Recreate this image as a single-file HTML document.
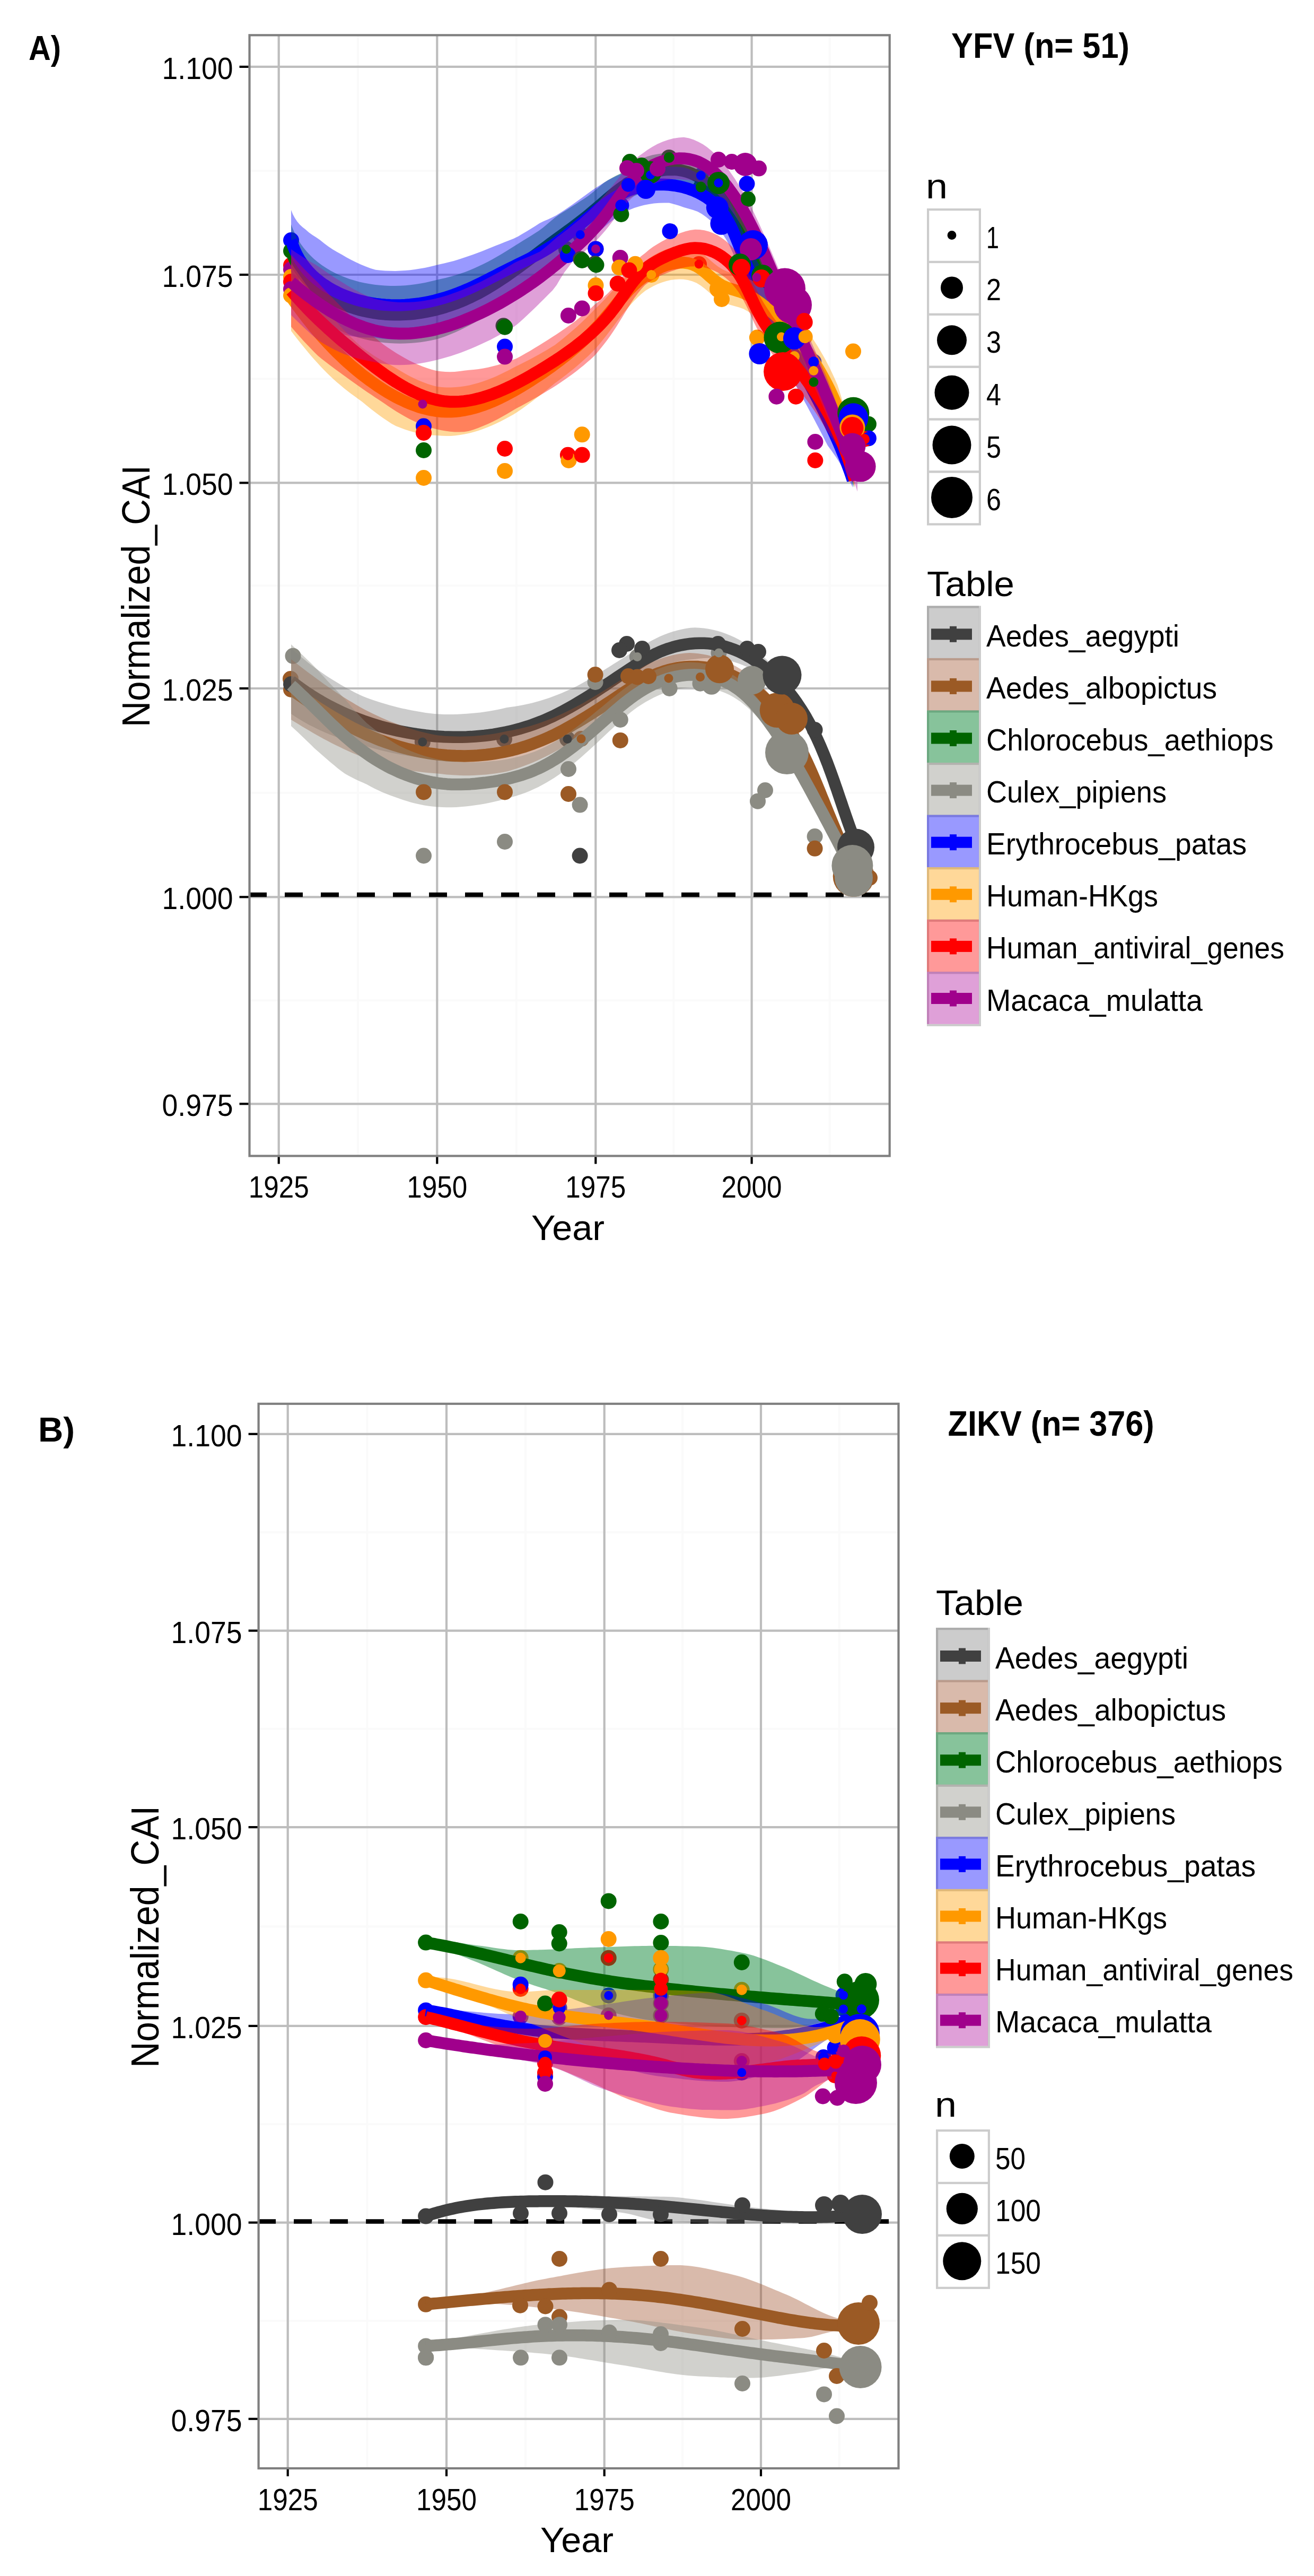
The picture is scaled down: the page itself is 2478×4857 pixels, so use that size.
<!DOCTYPE html>
<html lang="en"><head><meta charset="utf-8"><title>Normalized CAI over time: YFV and ZIKV</title>
<style>html,body{margin:0;padding:0;background:#fff}body{width:2478px;height:4857px;overflow:hidden}svg{display:block}text{white-space:pre}</style>
</head><body>
<svg width="2478" height="4857" viewBox="0 0 2478 4857" font-family='"Liberation Sans", sans-serif' fill="#000">
<rect width="2478" height="4857" fill="#fff"/>
<rect x="470.5" y="66.3" width="1207.2" height="2113.2" fill="#fff"/>
<line x1="675.0" x2="675.0" y1="66.3" y2="2179.5" stroke="#fafafa" stroke-width="4"/>
<line x1="973.8" x2="973.8" y1="66.3" y2="2179.5" stroke="#fafafa" stroke-width="4"/>
<line x1="1270.4" x2="1270.4" y1="66.3" y2="2179.5" stroke="#fafafa" stroke-width="4"/>
<line x1="1564.8" x2="1564.8" y1="66.3" y2="2179.5" stroke="#fafafa" stroke-width="4"/>
<line x1="470.5" x2="1677.7" y1="321.9" y2="321.9" stroke="#fafafa" stroke-width="4"/>
<line x1="470.5" x2="1677.7" y1="714.2" y2="714.2" stroke="#fafafa" stroke-width="4"/>
<line x1="470.5" x2="1677.7" y1="1104.2" y2="1104.2" stroke="#fafafa" stroke-width="4"/>
<line x1="470.5" x2="1677.7" y1="1494.7" y2="1494.7" stroke="#fafafa" stroke-width="4"/>
<line x1="470.5" x2="1677.7" y1="1886.3" y2="1886.3" stroke="#fafafa" stroke-width="4"/>
<line x1="525.7" x2="525.7" y1="66.3" y2="2179.5" stroke="#bdbdbd" stroke-width="4.2"/>
<line x1="824.3" x2="824.3" y1="66.3" y2="2179.5" stroke="#bdbdbd" stroke-width="4.2"/>
<line x1="1123.3" x2="1123.3" y1="66.3" y2="2179.5" stroke="#bdbdbd" stroke-width="4.2"/>
<line x1="1417.6" x2="1417.6" y1="66.3" y2="2179.5" stroke="#bdbdbd" stroke-width="4.2"/>
<line x1="470.5" x2="1677.7" y1="125.9" y2="125.9" stroke="#bdbdbd" stroke-width="4.2"/>
<line x1="470.5" x2="1677.7" y1="518.0" y2="518.0" stroke="#bdbdbd" stroke-width="4.2"/>
<line x1="470.5" x2="1677.7" y1="910.4" y2="910.4" stroke="#bdbdbd" stroke-width="4.2"/>
<line x1="470.5" x2="1677.7" y1="1298.0" y2="1298.0" stroke="#bdbdbd" stroke-width="4.2"/>
<line x1="470.5" x2="1677.7" y1="1691.3" y2="1691.3" stroke="#bdbdbd" stroke-width="4.2"/>
<line x1="470.5" x2="1677.7" y1="2081.3" y2="2081.3" stroke="#bdbdbd" stroke-width="4.2"/>
<line x1="469.0" x2="1677.7" y1="1687" y2="1687" stroke="#000" stroke-width="8.3" stroke-dasharray="34 34"/>
<circle cx="549.0" cy="453.0" r="15" fill="#0000ff"/>
<circle cx="549.0" cy="473.0" r="15" fill="#006400"/>
<circle cx="549.0" cy="500.0" r="15" fill="#ff0000"/>
<circle cx="549.0" cy="508.0" r="15" fill="#a0008c"/>
<circle cx="549.0" cy="522.0" r="15" fill="#ff9900"/>
<circle cx="549.0" cy="531.0" r="15" fill="#ff0000"/>
<circle cx="549.0" cy="545.0" r="15" fill="#a0008c"/>
<circle cx="549.0" cy="557.0" r="15" fill="#ff9900"/>
<circle cx="552.5" cy="1236.8" r="15" fill="#8b8b83"/>
<circle cx="548.0" cy="1280.0" r="15" fill="#9b5a25"/>
<circle cx="549.0" cy="1300.0" r="15" fill="#9b5a25"/>
<circle cx="549.0" cy="1290.0" r="15" fill="#404040"/>
<circle cx="796.8" cy="1398.9" r="15" fill="#404040"/>
<circle cx="951.0" cy="1393.4" r="15" fill="#404040"/>
<circle cx="1070.0" cy="1393.4" r="15" fill="#404040"/>
<circle cx="1096.0" cy="1393.0" r="15" fill="#9b5a25"/>
<circle cx="1261.0" cy="1279.0" r="15" fill="#9b5a25"/>
<circle cx="1320.5" cy="1276.5" r="15" fill="#9b5a25"/>
<circle cx="1201.8" cy="1238.5" r="15" fill="#8b8b83"/>
<circle cx="1355.5" cy="1231.0" r="15" fill="#8b8b83"/>
<circle cx="1640.0" cy="1655.0" r="15" fill="#9b5a25"/>
<circle cx="797.0" cy="762.0" r="15" fill="#a0008c"/>
<circle cx="1094.3" cy="442.6" r="15" fill="#0000ff"/>
<circle cx="1068.0" cy="470.0" r="15" fill="#006400"/>
<circle cx="1123.5" cy="469.4" r="15" fill="#a0008c"/>
<circle cx="1070.9" cy="857.8" r="15" fill="#ff0000"/>
<circle cx="1228.3" cy="518.0" r="15" fill="#ff9900"/>
<circle cx="1261.8" cy="296.9" r="15" fill="#006400"/>
<circle cx="1171.4" cy="387.3" r="15" fill="#0000ff"/>
<circle cx="1184.8" cy="348.8" r="15" fill="#0000ff"/>
<circle cx="1226.6" cy="330.0" r="15" fill="#0000ff"/>
<circle cx="1321.8" cy="352.6" r="15" fill="#006400"/>
<circle cx="1410.0" cy="375.5" r="15" fill="#006400"/>
<circle cx="1355.0" cy="345.0" r="15" fill="#0000ff"/>
<circle cx="1321.8" cy="331.0" r="15" fill="#0000ff"/>
<circle cx="1361.0" cy="564.0" r="15" fill="#ff9900"/>
<circle cx="1318.0" cy="500.0" r="15" fill="#ff9900"/>
<circle cx="1318.0" cy="498.0" r="15" fill="#ff0000"/>
<circle cx="1426.8" cy="523.0" r="15" fill="#a0008c"/>
<circle cx="1427.9" cy="636.6" r="15" fill="#ff9900"/>
<circle cx="1473.5" cy="635.0" r="15" fill="#ff9900"/>
<circle cx="1517.7" cy="635.0" r="15" fill="#ff9900"/>
<circle cx="1498.0" cy="672.0" r="15" fill="#ff9900"/>
<circle cx="1517.7" cy="607.7" r="15" fill="#ff0000"/>
<circle cx="1534.4" cy="682.3" r="15" fill="#0000ff"/>
<circle cx="1534.4" cy="699.0" r="15" fill="#ff9900"/>
<circle cx="1534.4" cy="720.3" r="15" fill="#006400"/>
<circle cx="1637.9" cy="799.7" r="15" fill="#006400"/>
<circle cx="1637.9" cy="826.4" r="15" fill="#0000ff"/>
<circle cx="1630.0" cy="828.0" r="15" fill="#ff0000"/>
<path d="M549.0,1222.0 L555.7,1228.1 L562.4,1234.0 L569.3,1239.8 L576.3,1245.6 L583.4,1251.2 L590.7,1256.7 L598.0,1262.0 L605.4,1267.3 L612.9,1272.4 L620.5,1277.4 L628.2,1282.3 L636.0,1287.1 L643.8,1291.7 L651.8,1296.2 L659.8,1300.6 L667.8,1304.9 L676.0,1309.0 L684.2,1312.8 L692.4,1315.9 L700.7,1318.9 L709.0,1321.8 L717.4,1324.5 L725.9,1327.0 L734.3,1329.5 L742.8,1331.8 L751.3,1333.9 L759.9,1335.9 L768.5,1337.8 L777.1,1339.5 L785.7,1341.1 L794.3,1342.6 L802.9,1343.9 L811.5,1345.0 L820.1,1346.0 L828.7,1346.6 L837.3,1346.9 L845.9,1346.9 L854.5,1346.9 L863.0,1346.7 L871.5,1346.3 L880.0,1345.8 L888.5,1345.1 L896.9,1344.3 L905.3,1343.4 L913.6,1342.3 L922.0,1341.0 L930.3,1339.6 L938.6,1338.0 L946.8,1336.2 L955.0,1334.3 L963.2,1333.1 L971.3,1332.0 L979.5,1330.6 L987.5,1329.1 L995.6,1327.3 L1003.6,1325.4 L1011.6,1323.3 L1019.6,1321.1 L1027.5,1318.6 L1035.4,1315.9 L1043.3,1313.1 L1051.1,1310.1 L1058.9,1306.9 L1066.6,1303.5 L1074.4,1300.0 L1082.1,1296.4 L1089.7,1292.7 L1097.3,1288.6 L1104.9,1284.2 L1112.5,1279.7 L1120.0,1275.2 L1127.5,1270.6 L1135.0,1266.0 L1142.4,1261.3 L1149.8,1256.7 L1157.1,1252.0 L1164.4,1247.4 L1171.7,1242.8 L1178.9,1238.2 L1186.2,1233.7 L1193.3,1229.3 L1200.5,1224.9 L1207.7,1220.3 L1214.9,1215.9 L1222.2,1211.6 L1229.6,1207.5 L1237.0,1203.7 L1244.6,1200.1 L1252.4,1196.8 L1260.3,1193.8 L1268.4,1191.1 L1276.6,1188.7 L1285.0,1186.7 L1293.5,1185.1 L1302.0,1183.8 L1310.6,1183.2 L1319.1,1183.7 L1327.7,1184.5 L1336.2,1185.7 L1344.6,1187.4 L1353.0,1189.5 L1361.2,1192.0 L1369.4,1194.9 L1377.4,1198.2 L1385.3,1201.8 L1393.1,1205.8 L1400.8,1210.2 L1408.3,1214.8 L1415.7,1219.7 L1423.0,1225.0 L1430.1,1230.4 L1437.1,1236.2 L1443.9,1242.1 L1450.6,1248.3 L1457.0,1254.7 L1463.4,1261.2 L1469.5,1268.0 L1475.4,1274.9 L1481.2,1281.9 L1486.8,1289.0 L1492.1,1296.2 L1497.3,1303.3 L1502.3,1310.6 L1507.1,1317.9 L1511.8,1325.4 L1516.3,1332.9 L1520.7,1340.5 L1524.9,1348.2 L1529.0,1356.0 L1532.9,1363.8 L1536.7,1371.8 L1540.4,1379.7 L1544.0,1387.8 L1547.5,1395.9 L1550.9,1404.0 L1554.2,1412.2 L1557.4,1420.5 L1560.6,1428.7 L1563.6,1437.0 L1566.7,1445.3 L1569.6,1453.7 L1572.6,1462.1 L1575.4,1470.4 L1578.3,1478.8 L1581.1,1487.2 L1583.9,1495.6 L1586.7,1503.9 L1589.5,1512.3 L1592.3,1520.6 L1595.1,1528.9 L1597.9,1537.2 L1600.8,1545.5 L1603.7,1553.7 L1606.6,1561.9 L1609.6,1570.0 L1612.6,1578.1 L1615.6,1586.1 L1618.8,1594.1 L1622.0,1602.0 L1622.0,1618.0 L1618.8,1610.4 L1615.6,1602.7 L1612.6,1595.0 L1609.6,1587.2 L1606.6,1579.3 L1603.7,1571.4 L1600.8,1563.4 L1597.9,1555.4 L1595.1,1547.4 L1592.3,1539.3 L1589.5,1531.3 L1586.7,1523.2 L1583.9,1515.0 L1581.1,1506.9 L1578.3,1498.8 L1575.4,1490.7 L1572.6,1482.6 L1569.6,1474.5 L1566.7,1466.4 L1563.6,1458.4 L1560.6,1450.4 L1557.4,1442.4 L1554.2,1434.4 L1550.9,1426.5 L1547.5,1418.7 L1544.0,1410.9 L1540.4,1403.2 L1536.7,1395.6 L1532.9,1388.0 L1529.0,1380.5 L1524.9,1373.1 L1520.7,1365.8 L1516.3,1358.6 L1511.8,1351.5 L1507.1,1344.4 L1502.3,1337.5 L1497.3,1330.8 L1492.1,1324.1 L1486.8,1317.8 L1481.2,1311.6 L1475.4,1305.6 L1469.5,1299.8 L1463.4,1294.1 L1457.0,1288.7 L1450.6,1283.4 L1443.9,1278.4 L1437.1,1273.6 L1430.1,1269.1 L1423.0,1264.9 L1415.7,1261.0 L1408.3,1257.3 L1400.8,1254.0 L1393.1,1251.0 L1385.3,1248.4 L1377.4,1246.1 L1369.4,1244.2 L1361.2,1242.8 L1353.0,1241.7 L1344.6,1241.0 L1336.2,1240.8 L1327.7,1241.1 L1319.1,1241.7 L1310.6,1242.8 L1302.0,1243.6 L1293.5,1244.6 L1285.0,1245.9 L1276.6,1247.6 L1268.4,1249.6 L1260.3,1252.0 L1252.4,1254.7 L1244.6,1257.8 L1237.0,1261.1 L1229.6,1264.6 L1222.2,1268.4 L1214.9,1272.4 L1207.7,1276.6 L1200.5,1281.0 L1193.3,1285.8 L1186.2,1290.8 L1178.9,1295.8 L1171.7,1300.9 L1164.4,1306.0 L1157.1,1311.2 L1149.8,1316.4 L1142.4,1321.6 L1135.0,1326.8 L1127.5,1332.0 L1120.0,1337.1 L1112.5,1342.2 L1104.9,1347.3 L1097.3,1352.3 L1089.7,1357.4 L1082.1,1362.7 L1074.4,1367.8 L1066.6,1372.9 L1058.9,1377.8 L1051.1,1382.6 L1043.3,1387.3 L1035.4,1391.7 L1027.5,1396.0 L1019.6,1400.1 L1011.6,1404.0 L1003.6,1407.7 L995.6,1411.2 L987.5,1414.6 L979.5,1417.8 L971.3,1420.8 L963.2,1423.7 L955.0,1426.2 L946.8,1427.7 L938.6,1428.9 L930.3,1430.0 L922.0,1430.9 L913.6,1431.7 L905.3,1432.3 L896.9,1432.8 L888.5,1433.1 L880.0,1433.2 L871.5,1433.2 L863.0,1433.0 L854.5,1432.7 L845.9,1432.3 L837.3,1431.7 L828.7,1430.9 L820.1,1430.3 L811.5,1429.7 L802.9,1429.1 L794.3,1428.2 L785.7,1427.3 L777.1,1426.2 L768.5,1424.9 L759.9,1423.5 L751.3,1422.0 L742.8,1420.3 L734.3,1418.5 L725.9,1416.6 L717.4,1414.5 L709.0,1412.2 L700.7,1409.9 L692.4,1407.4 L684.2,1404.7 L676.0,1402.5 L667.8,1400.3 L659.8,1398.0 L651.8,1395.5 L643.8,1392.9 L636.0,1390.2 L628.2,1387.3 L620.5,1384.2 L612.9,1381.0 L605.4,1377.7 L598.0,1374.3 L590.7,1370.6 L583.4,1366.9 L576.3,1363.0 L569.3,1359.0 L562.4,1354.8 L555.7,1350.5 L549.0,1346.0Z" fill="#7f7f7f" fill-opacity="0.4"/>
<path d="M549.0,1284.0 L555.7,1289.3 L562.4,1294.4 L569.3,1299.4 L576.3,1304.3 L583.4,1309.0 L590.7,1313.7 L598.0,1318.1 L605.4,1322.5 L612.9,1326.7 L620.5,1330.8 L628.2,1334.8 L636.0,1338.6 L643.8,1342.3 L651.8,1345.9 L659.8,1349.3 L667.8,1352.6 L676.0,1355.7 L684.2,1358.8 L692.4,1361.6 L700.7,1364.4 L709.0,1367.0 L717.4,1369.5 L725.9,1371.8 L734.3,1374.0 L742.8,1376.0 L751.3,1378.0 L759.9,1379.7 L768.5,1381.4 L777.1,1382.8 L785.7,1384.2 L794.3,1385.4 L802.9,1386.5 L811.5,1387.4 L820.1,1388.2 L828.7,1388.8 L837.3,1389.3 L845.9,1389.6 L854.5,1389.8 L863.0,1389.8 L871.5,1389.7 L880.0,1389.5 L888.5,1389.1 L896.9,1388.5 L905.3,1387.8 L913.6,1387.0 L922.0,1386.0 L930.3,1384.8 L938.6,1383.4 L946.8,1381.9 L955.0,1380.3 L963.2,1378.4 L971.3,1376.4 L979.5,1374.2 L987.5,1371.8 L995.6,1369.3 L1003.6,1366.6 L1011.6,1363.7 L1019.6,1360.6 L1027.5,1357.3 L1035.4,1353.8 L1043.3,1350.2 L1051.1,1346.3 L1058.9,1342.4 L1066.6,1338.2 L1074.4,1333.9 L1082.1,1329.5 L1089.7,1325.0 L1097.3,1320.4 L1104.9,1315.7 L1112.5,1311.0 L1120.0,1306.2 L1127.5,1301.3 L1135.0,1296.4 L1142.4,1291.5 L1149.8,1286.5 L1157.1,1281.6 L1164.4,1276.7 L1171.7,1271.8 L1178.9,1267.0 L1186.2,1262.3 L1193.3,1257.6 L1200.5,1253.0 L1207.7,1248.5 L1214.9,1244.2 L1222.2,1240.0 L1229.6,1236.1 L1237.0,1232.4 L1244.6,1228.9 L1252.4,1225.8 L1260.3,1222.9 L1268.4,1220.4 L1276.6,1218.2 L1285.0,1216.3 L1293.5,1214.8 L1302.0,1213.7 L1310.6,1213.0 L1319.1,1212.7 L1327.7,1212.8 L1336.2,1213.3 L1344.6,1214.2 L1353.0,1215.6 L1361.2,1217.4 L1369.4,1219.6 L1377.4,1222.2 L1385.3,1225.1 L1393.1,1228.4 L1400.8,1232.1 L1408.3,1236.1 L1415.7,1240.3 L1423.0,1244.9 L1430.1,1249.8 L1437.1,1254.9 L1443.9,1260.3 L1450.6,1265.9 L1457.0,1271.7 L1463.4,1277.7 L1469.5,1283.9 L1475.4,1290.2 L1481.2,1296.7 L1486.8,1303.4 L1492.1,1310.2 L1497.3,1317.1 L1502.3,1324.1 L1507.1,1331.2 L1511.8,1338.4 L1516.3,1345.7 L1520.7,1353.1 L1524.9,1360.7 L1529.0,1368.2 L1532.9,1375.9 L1536.7,1383.7 L1540.4,1391.5 L1544.0,1399.4 L1547.5,1407.3 L1550.9,1415.3 L1554.2,1423.3 L1557.4,1431.4 L1560.6,1439.5 L1563.6,1447.7 L1566.7,1455.9 L1569.6,1464.1 L1572.6,1472.3 L1575.4,1480.6 L1578.3,1488.8 L1581.1,1497.1 L1583.9,1505.3 L1586.7,1513.5 L1589.5,1521.8 L1592.3,1530.0 L1595.1,1538.2 L1597.9,1546.3 L1600.8,1554.5 L1603.7,1562.5 L1606.6,1570.6 L1609.6,1578.6 L1612.6,1586.5 L1615.6,1594.4 L1618.8,1602.2 L1622.0,1610.0" fill="none" stroke="#404040" stroke-width="22.5" stroke-linejoin="round"/>
<path d="M549.0,1243.0 L555.5,1248.1 L562.2,1253.3 L568.9,1258.5 L575.7,1263.7 L582.6,1268.9 L589.6,1274.1 L596.6,1279.3 L603.8,1284.5 L611.0,1289.7 L618.3,1294.8 L625.7,1299.8 L633.2,1304.9 L640.7,1309.8 L648.3,1314.7 L655.9,1319.4 L663.6,1324.1 L671.4,1328.7 L679.2,1333.2 L687.0,1337.4 L694.9,1341.5 L702.9,1345.5 L710.9,1349.3 L718.9,1353.0 L727.0,1356.5 L735.1,1359.9 L743.3,1363.1 L751.4,1366.2 L759.6,1369.1 L767.9,1371.8 L776.1,1374.4 L784.4,1376.9 L792.6,1379.2 L800.9,1381.3 L809.2,1383.2 L817.5,1385.0 L825.9,1386.5 L834.2,1387.3 L842.5,1387.9 L850.8,1388.3 L859.1,1388.6 L867.4,1388.7 L875.7,1388.6 L883.9,1388.3 L892.2,1387.9 L900.4,1387.3 L908.7,1386.6 L916.9,1385.6 L925.1,1384.5 L933.3,1383.2 L941.4,1381.7 L949.6,1380.1 L957.7,1378.3 L965.8,1376.9 L973.8,1375.3 L981.9,1373.5 L989.9,1371.6 L997.9,1369.4 L1005.9,1367.0 L1013.8,1364.5 L1021.7,1361.8 L1029.6,1358.8 L1037.5,1355.7 L1045.3,1352.5 L1053.1,1349.1 L1060.8,1345.5 L1068.5,1341.8 L1076.2,1338.0 L1083.9,1334.1 L1091.5,1330.1 L1099.0,1325.9 L1106.5,1321.5 L1114.0,1317.1 L1121.4,1312.7 L1128.8,1308.2 L1136.2,1303.7 L1143.4,1299.2 L1150.7,1294.7 L1157.9,1290.2 L1165.0,1285.7 L1172.1,1281.3 L1179.2,1276.9 L1186.2,1272.6 L1193.2,1268.4 L1200.3,1264.3 L1207.3,1260.1 L1214.5,1256.1 L1221.7,1252.3 L1229.0,1248.8 L1236.4,1245.5 L1244.0,1242.5 L1251.7,1239.8 L1259.6,1237.4 L1267.5,1235.4 L1275.6,1233.7 L1283.8,1232.4 L1292.0,1231.5 L1300.3,1231.1 L1308.6,1231.4 L1316.9,1232.2 L1325.2,1233.4 L1333.6,1235.1 L1341.9,1237.2 L1350.1,1239.6 L1358.2,1242.5 L1366.3,1245.7 L1374.3,1249.3 L1382.1,1253.2 L1389.7,1257.4 L1397.2,1261.9 L1404.5,1266.8 L1411.5,1271.9 L1418.4,1277.3 L1425.0,1282.9 L1431.5,1288.8 L1437.7,1294.8 L1443.8,1301.1 L1449.6,1307.5 L1455.3,1314.1 L1460.8,1320.8 L1466.2,1327.7 L1471.3,1334.6 L1476.3,1341.8 L1481.1,1349.0 L1485.8,1356.3 L1490.4,1363.7 L1494.8,1371.2 L1499.0,1378.7 L1503.2,1386.3 L1507.2,1394.0 L1511.2,1401.7 L1515.0,1409.5 L1518.7,1417.4 L1522.4,1425.4 L1526.0,1433.4 L1529.5,1441.4 L1533.0,1449.4 L1536.4,1457.5 L1539.7,1465.7 L1543.0,1473.8 L1546.3,1482.0 L1549.5,1490.1 L1552.8,1498.3 L1556.0,1506.5 L1559.2,1514.6 L1562.4,1522.8 L1565.7,1530.9 L1568.9,1539.0 L1572.2,1547.0 L1575.5,1555.0 L1578.8,1563.0 L1582.2,1570.9 L1585.7,1578.8 L1589.2,1586.6 L1592.8,1594.3 L1596.4,1602.0 L1600.2,1609.5 L1604.0,1617.0 L1608.0,1624.4 L1612.0,1631.7 L1612.0,1648.3 L1608.0,1641.4 L1604.0,1634.3 L1600.2,1627.2 L1596.4,1620.0 L1592.8,1612.7 L1589.2,1605.3 L1585.7,1597.8 L1582.2,1590.3 L1578.8,1582.7 L1575.5,1575.0 L1572.2,1567.3 L1568.9,1559.6 L1565.7,1551.8 L1562.4,1544.0 L1559.2,1536.2 L1556.0,1528.3 L1552.8,1520.5 L1549.5,1512.6 L1546.3,1504.7 L1543.0,1496.9 L1539.7,1489.1 L1536.4,1481.3 L1533.0,1473.5 L1529.5,1465.7 L1526.0,1458.0 L1522.4,1450.4 L1518.7,1442.8 L1515.0,1435.3 L1511.2,1427.8 L1507.2,1420.4 L1503.2,1413.1 L1499.0,1405.9 L1494.8,1398.8 L1490.4,1391.8 L1485.8,1385.0 L1481.1,1378.3 L1476.3,1371.7 L1471.3,1365.2 L1466.2,1358.9 L1460.8,1352.8 L1455.3,1346.8 L1449.6,1340.9 L1443.8,1335.3 L1437.7,1329.8 L1431.5,1324.6 L1425.0,1319.6 L1418.4,1314.9 L1411.5,1310.4 L1404.5,1306.2 L1397.2,1302.3 L1389.7,1298.6 L1382.1,1295.3 L1374.3,1292.3 L1366.3,1289.7 L1358.2,1287.4 L1350.1,1285.6 L1341.9,1284.1 L1333.6,1283.0 L1325.2,1282.3 L1316.9,1282.1 L1308.6,1282.3 L1300.3,1282.9 L1292.0,1283.5 L1283.8,1284.4 L1275.6,1285.7 L1267.5,1287.4 L1259.6,1289.4 L1251.7,1291.8 L1244.0,1294.5 L1236.4,1297.5 L1229.0,1300.8 L1221.7,1304.3 L1214.5,1308.1 L1207.3,1312.1 L1200.3,1316.3 L1193.2,1320.9 L1186.2,1325.6 L1179.2,1330.5 L1172.1,1335.4 L1165.0,1340.4 L1157.9,1345.4 L1150.7,1350.4 L1143.4,1355.5 L1136.2,1360.5 L1128.8,1365.6 L1121.4,1370.6 L1114.0,1375.6 L1106.5,1380.5 L1099.0,1385.4 L1091.5,1390.3 L1083.9,1395.2 L1076.2,1400.0 L1068.5,1404.7 L1060.8,1409.3 L1053.1,1413.7 L1045.3,1418.1 L1037.5,1422.2 L1029.6,1426.2 L1021.7,1430.1 L1013.8,1433.7 L1005.9,1437.2 L997.9,1440.5 L989.9,1443.6 L981.9,1446.5 L973.8,1449.2 L965.8,1451.8 L957.7,1454.2 L949.6,1455.9 L941.4,1457.3 L933.3,1458.5 L925.1,1459.6 L916.9,1460.4 L908.7,1461.1 L900.4,1461.6 L892.2,1462.0 L883.9,1462.2 L875.7,1462.2 L867.4,1462.0 L859.1,1461.6 L850.8,1461.1 L842.5,1460.4 L834.2,1459.6 L825.9,1458.6 L817.5,1458.0 L809.2,1457.3 L800.9,1456.5 L792.6,1455.6 L784.4,1454.5 L776.1,1453.2 L767.9,1451.7 L759.6,1450.1 L751.4,1448.4 L743.3,1446.5 L735.1,1444.4 L727.0,1442.2 L718.9,1439.8 L710.9,1437.2 L702.9,1434.6 L694.9,1431.7 L687.0,1428.7 L679.2,1425.6 L671.4,1422.5 L663.6,1419.2 L655.9,1415.8 L648.3,1412.2 L640.7,1408.6 L633.2,1404.9 L625.7,1401.2 L618.3,1397.3 L611.0,1393.4 L603.8,1389.4 L596.6,1385.4 L589.6,1381.4 L582.6,1377.3 L575.7,1373.3 L568.9,1369.2 L562.2,1365.1 L555.5,1361.0 L549.0,1357.0Z" fill="#a0522d" fill-opacity="0.4"/>
<path d="M549.0,1300.0 L555.5,1304.6 L562.2,1309.2 L568.9,1313.8 L575.7,1318.5 L582.6,1323.1 L589.6,1327.7 L596.6,1332.4 L603.8,1337.0 L611.0,1341.5 L618.3,1346.0 L625.7,1350.5 L633.2,1354.9 L640.7,1359.2 L648.3,1363.5 L655.9,1367.6 L663.6,1371.7 L671.4,1375.6 L679.2,1379.4 L687.0,1383.1 L694.9,1386.6 L702.9,1390.0 L710.9,1393.3 L718.9,1396.4 L727.0,1399.3 L735.1,1402.1 L743.3,1404.8 L751.4,1407.3 L759.6,1409.6 L767.9,1411.8 L776.1,1413.8 L784.4,1415.7 L792.6,1417.4 L800.9,1418.9 L809.2,1420.3 L817.5,1421.5 L825.9,1422.6 L834.2,1423.4 L842.5,1424.2 L850.8,1424.7 L859.1,1425.1 L867.4,1425.3 L875.7,1425.4 L883.9,1425.2 L892.2,1424.9 L900.4,1424.5 L908.7,1423.8 L916.9,1423.0 L925.1,1422.0 L933.3,1420.8 L941.4,1419.5 L949.6,1418.0 L957.7,1416.2 L965.8,1414.4 L973.8,1412.3 L981.9,1410.0 L989.9,1407.6 L997.9,1404.9 L1005.9,1402.1 L1013.8,1399.1 L1021.7,1395.9 L1029.6,1392.5 L1037.5,1389.0 L1045.3,1385.3 L1053.1,1381.4 L1060.8,1377.4 L1068.5,1373.2 L1076.2,1369.0 L1083.9,1364.6 L1091.5,1360.2 L1099.0,1355.6 L1106.5,1351.0 L1114.0,1346.4 L1121.4,1341.6 L1128.8,1336.9 L1136.2,1332.1 L1143.4,1327.3 L1150.7,1322.6 L1157.9,1317.8 L1165.0,1313.0 L1172.1,1308.3 L1179.2,1303.7 L1186.2,1299.1 L1193.2,1294.6 L1200.3,1290.3 L1207.3,1286.1 L1214.5,1282.1 L1221.7,1278.3 L1229.0,1274.8 L1236.4,1271.5 L1244.0,1268.5 L1251.7,1265.8 L1259.6,1263.4 L1267.5,1261.4 L1275.6,1259.7 L1283.8,1258.4 L1292.0,1257.5 L1300.3,1257.0 L1308.6,1256.9 L1316.9,1257.1 L1325.2,1257.9 L1333.6,1259.0 L1341.9,1260.6 L1350.1,1262.6 L1358.2,1265.0 L1366.3,1267.7 L1374.3,1270.8 L1382.1,1274.3 L1389.7,1278.0 L1397.2,1282.1 L1404.5,1286.5 L1411.5,1291.2 L1418.4,1296.1 L1425.0,1301.3 L1431.5,1306.7 L1437.7,1312.3 L1443.8,1318.2 L1449.6,1324.2 L1455.3,1330.4 L1460.8,1336.8 L1466.2,1343.3 L1471.3,1349.9 L1476.3,1356.7 L1481.1,1363.6 L1485.8,1370.6 L1490.4,1377.8 L1494.8,1385.0 L1499.0,1392.3 L1503.2,1399.7 L1507.2,1407.2 L1511.2,1414.8 L1515.0,1422.4 L1518.7,1430.1 L1522.4,1437.9 L1526.0,1445.7 L1529.5,1453.6 L1533.0,1461.5 L1536.4,1469.4 L1539.7,1477.4 L1543.0,1485.4 L1546.3,1493.4 L1549.5,1501.4 L1552.8,1509.4 L1556.0,1517.4 L1559.2,1525.4 L1562.4,1533.4 L1565.7,1541.3 L1568.9,1549.3 L1572.2,1557.2 L1575.5,1565.0 L1578.8,1572.8 L1582.2,1580.6 L1585.7,1588.3 L1589.2,1595.9 L1592.8,1603.5 L1596.4,1611.0 L1600.2,1618.4 L1604.0,1625.7 L1608.0,1632.9 L1612.0,1640.0" fill="none" stroke="#9b5a25" stroke-width="22.5" stroke-linejoin="round"/>
<path d="M549.0,423.0 L552.7,432.8 L556.9,442.1 L561.6,451.0 L566.9,459.4 L572.6,467.3 L578.8,474.8 L585.4,481.8 L592.4,488.4 L599.7,494.5 L607.4,500.2 L615.4,505.5 L623.7,510.4 L632.2,514.9 L640.9,519.0 L649.9,522.6 L659.0,525.9 L668.3,528.8 L677.7,531.4 L687.2,533.5 L696.8,535.3 L706.3,536.7 L716.0,537.8 L725.6,538.6 L735.3,539.0 L744.9,539.0 L754.6,538.8 L764.3,538.2 L773.9,537.3 L783.6,536.1 L793.1,534.5 L802.7,532.7 L812.2,530.6 L821.7,528.2 L831.1,526.1 L840.4,524.0 L849.6,521.6 L858.8,518.9 L867.9,516.0 L876.9,512.9 L885.7,509.4 L894.5,505.7 L903.2,501.8 L911.7,497.7 L920.2,493.4 L928.5,488.9 L936.8,484.3 L945.0,479.5 L953.2,474.5 L961.2,469.5 L969.2,464.4 L977.2,459.4 L985.1,454.6 L992.9,449.7 L1000.7,444.9 L1008.5,440.0 L1016.3,435.1 L1024.0,429.3 L1031.7,422.7 L1039.4,416.2 L1047.2,409.7 L1054.9,404.3 L1062.5,399.5 L1070.2,394.7 L1077.9,389.8 L1085.6,384.9 L1093.2,380.1 L1100.8,375.2 L1108.4,370.1 L1115.9,364.2 L1123.4,357.9 L1130.9,351.4 L1138.4,345.0 L1145.9,340.1 L1153.5,335.8 L1161.2,331.6 L1169.1,327.7 L1177.1,321.4 L1185.4,315.1 L1193.9,309.1 L1202.6,303.6 L1211.7,298.5 L1221.0,294.9 L1230.5,292.3 L1240.1,290.4 L1249.7,289.1 L1259.3,288.5 L1268.8,288.7 L1278.2,289.7 L1287.3,291.5 L1296.2,294.1 L1304.8,297.3 L1313.1,301.3 L1321.1,306.0 L1328.8,311.3 L1336.2,317.3 L1343.3,323.8 L1350.1,330.6 L1356.6,337.9 L1362.9,345.2 L1368.9,352.3 L1374.6,359.7 L1380.1,367.2 L1385.4,374.9 L1390.4,382.7 L1395.2,390.7 L1399.9,398.9 L1404.4,407.1 L1408.7,415.4 L1412.9,423.9 L1417.0,432.4 L1421.0,441.1 L1424.9,450.1 L1428.8,459.2 L1432.6,468.3 L1436.4,477.4 L1440.2,486.5 L1443.9,495.6 L1447.7,504.7 L1451.5,513.7 L1455.4,522.8 L1459.4,531.7 L1463.4,540.7 L1467.4,549.6 L1471.5,558.4 L1475.7,567.3 L1479.8,576.1 L1484.1,584.9 L1488.3,593.6 L1492.6,602.3 L1496.9,611.1 L1501.2,619.8 L1505.5,628.4 L1509.8,637.1 L1514.1,645.8 L1518.5,654.5 L1522.8,663.1 L1527.1,671.8 L1531.4,680.5 L1535.7,689.2 L1539.9,697.9 L1544.1,706.6 L1548.3,715.3 L1552.5,724.1 L1556.6,732.8 L1560.6,741.9 L1564.6,752.5 L1568.6,763.1 L1572.5,773.7 L1576.3,784.3 L1580.0,794.9 L1583.7,805.5 L1587.3,816.2 L1590.9,826.8 L1594.3,837.5 L1597.6,848.1 L1600.9,858.8 L1604.0,869.5 L1607.1,880.3 L1610.0,891.0 L1610.0,919.0 L1607.1,910.8 L1604.0,902.8 L1600.9,894.9 L1597.6,887.0 L1594.3,879.3 L1590.9,871.7 L1587.3,864.1 L1583.7,856.6 L1580.0,849.2 L1576.3,841.9 L1572.5,834.7 L1568.6,827.5 L1564.6,820.4 L1560.6,813.3 L1556.6,804.8 L1552.5,796.1 L1548.3,787.3 L1544.1,778.6 L1539.9,769.9 L1535.7,761.2 L1531.4,752.5 L1527.1,743.8 L1522.8,735.1 L1518.5,726.5 L1514.1,717.8 L1509.8,709.1 L1505.5,700.4 L1501.2,691.8 L1496.9,683.1 L1492.6,674.3 L1488.3,665.6 L1484.1,656.9 L1479.8,648.1 L1475.7,639.3 L1471.5,630.4 L1467.4,621.6 L1463.4,612.7 L1459.4,603.7 L1455.4,594.8 L1451.5,585.7 L1447.7,576.7 L1443.9,567.6 L1440.2,558.5 L1436.4,549.4 L1432.6,540.3 L1428.8,531.2 L1424.9,522.1 L1421.0,513.1 L1417.0,503.8 L1412.9,494.5 L1408.7,485.2 L1404.4,476.0 L1399.9,466.8 L1395.2,457.8 L1390.4,448.8 L1385.4,440.0 L1380.1,431.2 L1374.6,422.6 L1368.9,414.1 L1362.9,405.7 L1356.6,397.9 L1350.1,390.6 L1343.3,383.8 L1336.2,377.3 L1328.8,371.3 L1321.1,366.0 L1313.1,361.3 L1304.8,357.3 L1296.2,354.1 L1287.3,352.0 L1278.2,350.9 L1268.8,350.6 L1259.3,351.2 L1249.7,352.5 L1240.1,354.5 L1230.5,357.1 L1221.0,360.4 L1211.7,363.8 L1202.6,366.8 L1193.9,370.4 L1185.4,374.5 L1177.1,379.0 L1169.1,384.2 L1161.2,392.3 L1153.5,400.6 L1145.9,408.9 L1138.4,417.0 L1130.9,423.4 L1123.4,429.9 L1115.9,436.2 L1108.4,442.8 L1100.8,449.9 L1093.2,456.9 L1085.6,463.7 L1077.9,470.4 L1070.2,476.7 L1062.5,483.1 L1054.9,489.4 L1047.2,495.2 L1039.4,500.1 L1031.7,505.1 L1024.0,510.1 L1016.3,516.0 L1008.5,522.9 L1000.7,529.8 L992.9,536.7 L985.1,543.5 L977.2,550.3 L969.2,556.9 L961.2,563.1 L953.2,569.2 L945.0,575.2 L936.8,581.2 L928.5,586.9 L920.2,592.5 L911.7,598.0 L903.2,603.3 L894.5,608.4 L885.7,613.2 L876.9,617.8 L867.9,622.2 L858.8,626.4 L849.6,630.3 L840.4,633.9 L831.1,637.3 L821.7,640.1 L812.2,642.1 L802.7,643.8 L793.1,645.2 L783.6,646.3 L773.9,647.0 L764.3,647.5 L754.6,647.7 L744.9,647.5 L735.3,647.1 L725.6,646.2 L716.0,645.1 L706.3,643.6 L696.8,641.7 L687.2,639.5 L677.7,637.0 L668.3,634.0 L659.0,630.7 L649.9,627.0 L640.9,623.0 L632.2,618.5 L623.7,613.7 L615.4,608.4 L607.4,602.8 L599.7,596.7 L592.4,590.3 L585.4,583.4 L578.8,576.1 L572.6,568.3 L566.9,560.1 L561.6,551.5 L556.9,542.5 L552.7,533.0 L549.0,523.0Z" fill="#007f2a" fill-opacity="0.47"/>
<path d="M549.0,473.0 L552.7,482.9 L556.9,492.3 L561.6,501.3 L566.9,509.8 L572.6,517.8 L578.8,525.4 L585.4,532.6 L592.4,539.3 L599.7,545.6 L607.4,551.5 L615.4,557.0 L623.7,562.0 L632.2,566.7 L640.9,571.0 L649.9,574.8 L659.0,578.3 L668.3,581.4 L677.7,584.2 L687.2,586.5 L696.8,588.5 L706.3,590.2 L716.0,591.5 L725.6,592.4 L735.3,593.0 L744.9,593.3 L754.6,593.2 L764.3,592.8 L773.9,592.2 L783.6,591.2 L793.1,589.8 L802.7,588.2 L812.2,586.3 L821.7,584.2 L831.1,581.7 L840.4,578.9 L849.6,575.9 L858.8,572.7 L867.9,569.1 L876.9,565.3 L885.7,561.3 L894.5,557.0 L903.2,552.6 L911.7,547.9 L920.2,543.0 L928.5,537.9 L936.8,532.7 L945.0,527.4 L953.2,521.9 L961.2,516.3 L969.2,510.6 L977.2,504.9 L985.1,499.0 L992.9,493.2 L1000.7,487.3 L1008.5,481.4 L1016.3,475.6 L1024.0,469.7 L1031.7,463.9 L1039.4,458.1 L1047.2,452.5 L1054.9,446.9 L1062.5,441.3 L1070.2,435.7 L1077.9,430.1 L1085.6,424.3 L1093.2,418.5 L1100.8,412.5 L1108.4,406.4 L1115.9,400.2 L1123.4,393.9 L1130.9,387.4 L1138.4,381.0 L1145.9,374.5 L1153.5,368.2 L1161.2,361.9 L1169.1,355.9 L1177.1,350.2 L1185.4,344.8 L1193.9,339.8 L1202.6,335.2 L1211.7,331.1 L1221.0,327.6 L1230.5,324.7 L1240.1,322.4 L1249.7,320.8 L1259.3,319.9 L1268.8,319.7 L1278.2,320.3 L1287.3,321.8 L1296.2,324.1 L1304.8,327.3 L1313.1,331.3 L1321.1,336.0 L1328.8,341.3 L1336.2,347.3 L1343.3,353.8 L1350.1,360.6 L1356.6,367.9 L1362.9,375.4 L1368.9,383.2 L1374.6,391.1 L1380.1,399.2 L1385.4,407.4 L1390.4,415.8 L1395.2,424.3 L1399.9,432.8 L1404.4,441.5 L1408.7,450.3 L1412.9,459.2 L1417.0,468.1 L1421.0,477.1 L1424.9,486.1 L1428.8,495.2 L1432.6,504.3 L1436.4,513.4 L1440.2,522.5 L1443.9,531.6 L1447.7,540.7 L1451.5,549.7 L1455.4,558.8 L1459.4,567.7 L1463.4,576.7 L1467.4,585.6 L1471.5,594.4 L1475.7,603.3 L1479.8,612.1 L1484.1,620.9 L1488.3,629.6 L1492.6,638.3 L1496.9,647.1 L1501.2,655.8 L1505.5,664.4 L1509.8,673.1 L1514.1,681.8 L1518.5,690.5 L1522.8,699.1 L1527.1,707.8 L1531.4,716.5 L1535.7,725.2 L1539.9,733.9 L1544.1,742.6 L1548.3,751.3 L1552.5,760.1 L1556.6,768.8 L1560.6,777.6 L1564.6,786.4 L1568.6,795.3 L1572.5,804.2 L1576.3,813.1 L1580.0,822.1 L1583.7,831.1 L1587.3,840.1 L1590.9,849.2 L1594.3,858.4 L1597.6,867.6 L1600.9,876.8 L1604.0,886.2 L1607.1,895.6 L1610.0,905.0" fill="none" stroke="#006400" stroke-width="22.5" stroke-linejoin="round"/>
<path d="M549.0,1215.0 L555.3,1220.7 L561.6,1226.5 L567.8,1232.5 L574.1,1238.5 L580.3,1244.5 L586.6,1250.6 L592.8,1256.8 L599.1,1263.6 L605.4,1270.5 L611.7,1277.3 L618.0,1284.2 L624.4,1291.0 L630.9,1297.8 L637.3,1304.5 L643.9,1311.2 L650.5,1318.3 L657.2,1326.1 L663.9,1333.9 L670.7,1341.5 L677.7,1349.1 L684.7,1356.5 L691.8,1363.4 L699.0,1369.3 L706.2,1375.0 L713.6,1380.6 L721.1,1385.9 L728.6,1391.1 L736.2,1396.1 L744.0,1400.9 L751.8,1405.4 L759.6,1409.3 L767.6,1412.9 L775.7,1416.4 L783.8,1419.5 L792.0,1422.5 L800.3,1425.2 L808.7,1427.6 L817.1,1429.8 L825.7,1431.7 L834.3,1433.2 L843.0,1434.5 L851.7,1435.5 L860.5,1436.3 L869.3,1436.8 L878.2,1437.1 L887.1,1437.2 L896.0,1437.1 L904.9,1436.8 L913.8,1436.3 L922.6,1435.6 L931.5,1434.8 L940.2,1433.9 L948.9,1432.7 L957.6,1431.3 L966.2,1429.6 L974.6,1427.6 L983.0,1425.4 L991.3,1423.0 L999.4,1420.3 L1007.4,1417.4 L1015.3,1414.2 L1023.0,1410.7 L1030.6,1407.0 L1038.1,1403.1 L1045.5,1399.0 L1052.8,1394.6 L1059.9,1390.1 L1067.0,1385.4 L1074.0,1380.5 L1080.9,1375.6 L1087.8,1370.4 L1094.6,1365.3 L1101.3,1360.1 L1108.0,1354.8 L1114.7,1349.4 L1121.3,1344.1 L1127.9,1338.6 L1134.5,1333.2 L1141.1,1327.7 L1147.7,1322.2 L1154.3,1316.8 L1160.9,1311.4 L1167.5,1306.1 L1174.3,1300.8 L1181.1,1295.7 L1188.0,1290.8 L1195.1,1286.0 L1202.3,1281.4 L1209.7,1276.8 L1217.2,1272.5 L1225.0,1268.4 L1233.0,1264.7 L1241.1,1261.3 L1249.3,1258.2 L1257.6,1255.5 L1266.1,1253.2 L1274.7,1251.4 L1283.3,1250.0 L1291.9,1249.0 L1300.6,1248.7 L1309.3,1248.9 L1317.9,1249.6 L1326.5,1250.9 L1335.0,1252.6 L1343.4,1254.8 L1351.6,1257.4 L1359.7,1260.6 L1367.5,1264.2 L1375.2,1268.2 L1382.5,1272.7 L1389.6,1277.6 L1396.4,1282.9 L1402.9,1288.6 L1409.3,1294.8 L1415.4,1301.2 L1421.4,1307.9 L1427.2,1314.8 L1432.8,1321.8 L1438.3,1329.1 L1443.7,1336.4 L1449.0,1343.8 L1454.2,1351.3 L1459.4,1358.9 L1464.4,1366.6 L1469.3,1374.3 L1474.2,1382.1 L1479.0,1390.0 L1483.7,1397.9 L1488.4,1405.8 L1493.0,1413.7 L1497.5,1421.6 L1501.9,1429.5 L1506.3,1437.4 L1510.7,1445.3 L1515.0,1453.3 L1519.2,1461.2 L1523.4,1469.0 L1527.6,1476.9 L1531.7,1484.7 L1535.8,1492.5 L1539.9,1500.3 L1543.9,1508.0 L1548.0,1515.6 L1552.0,1523.3 L1555.9,1531.0 L1559.9,1538.6 L1563.9,1546.3 L1567.8,1554.0 L1571.8,1561.7 L1575.8,1569.5 L1579.7,1577.2 L1583.7,1585.1 L1587.7,1593.0 L1591.7,1600.9 L1595.7,1609.0 L1599.7,1617.1 L1603.8,1625.3 L1607.9,1633.6 L1612.0,1642.0 L1612.0,1658.0 L1607.9,1650.0 L1603.8,1642.1 L1599.7,1634.3 L1595.7,1626.6 L1591.7,1618.9 L1587.7,1611.4 L1583.7,1603.9 L1579.7,1596.4 L1575.8,1589.1 L1571.8,1581.7 L1567.8,1574.4 L1563.9,1567.1 L1559.9,1559.8 L1555.9,1552.5 L1552.0,1545.3 L1548.0,1538.0 L1543.9,1530.7 L1539.9,1523.4 L1535.8,1516.1 L1531.7,1508.7 L1527.6,1501.3 L1523.4,1493.8 L1519.2,1486.4 L1515.0,1478.9 L1510.7,1471.4 L1506.3,1463.9 L1501.9,1456.4 L1497.5,1448.9 L1493.0,1441.5 L1488.4,1434.1 L1483.7,1426.8 L1479.0,1419.5 L1474.2,1412.3 L1469.3,1405.2 L1464.4,1398.1 L1459.4,1391.1 L1454.2,1384.2 L1449.0,1377.4 L1443.7,1370.6 L1438.3,1364.0 L1432.8,1357.5 L1427.2,1351.2 L1421.4,1345.0 L1415.4,1339.2 L1409.3,1333.5 L1402.9,1328.2 L1396.4,1323.1 L1389.6,1318.4 L1382.5,1314.0 L1375.2,1310.1 L1367.5,1306.6 L1359.7,1303.6 L1351.6,1301.1 L1343.4,1299.0 L1335.0,1297.5 L1326.5,1296.4 L1317.9,1295.8 L1309.3,1295.8 L1300.6,1296.2 L1291.9,1297.1 L1283.3,1298.4 L1274.7,1300.2 L1266.1,1302.4 L1257.6,1305.1 L1249.3,1308.1 L1241.1,1311.5 L1233.0,1315.3 L1225.0,1319.4 L1217.2,1323.8 L1209.7,1328.4 L1202.3,1333.3 L1195.1,1338.6 L1188.0,1344.1 L1181.1,1349.9 L1174.3,1355.7 L1167.5,1361.7 L1160.9,1367.8 L1154.3,1373.9 L1147.7,1380.1 L1141.1,1386.3 L1134.5,1392.5 L1127.9,1398.7 L1121.3,1404.9 L1114.7,1411.0 L1108.0,1417.1 L1101.3,1423.1 L1094.6,1429.1 L1087.8,1434.8 L1080.9,1440.4 L1074.0,1445.9 L1067.0,1451.3 L1059.9,1456.5 L1052.8,1461.6 L1045.5,1466.4 L1038.1,1471.1 L1030.6,1475.6 L1023.0,1479.8 L1015.3,1483.9 L1007.4,1487.6 L999.4,1491.2 L991.3,1494.4 L983.0,1497.5 L974.6,1500.3 L966.2,1502.8 L957.6,1505.2 L948.9,1507.6 L940.2,1509.8 L931.5,1511.8 L922.6,1513.7 L913.8,1515.4 L904.9,1516.9 L896.0,1518.3 L887.1,1519.5 L878.2,1520.5 L869.3,1521.3 L860.5,1521.9 L851.7,1522.2 L843.0,1522.2 L834.3,1522.0 L825.7,1521.5 L817.1,1520.7 L808.7,1519.7 L800.3,1518.4 L792.0,1516.8 L783.8,1515.0 L775.7,1512.9 L767.6,1510.6 L759.6,1508.0 L751.8,1505.2 L744.0,1502.5 L736.2,1499.8 L728.6,1496.8 L721.1,1493.7 L713.6,1490.3 L706.2,1486.7 L699.0,1482.9 L691.8,1479.0 L684.7,1475.8 L677.7,1472.7 L670.7,1469.5 L663.9,1466.0 L657.2,1462.5 L650.5,1458.8 L643.9,1454.1 L637.3,1448.9 L630.9,1443.5 L624.4,1438.2 L618.0,1432.7 L611.7,1427.3 L605.4,1421.8 L599.1,1416.3 L592.8,1410.8 L586.6,1404.6 L580.3,1398.5 L574.1,1392.5 L567.8,1386.5 L561.6,1380.5 L555.3,1374.7 L549.0,1369.0Z" fill="#8b8b83" fill-opacity="0.4"/>
<path d="M549.0,1292.0 L555.3,1297.7 L561.6,1303.5 L567.8,1309.5 L574.1,1315.5 L580.3,1321.5 L586.6,1327.6 L592.8,1333.8 L599.1,1339.9 L605.4,1346.1 L611.7,1352.3 L618.0,1358.5 L624.4,1364.6 L630.9,1370.7 L637.3,1376.7 L643.9,1382.7 L650.5,1388.5 L657.2,1394.3 L663.9,1400.0 L670.7,1405.5 L677.7,1410.9 L684.7,1416.1 L691.8,1421.2 L699.0,1426.1 L706.2,1430.9 L713.6,1435.4 L721.1,1439.8 L728.6,1444.0 L736.2,1448.0 L744.0,1451.7 L751.8,1455.3 L759.6,1458.6 L767.6,1461.7 L775.7,1464.6 L783.8,1467.3 L792.0,1469.6 L800.3,1471.8 L808.7,1473.6 L817.1,1475.2 L825.7,1476.6 L834.3,1477.6 L843.0,1478.4 L851.7,1478.9 L860.5,1479.1 L869.3,1479.1 L878.2,1478.8 L887.1,1478.4 L896.0,1477.7 L904.9,1476.8 L913.8,1475.8 L922.6,1474.6 L931.5,1473.3 L940.2,1471.8 L948.9,1470.1 L957.6,1468.3 L966.2,1466.2 L974.6,1463.9 L983.0,1461.5 L991.3,1458.7 L999.4,1455.8 L1007.4,1452.5 L1015.3,1449.0 L1023.0,1445.3 L1030.6,1441.3 L1038.1,1437.1 L1045.5,1432.7 L1052.8,1428.1 L1059.9,1423.3 L1067.0,1418.3 L1074.0,1413.2 L1080.9,1408.0 L1087.8,1402.6 L1094.6,1397.2 L1101.3,1391.6 L1108.0,1385.9 L1114.7,1380.2 L1121.3,1374.5 L1127.9,1368.7 L1134.5,1362.8 L1141.1,1357.0 L1147.7,1351.1 L1154.3,1345.3 L1160.9,1339.6 L1167.5,1333.9 L1174.3,1328.3 L1181.1,1322.8 L1188.0,1317.5 L1195.1,1312.3 L1202.3,1307.4 L1209.7,1302.6 L1217.2,1298.1 L1225.0,1293.9 L1233.0,1290.0 L1241.1,1286.4 L1249.3,1283.2 L1257.6,1280.3 L1266.1,1277.8 L1274.7,1275.8 L1283.3,1274.2 L1291.9,1273.1 L1300.6,1272.4 L1309.3,1272.3 L1317.9,1272.7 L1326.5,1273.6 L1335.0,1275.0 L1343.4,1276.9 L1351.6,1279.3 L1359.7,1282.1 L1367.5,1285.4 L1375.2,1289.1 L1382.5,1293.3 L1389.6,1298.0 L1396.4,1303.0 L1402.9,1308.4 L1409.3,1314.1 L1415.4,1320.2 L1421.4,1326.5 L1427.2,1333.0 L1432.8,1339.7 L1438.3,1346.5 L1443.7,1353.5 L1449.0,1360.6 L1454.2,1367.8 L1459.4,1375.0 L1464.4,1382.4 L1469.3,1389.8 L1474.2,1397.2 L1479.0,1404.8 L1483.7,1412.3 L1488.4,1419.9 L1493.0,1427.6 L1497.5,1435.3 L1501.9,1443.0 L1506.3,1450.7 L1510.7,1458.4 L1515.0,1466.1 L1519.2,1473.8 L1523.4,1481.4 L1527.6,1489.1 L1531.7,1496.7 L1535.8,1504.3 L1539.9,1511.8 L1543.9,1519.3 L1548.0,1526.8 L1552.0,1534.3 L1555.9,1541.8 L1559.9,1549.2 L1563.9,1556.7 L1567.8,1564.2 L1571.8,1571.7 L1575.8,1579.3 L1579.7,1586.8 L1583.7,1594.5 L1587.7,1602.2 L1591.7,1609.9 L1595.7,1617.8 L1599.7,1625.7 L1603.8,1633.7 L1607.9,1641.8 L1612.0,1650.0" fill="none" stroke="#8b8b83" stroke-width="22.5" stroke-linejoin="round"/>
<path d="M549.0,396.0 L552.2,404.0 L556.0,411.1 L560.3,417.6 L565.1,423.2 L570.5,428.2 L576.3,432.8 L582.5,438.2 L589.1,443.1 L596.2,447.5 L603.5,452.6 L611.2,458.8 L619.2,464.7 L627.4,470.2 L635.9,475.3 L644.6,480.0 L653.4,485.2 L662.3,490.0 L671.4,494.5 L680.6,498.7 L689.8,502.6 L699.0,506.1 L708.3,508.8 L717.6,509.8 L726.8,510.5 L736.1,510.8 L745.4,510.9 L754.7,510.6 L764.0,510.1 L773.3,509.2 L782.5,508.0 L791.8,506.6 L801.0,504.9 L810.2,502.9 L819.4,500.7 L828.5,498.5 L837.7,496.5 L846.7,494.3 L855.8,491.9 L864.7,489.2 L873.7,486.3 L882.6,483.2 L891.4,480.2 L900.2,477.0 L908.9,473.7 L917.5,470.3 L926.1,466.8 L934.7,463.3 L943.2,459.9 L951.7,456.5 L960.1,453.2 L968.4,450.0 L976.7,446.0 L985.0,441.1 L993.2,436.2 L1001.3,431.3 L1009.4,426.2 L1017.4,421.0 L1025.4,417.1 L1033.3,413.7 L1041.2,410.0 L1049.1,405.9 L1056.9,401.1 L1064.6,396.1 L1072.3,390.8 L1079.9,385.4 L1087.5,380.0 L1095.1,374.5 L1102.7,368.9 L1110.2,363.4 L1117.6,358.3 L1125.1,353.3 L1132.5,348.4 L1140.0,343.8 L1147.6,339.3 L1155.2,335.2 L1163.0,331.5 L1171.0,328.0 L1179.2,324.3 L1187.6,321.2 L1196.3,318.5 L1205.3,316.3 L1214.5,314.7 L1223.8,313.7 L1233.3,313.1 L1242.8,313.1 L1252.4,313.5 L1261.9,314.5 L1271.4,314.4 L1280.7,314.8 L1289.8,315.7 L1298.7,318.6 L1307.3,322.4 L1315.7,326.7 L1323.7,330.4 L1331.4,334.3 L1338.7,338.7 L1345.7,343.7 L1352.2,349.2 L1358.2,355.3 L1363.8,361.9 L1369.0,368.9 L1373.7,376.5 L1378.0,384.4 L1382.1,392.5 L1385.9,400.7 L1389.6,409.1 L1393.2,417.6 L1396.7,426.2 L1400.2,434.8 L1403.8,443.2 L1407.5,451.6 L1411.4,459.8 L1415.3,467.9 L1419.3,475.9 L1423.3,483.8 L1427.5,491.7 L1431.7,499.8 L1436.0,508.2 L1440.3,516.6 L1444.7,524.9 L1449.1,533.3 L1453.5,541.6 L1458.0,549.9 L1462.5,558.2 L1467.0,566.5 L1471.6,574.7 L1476.2,583.0 L1480.7,591.2 L1485.3,599.5 L1489.9,607.7 L1494.5,616.0 L1499.1,624.2 L1503.7,632.5 L1508.3,640.8 L1512.9,649.0 L1517.4,657.3 L1521.9,665.6 L1526.4,673.9 L1530.9,682.2 L1535.3,690.6 L1539.7,698.9 L1544.1,707.3 L1548.4,715.7 L1552.7,724.1 L1556.9,732.6 L1561.0,741.8 L1565.1,753.4 L1569.1,765.0 L1573.1,776.5 L1577.0,788.1 L1580.8,799.6 L1584.5,811.1 L1588.1,822.6 L1591.7,834.0 L1595.2,845.5 L1598.5,856.9 L1601.8,868.3 L1604.9,879.7 L1608.0,891.0 L1608.0,919.0 L1604.9,912.2 L1601.8,905.6 L1598.5,899.1 L1595.2,892.8 L1591.7,886.5 L1588.1,880.4 L1584.5,874.4 L1580.8,868.4 L1577.0,862.6 L1573.1,856.9 L1569.1,851.3 L1565.1,845.8 L1561.0,840.3 L1556.9,832.6 L1552.7,824.1 L1548.4,815.7 L1544.1,807.3 L1539.7,798.9 L1535.3,790.6 L1530.9,782.2 L1526.4,773.9 L1521.9,765.6 L1517.4,757.3 L1512.9,749.0 L1508.3,740.8 L1503.7,732.5 L1499.1,724.2 L1494.5,716.0 L1489.9,707.7 L1485.3,699.5 L1480.7,691.2 L1476.2,683.0 L1471.6,674.7 L1467.0,666.5 L1462.5,658.2 L1458.0,649.9 L1453.5,641.6 L1449.1,633.3 L1444.7,624.9 L1440.3,616.6 L1436.0,608.2 L1431.7,599.8 L1427.5,590.9 L1423.3,581.7 L1419.3,572.5 L1415.3,563.2 L1411.4,553.8 L1407.5,544.4 L1403.8,534.8 L1400.2,525.2 L1396.7,515.5 L1393.2,505.8 L1389.6,496.2 L1385.9,486.6 L1382.1,477.1 L1378.0,468.0 L1373.7,459.3 L1369.0,450.8 L1363.8,442.8 L1358.2,435.1 L1352.2,427.9 L1345.7,421.2 L1338.7,414.9 L1331.4,409.0 L1323.7,403.6 L1315.7,399.0 L1307.3,396.0 L1298.7,393.5 L1289.8,391.1 L1280.7,387.8 L1271.4,384.9 L1261.9,382.6 L1252.4,382.4 L1242.8,382.7 L1233.3,383.5 L1223.8,384.9 L1214.5,386.8 L1205.3,389.2 L1196.3,392.1 L1187.6,395.6 L1179.2,399.5 L1171.0,403.9 L1163.0,409.3 L1155.2,415.2 L1147.6,421.3 L1140.0,427.8 L1132.5,434.5 L1125.1,441.4 L1117.6,448.5 L1110.2,455.6 L1102.7,462.6 L1095.1,469.6 L1087.5,476.7 L1079.9,483.6 L1072.3,490.5 L1064.6,497.2 L1056.9,503.8 L1049.1,510.2 L1041.2,516.9 L1033.3,523.2 L1025.4,529.3 L1017.4,534.5 L1009.4,538.0 L1001.3,541.3 L993.2,544.5 L985.0,547.7 L976.7,550.8 L968.4,555.0 L960.1,560.0 L951.7,565.1 L943.2,570.3 L934.7,575.6 L926.1,580.9 L917.5,586.2 L908.9,591.5 L900.2,596.6 L891.4,601.7 L882.6,606.7 L873.7,611.2 L864.7,615.4 L855.8,619.4 L846.7,623.2 L837.7,626.7 L828.5,630.0 L819.4,632.5 L810.2,634.4 L801.0,636.1 L791.8,637.5 L782.5,638.6 L773.3,639.5 L764.0,640.0 L754.7,640.3 L745.4,640.2 L736.1,639.8 L726.8,639.2 L717.6,638.2 L708.3,636.8 L699.0,636.6 L689.8,636.4 L680.6,635.9 L671.4,635.0 L662.3,633.8 L653.4,632.1 L644.6,630.1 L635.9,626.9 L627.4,623.3 L619.2,619.3 L611.2,614.8 L603.5,610.0 L596.2,603.3 L589.1,595.0 L582.5,586.4 L576.3,577.5 L570.5,566.9 L565.1,555.8 L560.3,544.6 L556.0,533.2 L552.2,521.6 L549.0,510.0Z" fill="#0000ff" fill-opacity="0.4"/>
<path d="M549.0,453.0 L552.2,462.8 L556.0,472.2 L560.3,481.1 L565.1,489.5 L570.5,497.5 L576.3,505.1 L582.5,512.3 L589.1,519.1 L596.2,525.4 L603.5,531.3 L611.2,536.8 L619.2,542.0 L627.4,546.7 L635.9,551.1 L644.6,555.1 L653.4,558.7 L662.3,561.9 L671.4,564.8 L680.6,567.3 L689.8,569.5 L699.0,571.3 L708.3,572.8 L717.6,574.0 L726.8,574.8 L736.1,575.3 L745.4,575.5 L754.7,575.4 L764.0,575.0 L773.3,574.3 L782.5,573.3 L791.8,572.1 L801.0,570.5 L810.2,568.7 L819.4,566.6 L828.5,564.2 L837.7,561.6 L846.7,558.7 L855.8,555.6 L864.7,552.3 L873.7,548.7 L882.6,544.9 L891.4,540.9 L900.2,536.8 L908.9,532.6 L917.5,528.2 L926.1,523.8 L934.7,519.5 L943.2,515.1 L951.7,510.8 L960.1,506.6 L968.4,502.5 L976.7,498.4 L985.0,494.4 L993.2,490.4 L1001.3,486.3 L1009.4,482.1 L1017.4,477.8 L1025.4,473.2 L1033.3,468.5 L1041.2,463.4 L1049.1,458.1 L1056.9,452.5 L1064.6,446.7 L1072.3,440.7 L1079.9,434.5 L1087.5,428.3 L1095.1,422.0 L1102.7,415.8 L1110.2,409.5 L1117.6,403.4 L1125.1,397.3 L1132.5,391.4 L1140.0,385.8 L1147.6,380.3 L1155.2,375.2 L1163.0,370.4 L1171.0,365.9 L1179.2,361.9 L1187.6,358.4 L1196.3,355.3 L1205.3,352.8 L1214.5,350.8 L1223.8,349.3 L1233.3,348.3 L1242.8,347.9 L1252.4,348.0 L1261.9,348.6 L1271.4,349.7 L1280.7,351.3 L1289.8,353.4 L1298.7,356.1 L1307.3,359.2 L1315.7,362.8 L1323.7,367.0 L1331.4,371.6 L1338.7,376.8 L1345.7,382.4 L1352.2,388.6 L1358.2,395.2 L1363.8,402.3 L1369.0,409.9 L1373.7,417.9 L1378.0,426.2 L1382.1,434.8 L1385.9,443.6 L1389.6,452.6 L1393.2,461.7 L1396.7,470.9 L1400.2,480.0 L1403.8,489.0 L1407.5,498.0 L1411.4,506.8 L1415.3,515.5 L1419.3,524.2 L1423.3,532.8 L1427.5,541.3 L1431.7,549.8 L1436.0,558.2 L1440.3,566.6 L1444.7,574.9 L1449.1,583.3 L1453.5,591.6 L1458.0,599.9 L1462.5,608.2 L1467.0,616.5 L1471.6,624.7 L1476.2,633.0 L1480.7,641.2 L1485.3,649.5 L1489.9,657.7 L1494.5,666.0 L1499.1,674.2 L1503.7,682.5 L1508.3,690.8 L1512.9,699.0 L1517.4,707.3 L1521.9,715.6 L1526.4,723.9 L1530.9,732.2 L1535.3,740.6 L1539.7,748.9 L1544.1,757.3 L1548.4,765.7 L1552.7,774.1 L1556.9,782.6 L1561.0,791.1 L1565.1,799.6 L1569.1,808.1 L1573.1,816.7 L1577.0,825.4 L1580.8,834.0 L1584.5,842.7 L1588.1,851.5 L1591.7,860.3 L1595.2,869.1 L1598.5,878.0 L1601.8,887.0 L1604.9,895.9 L1608.0,905.0" fill="none" stroke="#0000ff" stroke-width="22.5" stroke-linejoin="round"/>
<path d="M549.0,496.0 L554.7,504.4 L560.3,512.6 L566.0,520.7 L571.6,528.6 L577.1,536.3 L582.7,544.0 L588.4,551.4 L594.0,558.8 L599.7,566.0 L605.4,573.2 L611.2,580.2 L617.1,587.1 L623.1,594.1 L629.2,601.1 L635.3,608.0 L641.7,614.9 L648.1,621.7 L654.7,628.5 L661.5,635.3 L668.5,642.0 L675.6,648.8 L682.9,655.3 L690.4,660.6 L698.1,665.8 L705.9,670.9 L713.8,675.8 L721.8,680.5 L730.0,685.0 L738.3,689.3 L746.6,694.0 L755.1,699.2 L763.6,704.2 L772.2,708.9 L780.8,713.2 L789.5,717.2 L798.2,720.8 L806.9,724.0 L815.7,726.7 L824.4,729.0 L833.2,730.1 L841.9,730.6 L850.6,730.6 L859.2,730.1 L867.9,729.3 L876.5,728.0 L885.1,726.4 L893.6,724.3 L902.1,722.0 L910.6,719.3 L919.1,716.3 L927.5,713.0 L935.8,709.4 L944.1,705.6 L952.3,701.6 L960.5,697.5 L968.7,693.1 L976.8,688.9 L984.8,685.0 L992.7,681.0 L1000.6,676.9 L1008.4,672.7 L1016.2,668.5 L1023.9,664.1 L1031.5,659.7 L1039.0,655.1 L1046.5,650.5 L1053.8,644.8 L1061.1,639.0 L1068.3,633.1 L1075.4,627.1 L1082.4,621.0 L1089.4,614.8 L1096.2,608.5 L1102.9,602.1 L1109.5,595.6 L1116.0,588.9 L1122.4,582.2 L1128.8,576.2 L1134.9,570.1 L1141.0,563.8 L1147.0,557.3 L1152.9,550.8 L1158.8,544.3 L1164.7,537.8 L1170.7,531.3 L1176.7,525.0 L1182.9,518.8 L1189.3,512.9 L1195.9,507.2 L1202.7,501.8 L1209.8,496.8 L1217.2,491.8 L1224.8,486.5 L1232.5,481.6 L1240.4,477.2 L1248.4,473.3 L1256.5,470.0 L1264.7,467.4 L1272.9,465.4 L1281.0,464.2 L1289.2,463.8 L1297.3,464.4 L1305.4,466.5 L1313.5,470.2 L1321.6,475.4 L1329.7,482.0 L1337.8,489.2 L1345.9,496.3 L1354.0,502.6 L1362.2,507.7 L1370.3,511.5 L1378.5,514.4 L1386.6,517.0 L1394.6,519.6 L1402.7,522.4 L1410.6,525.5 L1418.4,529.3 L1426.1,533.6 L1433.7,538.3 L1441.1,543.3 L1448.3,548.5 L1455.3,553.8 L1462.2,559.4 L1469.0,565.1 L1475.5,570.9 L1481.9,576.9 L1488.1,583.1 L1494.2,589.4 L1500.1,595.8 L1505.9,602.6 L1511.5,609.5 L1517.0,616.5 L1522.3,623.6 L1527.5,630.9 L1532.5,638.2 L1537.4,645.7 L1542.2,653.2 L1546.8,660.9 L1551.3,668.7 L1555.7,676.5 L1559.9,684.4 L1564.0,692.4 L1567.9,700.5 L1571.8,708.7 L1575.5,716.9 L1579.1,725.1 L1582.6,735.6 L1586.0,746.8 L1589.2,757.9 L1592.4,769.0 L1595.4,780.0 L1598.3,791.0 L1601.2,801.9 L1603.9,812.8 L1606.5,823.5 L1609.0,834.3 L1611.4,844.9 L1613.8,855.5 L1616.0,866.0 L1616.0,894.0 L1613.8,887.0 L1611.4,880.0 L1609.0,873.1 L1606.5,866.3 L1603.9,859.6 L1601.2,853.0 L1598.3,846.5 L1595.4,840.1 L1592.4,833.8 L1589.2,827.6 L1586.0,821.5 L1582.6,815.6 L1579.1,809.1 L1575.5,800.4 L1571.8,791.8 L1567.9,783.3 L1564.0,774.8 L1559.9,766.4 L1555.7,758.1 L1551.3,749.8 L1546.8,741.6 L1542.2,733.5 L1537.4,725.4 L1532.5,717.5 L1527.5,709.6 L1522.3,701.8 L1517.0,694.2 L1511.5,686.6 L1505.9,679.2 L1500.1,671.8 L1494.2,664.5 L1488.1,657.2 L1481.9,650.0 L1475.5,643.0 L1469.0,636.1 L1462.2,629.3 L1455.3,622.7 L1448.3,616.2 L1441.1,609.9 L1433.7,603.7 L1426.1,597.8 L1418.4,592.2 L1410.6,587.2 L1402.7,582.8 L1394.6,579.8 L1386.6,577.5 L1378.5,575.3 L1370.3,572.7 L1362.2,569.2 L1354.0,564.4 L1345.9,558.5 L1337.8,551.7 L1329.7,544.8 L1321.6,538.5 L1313.5,533.6 L1305.4,530.3 L1297.3,528.1 L1289.2,526.8 L1281.0,526.4 L1272.9,526.9 L1264.7,528.1 L1256.5,529.9 L1248.4,532.4 L1240.4,535.5 L1232.5,539.2 L1224.8,543.4 L1217.2,548.0 L1209.8,553.9 L1202.7,560.5 L1195.9,567.3 L1189.3,574.4 L1182.9,581.7 L1176.7,589.2 L1170.7,596.9 L1164.7,604.6 L1158.8,612.4 L1152.9,620.2 L1147.0,628.0 L1141.0,635.7 L1134.9,643.3 L1128.8,650.8 L1122.4,658.1 L1116.0,664.6 L1109.5,670.9 L1102.9,677.1 L1096.2,683.1 L1089.4,689.1 L1082.4,694.9 L1075.4,700.6 L1068.3,706.3 L1061.1,711.8 L1053.8,717.2 L1046.5,722.6 L1039.0,728.8 L1031.5,735.0 L1023.9,741.1 L1016.2,747.1 L1008.4,753.1 L1000.6,758.9 L992.7,764.7 L984.8,770.5 L976.8,776.1 L968.7,781.2 L960.5,785.8 L952.3,790.2 L944.1,794.4 L935.8,798.4 L927.5,802.2 L919.1,805.7 L910.6,808.9 L902.1,811.9 L893.6,814.5 L885.1,816.7 L876.5,818.6 L867.9,820.1 L859.2,821.2 L850.6,821.9 L841.9,822.1 L833.2,821.8 L824.4,821.1 L815.7,820.8 L806.9,819.9 L798.2,818.6 L789.5,817.0 L780.8,814.9 L772.2,812.5 L763.6,809.7 L755.1,806.6 L746.6,803.2 L738.3,798.7 L730.0,793.3 L721.8,787.7 L713.8,781.9 L705.9,776.0 L698.1,769.9 L690.4,763.7 L682.9,757.4 L675.6,752.2 L668.5,747.1 L661.5,742.0 L654.7,736.8 L648.1,731.5 L641.7,726.1 L635.3,720.7 L629.2,715.2 L623.1,709.6 L617.1,703.8 L611.2,697.8 L605.4,691.8 L599.7,685.6 L594.0,679.3 L588.4,672.9 L582.7,666.3 L577.1,659.6 L571.6,652.8 L566.0,645.9 L560.3,638.7 L554.7,631.4 L549.0,624.0Z" fill="#ff9d00" fill-opacity="0.4"/>
<path d="M549.0,560.0 L554.7,567.9 L560.3,575.7 L566.0,583.3 L571.6,590.7 L577.1,598.0 L582.7,605.1 L588.4,612.2 L594.0,619.0 L599.7,625.8 L605.4,632.5 L611.2,639.0 L617.1,645.5 L623.1,651.8 L629.2,658.1 L635.3,664.3 L641.7,670.5 L648.1,676.6 L654.7,682.6 L661.5,688.6 L668.5,694.6 L675.6,700.5 L682.9,706.4 L690.4,712.2 L698.1,717.9 L705.9,723.4 L713.8,728.9 L721.8,734.1 L730.0,739.2 L738.3,744.0 L746.6,748.6 L755.1,752.9 L763.6,756.9 L772.2,760.7 L780.8,764.0 L789.5,767.1 L798.2,769.7 L806.9,771.9 L815.7,773.7 L824.4,775.1 L833.2,776.0 L841.9,776.3 L850.6,776.2 L859.2,775.7 L867.9,774.7 L876.5,773.3 L885.1,771.5 L893.6,769.4 L902.1,766.9 L910.6,764.1 L919.1,761.0 L927.5,757.6 L935.8,753.9 L944.1,750.0 L952.3,745.9 L960.5,741.6 L968.7,737.1 L976.8,732.5 L984.8,727.8 L992.7,722.9 L1000.6,717.9 L1008.4,712.9 L1016.2,707.8 L1023.9,702.6 L1031.5,697.3 L1039.0,692.0 L1046.5,686.5 L1053.8,681.0 L1061.1,675.4 L1068.3,669.7 L1075.4,663.9 L1082.4,658.0 L1089.4,651.9 L1096.2,645.8 L1102.9,639.6 L1109.5,633.2 L1116.0,626.8 L1122.4,620.2 L1128.8,613.5 L1134.9,606.7 L1141.0,599.7 L1147.0,592.6 L1152.9,585.5 L1158.8,578.3 L1164.7,571.2 L1170.7,564.1 L1176.7,557.1 L1182.9,550.3 L1189.3,543.6 L1195.9,537.2 L1202.7,531.1 L1209.8,525.3 L1217.2,519.9 L1224.8,514.9 L1232.5,510.4 L1240.4,506.4 L1248.4,502.9 L1256.5,500.0 L1264.7,497.7 L1272.9,496.1 L1281.0,495.3 L1289.2,495.3 L1297.3,496.2 L1305.4,498.4 L1313.5,501.9 L1321.6,506.9 L1329.7,513.4 L1337.8,520.5 L1345.9,527.4 L1354.0,533.5 L1362.2,538.5 L1370.3,542.1 L1378.5,544.9 L1386.6,547.2 L1394.6,549.7 L1402.7,552.6 L1410.6,556.3 L1418.4,560.7 L1426.1,565.7 L1433.7,571.0 L1441.1,576.6 L1448.3,582.4 L1455.3,588.3 L1462.2,594.3 L1469.0,600.6 L1475.5,607.0 L1481.9,613.5 L1488.1,620.1 L1494.2,626.9 L1500.1,633.8 L1505.9,640.9 L1511.5,648.1 L1517.0,655.3 L1522.3,662.7 L1527.5,670.2 L1532.5,677.8 L1537.4,685.6 L1542.2,693.4 L1546.8,701.2 L1551.3,709.2 L1555.7,717.3 L1559.9,725.4 L1564.0,733.6 L1567.9,741.9 L1571.8,750.2 L1575.5,758.6 L1579.1,767.1 L1582.6,775.6 L1586.0,784.2 L1589.2,792.8 L1592.4,801.4 L1595.4,810.0 L1598.3,818.7 L1601.2,827.5 L1603.9,836.2 L1606.5,844.9 L1609.0,853.7 L1611.4,862.5 L1613.8,871.2 L1616.0,880.0" fill="none" stroke="#ff9900" stroke-width="22.5" stroke-linejoin="round"/>
<path d="M549.0,480.0 L555.1,487.0 L561.3,493.8 L567.5,500.6 L573.8,507.2 L580.2,513.8 L586.7,520.3 L593.2,526.6 L599.8,533.0 L606.5,540.3 L613.3,547.5 L620.1,554.7 L627.1,561.9 L634.1,569.0 L641.1,576.1 L648.2,583.2 L655.5,590.0 L662.7,596.8 L670.1,603.5 L677.5,610.2 L685.0,617.0 L692.5,623.7 L700.2,630.4 L707.8,637.0 L715.6,643.6 L723.4,649.7 L731.3,655.2 L739.3,660.5 L747.3,665.7 L755.4,670.6 L763.6,675.3 L771.8,679.7 L780.1,683.8 L788.4,687.6 L796.9,691.0 L805.3,694.1 L813.9,696.7 L822.5,698.9 L831.2,700.2 L839.9,701.0 L848.7,701.2 L857.5,700.9 L866.4,700.0 L875.4,698.7 L884.3,697.7 L893.3,697.0 L902.3,696.0 L911.4,694.5 L920.4,692.7 L929.4,690.6 L938.3,688.2 L947.3,685.5 L956.2,682.5 L965.0,679.3 L973.8,675.9 L982.6,671.2 L991.2,666.3 L999.8,661.4 L1008.2,656.3 L1016.6,651.2 L1024.9,646.1 L1033.0,641.0 L1041.0,635.8 L1048.9,630.7 L1056.7,625.5 L1064.3,620.3 L1071.8,615.0 L1079.2,609.7 L1086.5,604.2 L1093.6,598.6 L1100.6,593.0 L1107.4,587.1 L1114.2,581.2 L1120.8,575.1 L1127.2,569.8 L1133.5,564.5 L1139.7,559.1 L1145.8,553.4 L1151.7,547.5 L1157.4,541.3 L1163.0,534.8 L1168.5,528.1 L1174.0,521.3 L1179.4,514.4 L1185.0,507.6 L1190.7,500.9 L1196.6,494.5 L1202.8,488.5 L1209.4,482.8 L1216.3,477.5 L1223.6,471.2 L1231.3,465.6 L1239.4,460.4 L1247.8,455.6 L1256.4,451.1 L1265.3,446.9 L1274.3,442.9 L1283.4,439.3 L1292.5,436.3 L1301.6,434.1 L1310.7,432.8 L1319.6,432.9 L1328.4,434.2 L1336.9,436.5 L1345.2,439.7 L1353.2,443.6 L1360.9,448.4 L1368.1,453.7 L1375.0,459.7 L1381.3,466.2 L1387.2,473.2 L1392.6,480.6 L1397.5,488.3 L1402.1,496.2 L1406.4,504.4 L1410.5,512.7 L1414.5,521.1 L1418.5,529.6 L1422.5,538.1 L1426.7,546.6 L1431.0,554.9 L1435.6,563.1 L1440.4,571.2 L1445.5,579.2 L1450.7,587.1 L1456.0,594.9 L1461.5,602.6 L1467.1,610.2 L1472.8,617.8 L1478.6,625.3 L1484.4,632.7 L1490.2,640.1 L1496.1,647.5 L1501.9,654.8 L1507.7,662.2 L1513.4,669.5 L1519.1,676.8 L1524.6,684.1 L1530.1,691.5 L1535.4,698.9 L1540.5,706.3 L1545.5,713.8 L1550.3,721.3 L1554.9,728.9 L1559.4,736.6 L1563.8,746.1 L1567.9,756.0 L1572.0,765.9 L1575.9,775.8 L1579.7,785.8 L1583.4,795.8 L1587.0,805.9 L1590.4,816.2 L1593.8,826.5 L1597.0,836.9 L1600.2,847.4 L1603.3,858.1 L1606.2,868.9 L1609.2,879.9 L1612.0,891.0 L1612.0,919.0 L1609.2,910.5 L1606.2,902.2 L1603.3,894.2 L1600.2,886.3 L1597.0,878.7 L1593.8,871.3 L1590.4,864.1 L1587.0,857.0 L1583.4,850.2 L1579.7,843.6 L1575.9,837.1 L1572.0,830.8 L1567.9,824.6 L1563.8,818.7 L1559.4,812.6 L1554.9,804.7 L1550.3,797.0 L1545.5,789.2 L1540.5,781.6 L1535.4,774.0 L1530.1,766.4 L1524.6,758.8 L1519.1,751.3 L1513.4,743.7 L1507.7,736.2 L1501.9,728.6 L1496.1,721.1 L1490.2,713.5 L1484.4,705.9 L1478.6,698.2 L1472.8,690.5 L1467.1,682.7 L1461.5,674.9 L1456.0,667.0 L1450.7,659.0 L1445.5,650.9 L1440.4,642.8 L1435.6,634.5 L1431.0,626.1 L1426.7,617.6 L1422.5,608.9 L1418.5,600.3 L1414.5,591.6 L1410.5,583.1 L1406.4,574.6 L1402.1,566.3 L1397.5,558.3 L1392.6,550.6 L1387.2,543.2 L1381.3,536.2 L1375.0,529.7 L1368.1,523.7 L1360.9,518.4 L1353.2,513.6 L1345.2,509.7 L1336.9,506.5 L1328.4,504.2 L1319.6,502.9 L1310.7,502.2 L1301.6,502.6 L1292.5,503.9 L1283.4,506.0 L1274.3,508.7 L1265.3,511.8 L1256.4,515.2 L1247.8,518.8 L1239.4,522.8 L1231.3,527.2 L1223.6,532.1 L1216.3,537.6 L1209.4,545.0 L1202.8,553.2 L1196.6,561.6 L1190.7,570.3 L1185.0,579.2 L1179.4,588.2 L1174.0,597.2 L1168.5,606.1 L1163.0,614.9 L1157.4,623.6 L1151.7,632.0 L1145.8,640.2 L1139.7,648.2 L1133.5,656.1 L1127.2,663.8 L1120.8,671.1 L1114.2,677.2 L1107.4,683.1 L1100.6,689.0 L1093.6,694.6 L1086.5,700.2 L1079.2,705.7 L1071.8,711.0 L1064.3,716.3 L1056.7,721.5 L1048.9,726.7 L1041.0,731.7 L1033.0,736.6 L1024.9,741.5 L1016.6,746.4 L1008.2,751.3 L999.8,756.1 L991.2,760.8 L982.6,765.4 L973.8,769.9 L965.0,775.2 L956.2,780.5 L947.3,785.6 L938.3,790.4 L929.4,794.9 L920.4,799.2 L911.4,803.1 L902.3,806.7 L893.3,809.9 L884.3,812.7 L875.4,814.2 L866.4,814.6 L857.5,814.4 L848.7,813.8 L839.9,812.6 L831.2,810.9 L822.5,808.9 L813.9,806.7 L805.3,804.1 L796.9,801.0 L788.4,797.6 L780.1,793.8 L771.8,789.7 L763.6,785.3 L755.4,780.6 L747.3,775.7 L739.3,770.5 L731.3,765.2 L723.4,759.7 L715.6,754.4 L707.8,749.4 L700.2,744.3 L692.5,739.2 L685.0,734.0 L677.5,728.7 L670.1,723.5 L662.7,718.2 L655.5,713.0 L648.2,707.7 L641.1,702.6 L634.1,697.5 L627.1,692.3 L620.1,687.1 L613.3,681.8 L606.5,676.4 L599.8,671.0 L593.2,664.4 L586.7,657.7 L580.2,651.0 L573.8,644.2 L567.5,637.3 L561.3,630.3 L555.1,623.2 L549.0,616.0Z" fill="#ff0000" fill-opacity="0.4"/>
<path d="M549.0,548.0 L555.1,555.1 L561.3,562.1 L567.5,568.9 L573.8,575.7 L580.2,582.4 L586.7,589.0 L593.2,595.5 L599.8,602.0 L606.5,608.3 L613.3,614.6 L620.1,620.9 L627.1,627.1 L634.1,633.3 L641.1,639.4 L648.2,645.5 L655.5,651.5 L662.7,657.5 L670.1,663.5 L677.5,669.5 L685.0,675.5 L692.5,681.4 L700.2,687.4 L707.8,693.2 L715.6,699.0 L723.4,704.7 L731.3,710.2 L739.3,715.5 L747.3,720.7 L755.4,725.6 L763.6,730.3 L771.8,734.7 L780.1,738.8 L788.4,742.6 L796.9,746.0 L805.3,749.1 L813.9,751.7 L822.5,753.9 L831.2,755.6 L839.9,756.8 L848.7,757.5 L857.5,757.6 L866.4,757.3 L875.4,756.5 L884.3,755.2 L893.3,753.5 L902.3,751.3 L911.4,748.8 L920.4,745.9 L929.4,742.8 L938.3,739.3 L947.3,735.5 L956.2,731.5 L965.0,727.3 L973.8,722.9 L982.6,718.3 L991.2,713.6 L999.8,708.7 L1008.2,703.8 L1016.6,698.8 L1024.9,693.8 L1033.0,688.8 L1041.0,683.7 L1048.9,678.7 L1056.7,673.5 L1064.3,668.3 L1071.8,663.0 L1079.2,657.7 L1086.5,652.2 L1093.6,646.6 L1100.6,641.0 L1107.4,635.1 L1114.2,629.2 L1120.8,623.1 L1127.2,616.8 L1133.5,610.3 L1139.7,603.6 L1145.8,596.8 L1151.7,589.7 L1157.4,582.4 L1163.0,574.9 L1168.5,567.1 L1174.0,559.2 L1179.4,551.3 L1185.0,543.4 L1190.7,535.6 L1196.6,528.1 L1202.8,520.8 L1209.4,513.9 L1216.3,507.5 L1223.6,501.6 L1231.3,496.4 L1239.4,491.6 L1247.8,487.2 L1256.4,483.2 L1265.3,479.4 L1274.3,475.8 L1283.4,472.6 L1292.5,470.1 L1301.6,468.3 L1310.7,467.5 L1319.6,467.9 L1328.4,469.2 L1336.9,471.5 L1345.2,474.7 L1353.2,478.6 L1360.9,483.4 L1368.1,488.7 L1375.0,494.7 L1381.3,501.2 L1387.2,508.2 L1392.6,515.6 L1397.5,523.3 L1402.1,531.3 L1406.4,539.5 L1410.5,547.9 L1414.5,556.4 L1418.5,564.9 L1422.5,573.5 L1426.7,582.1 L1431.0,590.5 L1435.6,598.8 L1440.4,607.0 L1445.5,615.1 L1450.7,623.1 L1456.0,630.9 L1461.5,638.7 L1467.1,646.5 L1472.8,654.1 L1478.6,661.7 L1484.4,669.3 L1490.2,676.8 L1496.1,684.3 L1501.9,691.7 L1507.7,699.2 L1513.4,706.6 L1519.1,714.0 L1524.6,721.5 L1530.1,728.9 L1535.4,736.4 L1540.5,743.9 L1545.5,751.5 L1550.3,759.1 L1554.9,766.8 L1559.4,774.6 L1563.8,782.4 L1567.9,790.3 L1572.0,798.3 L1575.9,806.4 L1579.7,814.7 L1583.4,823.0 L1587.0,831.5 L1590.4,840.1 L1593.8,848.9 L1597.0,857.8 L1600.2,866.9 L1603.3,876.1 L1606.2,885.6 L1609.2,895.2 L1612.0,905.0" fill="none" stroke="#ff0000" stroke-width="22.5" stroke-linejoin="round"/>
<path d="M549.0,470.0 L556.4,475.1 L563.9,480.1 L571.7,485.1 L579.6,490.0 L587.7,494.8 L595.9,499.4 L604.3,504.9 L612.8,511.1 L621.5,517.1 L630.3,522.9 L639.2,528.5 L648.2,534.1 L657.3,539.7 L666.6,545.0 L675.9,550.1 L685.3,554.7 L694.7,559.0 L704.3,562.5 L713.9,564.9 L723.6,566.8 L733.3,568.3 L743.0,569.3 L752.8,569.9 L762.6,570.1 L772.4,569.8 L782.2,569.2 L792.0,568.2 L801.8,566.8 L811.6,565.1 L821.4,563.1 L831.1,560.6 L840.8,557.7 L850.5,554.5 L860.1,551.1 L869.6,547.5 L879.1,543.6 L888.5,539.5 L897.8,535.3 L907.1,530.9 L916.2,526.3 L925.3,521.6 L934.2,516.8 L943.0,511.9 L951.8,506.8 L960.4,501.6 L969.0,496.3 L977.4,492.1 L985.8,488.8 L994.1,485.3 L1002.3,481.7 L1010.4,478.0 L1018.4,474.2 L1026.3,468.1 L1034.2,461.4 L1042.0,454.6 L1049.7,448.1 L1057.3,442.2 L1064.9,436.4 L1072.4,430.5 L1079.8,424.6 L1087.1,418.6 L1094.4,412.4 L1101.6,406.1 L1108.6,399.7 L1115.5,393.2 L1122.3,386.5 L1129.0,379.7 L1135.4,372.7 L1141.7,365.6 L1147.8,358.7 L1153.7,351.7 L1159.5,344.5 L1165.3,337.4 L1171.2,330.1 L1177.2,322.4 L1183.5,315.0 L1190.0,307.8 L1197.0,301.0 L1204.5,294.6 L1212.6,288.7 L1221.2,282.6 L1230.4,276.8 L1239.9,271.6 L1249.7,267.2 L1259.7,263.7 L1269.7,261.0 L1279.7,259.4 L1289.6,258.8 L1299.2,260.6 L1308.4,263.5 L1317.1,267.4 L1325.5,272.1 L1333.5,277.6 L1341.1,283.8 L1348.3,290.3 L1355.2,297.3 L1361.9,304.7 L1368.2,312.5 L1374.3,320.6 L1380.2,328.9 L1385.9,337.3 L1391.3,345.9 L1396.6,354.6 L1401.7,363.3 L1406.6,372.0 L1411.4,380.7 L1416.0,389.6 L1420.5,398.5 L1424.9,407.6 L1429.2,416.7 L1433.4,425.8 L1437.5,435.0 L1441.6,444.2 L1445.6,453.5 L1449.6,462.8 L1453.5,472.1 L1457.4,481.3 L1461.4,490.6 L1465.3,499.9 L1469.3,509.2 L1473.2,518.4 L1477.2,527.6 L1481.3,536.7 L1485.3,545.9 L1489.4,555.0 L1493.5,564.1 L1497.6,573.2 L1501.7,582.3 L1505.8,591.4 L1509.9,600.4 L1514.0,609.5 L1518.1,618.5 L1522.2,627.5 L1526.2,636.6 L1530.3,645.6 L1534.4,654.7 L1538.4,663.7 L1542.4,672.8 L1546.4,681.8 L1550.4,690.9 L1554.3,700.0 L1558.2,709.1 L1562.1,718.8 L1566.0,728.9 L1569.7,739.0 L1573.5,749.2 L1577.2,759.4 L1580.9,769.5 L1584.5,779.8 L1588.0,790.0 L1591.5,800.2 L1594.9,810.5 L1598.3,820.8 L1601.6,831.1 L1604.8,841.4 L1608.0,851.8 L1611.1,862.1 L1614.1,872.6 L1617.0,883.0 L1617.0,927.0 L1614.1,918.0 L1611.1,909.1 L1608.0,900.2 L1604.8,891.4 L1601.6,882.6 L1598.3,873.9 L1594.9,865.3 L1591.5,856.7 L1588.0,848.2 L1584.5,839.7 L1580.9,831.3 L1577.2,822.9 L1573.5,814.6 L1569.7,806.3 L1566.0,798.0 L1562.1,789.7 L1558.2,781.1 L1554.3,771.8 L1550.4,762.7 L1546.4,753.5 L1542.4,744.3 L1538.4,735.2 L1534.4,726.0 L1530.3,716.9 L1526.2,707.7 L1522.2,698.6 L1518.1,689.5 L1514.0,680.3 L1509.9,671.2 L1505.8,662.0 L1501.7,652.8 L1497.6,643.6 L1493.5,634.5 L1489.4,625.2 L1485.3,616.0 L1481.3,606.8 L1477.2,597.5 L1473.2,588.2 L1469.3,578.9 L1465.3,569.5 L1461.4,560.2 L1457.4,550.8 L1453.5,541.4 L1449.6,532.0 L1445.6,522.6 L1441.6,513.3 L1437.5,503.9 L1433.4,494.6 L1429.2,485.4 L1424.9,476.2 L1420.5,467.1 L1416.0,458.0 L1411.4,449.0 L1406.6,440.1 L1401.7,431.3 L1396.6,422.8 L1391.3,414.5 L1385.9,406.3 L1380.2,398.2 L1374.3,390.3 L1368.2,382.6 L1361.9,375.2 L1355.2,368.2 L1348.3,361.7 L1341.1,355.7 L1333.5,350.7 L1325.5,346.5 L1317.1,343.1 L1308.4,340.6 L1299.2,339.2 L1289.6,338.7 L1279.7,337.7 L1269.7,337.8 L1259.7,338.8 L1249.7,340.8 L1239.9,343.6 L1230.4,347.2 L1221.2,351.6 L1212.6,356.6 L1204.5,362.1 L1197.0,368.2 L1190.0,374.7 L1183.5,381.6 L1177.2,388.8 L1171.2,396.2 L1165.3,403.8 L1159.5,411.6 L1153.7,419.3 L1147.8,427.0 L1141.7,434.5 L1135.4,441.7 L1129.0,448.7 L1122.3,455.5 L1115.5,462.2 L1108.6,468.7 L1101.6,474.8 L1094.4,480.9 L1087.1,486.8 L1079.8,493.3 L1072.4,503.1 L1064.9,512.8 L1057.3,524.6 L1049.7,537.6 L1042.0,547.4 L1034.2,555.3 L1026.3,563.2 L1018.4,571.0 L1010.4,578.9 L1002.3,586.8 L994.1,594.5 L985.8,602.2 L977.4,609.8 L969.0,616.2 L960.4,621.3 L951.8,626.2 L943.0,631.1 L934.2,635.8 L925.3,640.4 L916.2,644.8 L907.1,649.1 L897.8,653.3 L888.5,657.3 L879.1,661.1 L869.6,664.7 L860.1,668.1 L850.5,671.2 L840.8,674.1 L831.1,676.8 L821.4,679.2 L811.6,681.6 L801.8,683.6 L792.0,685.3 L782.2,686.6 L772.4,687.5 L762.6,688.1 L752.8,688.2 L743.0,688.0 L733.3,687.2 L723.6,686.1 L713.9,684.4 L704.3,682.3 L694.7,680.4 L685.3,678.5 L675.9,676.2 L666.6,673.6 L657.3,670.6 L648.2,667.3 L639.2,663.3 L630.3,658.9 L621.5,654.2 L612.8,649.4 L604.3,644.3 L595.9,638.1 L587.7,630.9 L579.6,623.6 L571.7,616.2 L563.9,608.8 L556.4,601.4 L549.0,594.0Z" fill="#b0119d" fill-opacity="0.4"/>
<path d="M549.0,532.0 L556.4,538.2 L563.9,544.5 L571.7,550.7 L579.6,556.8 L587.7,562.8 L595.9,568.8 L604.3,574.6 L612.8,580.2 L621.5,585.7 L630.3,590.9 L639.2,595.9 L648.2,600.7 L657.3,605.1 L666.6,609.3 L675.9,613.1 L685.3,616.6 L694.7,619.7 L704.3,622.4 L713.9,624.6 L723.6,626.4 L733.3,627.8 L743.0,628.6 L752.8,629.1 L762.6,629.1 L772.4,628.7 L782.2,627.9 L792.0,626.7 L801.8,625.2 L811.6,623.4 L821.4,621.2 L831.1,618.7 L840.8,615.9 L850.5,612.9 L860.1,609.6 L869.6,606.1 L879.1,602.3 L888.5,598.4 L897.8,594.3 L907.1,590.0 L916.2,585.6 L925.3,581.0 L934.2,576.3 L943.0,571.5 L951.8,566.5 L960.4,561.4 L969.0,556.2 L977.4,550.9 L985.8,545.5 L994.1,539.9 L1002.3,534.3 L1010.4,528.5 L1018.4,522.6 L1026.3,516.6 L1034.2,510.5 L1042.0,504.3 L1049.7,498.0 L1057.3,491.6 L1064.9,485.1 L1072.4,478.4 L1079.8,471.8 L1087.1,465.0 L1094.4,458.1 L1101.6,451.1 L1108.6,444.0 L1115.5,436.7 L1122.3,429.4 L1129.0,421.9 L1135.4,414.3 L1141.7,406.5 L1147.8,398.5 L1153.7,390.5 L1159.5,382.3 L1165.3,374.2 L1171.2,366.1 L1177.2,358.1 L1183.5,350.4 L1190.0,342.9 L1197.0,335.8 L1204.5,329.0 L1212.6,322.8 L1221.2,317.1 L1230.4,312.0 L1239.9,307.6 L1249.7,304.0 L1259.7,301.3 L1269.7,299.4 L1279.7,298.6 L1289.6,298.7 L1299.2,299.9 L1308.4,302.1 L1317.1,305.2 L1325.5,309.3 L1333.5,314.2 L1341.1,319.8 L1348.3,326.0 L1355.2,332.7 L1361.9,340.0 L1368.2,347.6 L1374.3,355.5 L1380.2,363.6 L1385.9,371.8 L1391.3,380.2 L1396.6,388.7 L1401.7,397.3 L1406.6,406.0 L1411.4,414.9 L1416.0,423.8 L1420.5,432.8 L1424.9,441.9 L1429.2,451.0 L1433.4,460.2 L1437.5,469.5 L1441.6,478.7 L1445.6,488.1 L1449.6,497.4 L1453.5,506.7 L1457.4,516.1 L1461.4,525.4 L1465.3,534.7 L1469.3,544.0 L1473.2,553.3 L1477.2,562.5 L1481.3,571.8 L1485.3,581.0 L1489.4,590.1 L1493.5,599.3 L1497.6,608.4 L1501.7,617.6 L1505.8,626.7 L1509.9,635.8 L1514.0,644.9 L1518.1,654.0 L1522.2,663.1 L1526.2,672.2 L1530.3,681.2 L1534.4,690.3 L1538.4,699.4 L1542.4,708.5 L1546.4,717.7 L1550.4,726.8 L1554.3,735.9 L1558.2,745.1 L1562.1,754.2 L1566.0,763.4 L1569.7,772.6 L1573.5,781.9 L1577.2,791.1 L1580.9,800.4 L1584.5,809.7 L1588.0,819.1 L1591.5,828.5 L1594.9,837.9 L1598.3,847.4 L1601.6,856.8 L1604.8,866.4 L1608.0,876.0 L1611.1,885.6 L1614.1,895.3 L1617.0,905.0" fill="none" stroke="#a0008c" stroke-width="22.5" stroke-linejoin="round"/>
<circle cx="796.8" cy="1398.9" r="8.5" fill="#404040"/>
<circle cx="951.0" cy="1393.4" r="8.5" fill="#404040"/>
<circle cx="1070.0" cy="1393.4" r="8.5" fill="#404040"/>
<circle cx="1093.6" cy="1613.5" r="15" fill="#404040"/>
<circle cx="799.0" cy="1493.4" r="15" fill="#9b5a25"/>
<circle cx="952.0" cy="1493.4" r="15" fill="#9b5a25"/>
<circle cx="1072.0" cy="1497.0" r="15" fill="#9b5a25"/>
<circle cx="1096.0" cy="1393.0" r="8.5" fill="#9b5a25"/>
<circle cx="799.0" cy="1613.5" r="15" fill="#8b8b83"/>
<circle cx="952.0" cy="1587.0" r="15" fill="#8b8b83"/>
<circle cx="1072.0" cy="1450.0" r="15" fill="#8b8b83"/>
<circle cx="1093.6" cy="1517.6" r="15" fill="#8b8b83"/>
<circle cx="1122.6" cy="1286.0" r="15" fill="#8b8b83"/>
<circle cx="1169.8" cy="1357.0" r="15" fill="#8b8b83"/>
<circle cx="1262.6" cy="1297.9" r="15" fill="#8b8b83"/>
<circle cx="1320.5" cy="1288.7" r="15" fill="#8b8b83"/>
<circle cx="1341.8" cy="1291.8" r="18" fill="#8b8b83"/>
<circle cx="1418.0" cy="1282.6" r="27" fill="#8b8b83"/>
<circle cx="1122.6" cy="1272.0" r="15" fill="#9b5a25"/>
<circle cx="1169.8" cy="1395.9" r="15" fill="#9b5a25"/>
<circle cx="1185.0" cy="1275.0" r="15" fill="#9b5a25"/>
<circle cx="1201.8" cy="1276.5" r="15" fill="#9b5a25"/>
<circle cx="1223.0" cy="1275.0" r="15" fill="#9b5a25"/>
<circle cx="1261.0" cy="1279.0" r="8.5" fill="#9b5a25"/>
<circle cx="1320.5" cy="1276.5" r="8.5" fill="#9b5a25"/>
<circle cx="1357.0" cy="1261.3" r="27" fill="#9b5a25"/>
<circle cx="1182.0" cy="1214.0" r="15" fill="#404040"/>
<circle cx="1168.0" cy="1226.0" r="15" fill="#404040"/>
<circle cx="1211.0" cy="1223.0" r="15" fill="#404040"/>
<circle cx="1354.0" cy="1214.0" r="15" fill="#404040"/>
<circle cx="1409.0" cy="1223.0" r="15" fill="#404040"/>
<circle cx="1430.0" cy="1229.0" r="15" fill="#404040"/>
<circle cx="1201.8" cy="1238.5" r="8.5" fill="#8b8b83"/>
<circle cx="1355.5" cy="1231.0" r="8.5" fill="#8b8b83"/>
<circle cx="1484.0" cy="1419.0" r="41" fill="#8b8b83"/>
<circle cx="1465.7" cy="1339.0" r="33" fill="#9b5a25"/>
<circle cx="1493.0" cy="1355.0" r="30" fill="#9b5a25"/>
<circle cx="1475.0" cy="1273.0" r="36.5" fill="#404040"/>
<circle cx="1429.0" cy="1510.7" r="15" fill="#8b8b83"/>
<circle cx="1443.0" cy="1490.0" r="15" fill="#8b8b83"/>
<circle cx="1536.6" cy="1376.0" r="15" fill="#404040"/>
<circle cx="1536.6" cy="1577.0" r="15" fill="#8b8b83"/>
<circle cx="1536.6" cy="1599.8" r="15" fill="#9b5a25"/>
<circle cx="1614.0" cy="1597.5" r="35" fill="#404040"/>
<circle cx="1609.7" cy="1652.0" r="39" fill="#9b5a25"/>
<circle cx="1640.0" cy="1655.0" r="14" fill="#9b5a25"/>
<circle cx="1607.4" cy="1632.0" r="39" fill="#8b8b83"/>
<circle cx="1610.0" cy="1655.0" r="36" fill="#8b8b83"/>
<circle cx="799.0" cy="849.0" r="15" fill="#006400"/>
<circle cx="799.0" cy="901.0" r="15" fill="#ff9900"/>
<circle cx="799.0" cy="803.6" r="15" fill="#0000ff"/>
<circle cx="799.0" cy="816.0" r="15" fill="#ff0000"/>
<circle cx="797.0" cy="762.0" r="8.5" fill="#a0008c"/>
<circle cx="949.5" cy="614.2" r="15" fill="#404040"/>
<circle cx="952.0" cy="616.7" r="15" fill="#006400"/>
<circle cx="952.0" cy="653.5" r="15" fill="#0000ff"/>
<circle cx="952.0" cy="672.6" r="15" fill="#a0008c"/>
<circle cx="952.0" cy="846.0" r="15" fill="#ff0000"/>
<circle cx="952.0" cy="888.0" r="15" fill="#ff9900"/>
<circle cx="1070.9" cy="481.0" r="15" fill="#0000ff"/>
<circle cx="1123.5" cy="469.4" r="15" fill="#0000ff"/>
<circle cx="1094.3" cy="442.6" r="8.5" fill="#0000ff"/>
<circle cx="1095.2" cy="488.5" r="15" fill="#404040"/>
<circle cx="1122.0" cy="497.0" r="15" fill="#404040"/>
<circle cx="1097.7" cy="491.0" r="15" fill="#006400"/>
<circle cx="1124.5" cy="499.5" r="15" fill="#006400"/>
<circle cx="1068.0" cy="470.0" r="8.5" fill="#006400"/>
<circle cx="1071.9" cy="595.0" r="15" fill="#a0008c"/>
<circle cx="1097.7" cy="581.5" r="15" fill="#a0008c"/>
<circle cx="1123.5" cy="469.4" r="8.5" fill="#a0008c"/>
<circle cx="1123.5" cy="538.0" r="15" fill="#ff9900"/>
<circle cx="1097.7" cy="819.3" r="15" fill="#ff9900"/>
<circle cx="1072.5" cy="868.0" r="15" fill="#ff9900"/>
<circle cx="1123.5" cy="553.0" r="15" fill="#ff0000"/>
<circle cx="1097.7" cy="857.8" r="15" fill="#ff0000"/>
<circle cx="1070.9" cy="857.8" r="10" fill="#ff0000"/>
<circle cx="1169.7" cy="486.0" r="15" fill="#a0008c"/>
<circle cx="1168.0" cy="504.5" r="15" fill="#ff9900"/>
<circle cx="1198.0" cy="497.8" r="15" fill="#ff9900"/>
<circle cx="1228.3" cy="518.0" r="9" fill="#ff9900"/>
<circle cx="1164.7" cy="534.7" r="15" fill="#ff0000"/>
<circle cx="1186.4" cy="509.5" r="15" fill="#ff0000"/>
<circle cx="1171.4" cy="404.0" r="15" fill="#006400"/>
<circle cx="1188.0" cy="305.0" r="15" fill="#006400"/>
<circle cx="1210.0" cy="312.0" r="15" fill="#006400"/>
<circle cx="1226.6" cy="325.0" r="21" fill="#006400"/>
<circle cx="1261.8" cy="296.9" r="10" fill="#006400"/>
<circle cx="1171.4" cy="387.3" r="11" fill="#0000ff"/>
<circle cx="1184.8" cy="348.8" r="13" fill="#0000ff"/>
<circle cx="1218.0" cy="357.0" r="18" fill="#0000ff"/>
<circle cx="1226.6" cy="330.0" r="8.5" fill="#0000ff"/>
<circle cx="1263.5" cy="435.9" r="15" fill="#0000ff"/>
<circle cx="1183.0" cy="317.0" r="15" fill="#a0008c"/>
<circle cx="1200.0" cy="322.0" r="15" fill="#a0008c"/>
<circle cx="1240.0" cy="318.0" r="15" fill="#a0008c"/>
<circle cx="1355.0" cy="301.0" r="15" fill="#a0008c"/>
<circle cx="1380.0" cy="305.0" r="15" fill="#a0008c"/>
<circle cx="1405.5" cy="310.0" r="22" fill="#a0008c"/>
<circle cx="1431.0" cy="317.6" r="15" fill="#a0008c"/>
<circle cx="1355.0" cy="345.0" r="21" fill="#006400"/>
<circle cx="1321.8" cy="352.6" r="10" fill="#006400"/>
<circle cx="1410.0" cy="375.5" r="13" fill="#006400"/>
<circle cx="1355.0" cy="345.0" r="8.5" fill="#0000ff"/>
<circle cx="1321.8" cy="331.0" r="9" fill="#0000ff"/>
<circle cx="1408.5" cy="346.5" r="15" fill="#0000ff"/>
<circle cx="1355.0" cy="544.5" r="17" fill="#ff9900"/>
<circle cx="1361.0" cy="564.0" r="13" fill="#ff9900"/>
<circle cx="1318.0" cy="500.0" r="9" fill="#ff9900"/>
<circle cx="1318.0" cy="498.0" r="8.5" fill="#ff0000"/>
<circle cx="1352.8" cy="391.3" r="21" fill="#0000ff"/>
<circle cx="1360.4" cy="421.8" r="21" fill="#0000ff"/>
<circle cx="1420.0" cy="462.0" r="28" fill="#0000ff"/>
<circle cx="1416.0" cy="470.0" r="21" fill="#a0008c"/>
<circle cx="1395.0" cy="499.0" r="21" fill="#006400"/>
<circle cx="1438.0" cy="520.0" r="21" fill="#006400"/>
<circle cx="1398.0" cy="505.0" r="17" fill="#ff0000"/>
<circle cx="1436.0" cy="525.0" r="17" fill="#ff0000"/>
<circle cx="1426.8" cy="523.0" r="8.5" fill="#a0008c"/>
<circle cx="1480.0" cy="544.5" r="39" fill="#a0008c"/>
<circle cx="1495.0" cy="575.0" r="36" fill="#a0008c"/>
<circle cx="1516.6" cy="605.0" r="15" fill="#ff0000"/>
<circle cx="1427.9" cy="636.6" r="13" fill="#ff9900"/>
<circle cx="1432.4" cy="667.0" r="20" fill="#0000ff"/>
<circle cx="1470.5" cy="636.6" r="30" fill="#006400"/>
<circle cx="1473.5" cy="635.0" r="8.5" fill="#ff9900"/>
<circle cx="1497.9" cy="638.0" r="21" fill="#0000ff"/>
<circle cx="1517.7" cy="635.0" r="12" fill="#ff9900"/>
<circle cx="1498.0" cy="672.0" r="10" fill="#ff9900"/>
<circle cx="1517.7" cy="607.7" r="14" fill="#ff0000"/>
<circle cx="1476.6" cy="700.5" r="36.5" fill="#ff0000"/>
<circle cx="1464.4" cy="747.7" r="15" fill="#a0008c"/>
<circle cx="1500.9" cy="747.7" r="15" fill="#ff0000"/>
<circle cx="1609.0" cy="662.5" r="15" fill="#ff9900"/>
<circle cx="1534.4" cy="682.3" r="10" fill="#0000ff"/>
<circle cx="1534.4" cy="699.0" r="9" fill="#ff9900"/>
<circle cx="1534.4" cy="720.3" r="9" fill="#006400"/>
<circle cx="1537.4" cy="833.0" r="15" fill="#a0008c"/>
<circle cx="1537.4" cy="868.0" r="15" fill="#ff0000"/>
<circle cx="1609.3" cy="778.8" r="30" fill="#006400"/>
<circle cx="1637.9" cy="799.7" r="8" fill="#006400"/>
<circle cx="1609.3" cy="788.3" r="28" fill="#0000ff"/>
<circle cx="1637.9" cy="826.4" r="12" fill="#0000ff"/>
<circle cx="1607.4" cy="805.4" r="24" fill="#ff9900"/>
<circle cx="1607.4" cy="807.0" r="21" fill="#ff0000"/>
<circle cx="1630.0" cy="828.0" r="10" fill="#ff0000"/>
<circle cx="1607.4" cy="841.6" r="25" fill="#a0008c"/>
<circle cx="1622.6" cy="879.6" r="29" fill="#a0008c"/>
<rect x="470.5" y="66.3" width="1207.2" height="2113.2" fill="none" stroke="#7f7f7f" stroke-width="4.2"/>
<line x1="451.5" x2="468.5" y1="125.9" y2="125.9" stroke="#000" stroke-width="4.2"/>
<line x1="451.5" x2="468.5" y1="518.0" y2="518.0" stroke="#000" stroke-width="4.2"/>
<line x1="451.5" x2="468.5" y1="910.4" y2="910.4" stroke="#000" stroke-width="4.2"/>
<line x1="451.5" x2="468.5" y1="1298.0" y2="1298.0" stroke="#000" stroke-width="4.2"/>
<line x1="451.5" x2="468.5" y1="1691.3" y2="1691.3" stroke="#000" stroke-width="4.2"/>
<line x1="451.5" x2="468.5" y1="2081.3" y2="2081.3" stroke="#000" stroke-width="4.2"/>
<line x1="525.7" x2="525.7" y1="2181.5" y2="2194.5" stroke="#000" stroke-width="4.2"/>
<line x1="824.3" x2="824.3" y1="2181.5" y2="2194.5" stroke="#000" stroke-width="4.2"/>
<line x1="1123.3" x2="1123.3" y1="2181.5" y2="2194.5" stroke="#000" stroke-width="4.2"/>
<line x1="1417.6" x2="1417.6" y1="2181.5" y2="2194.5" stroke="#000" stroke-width="4.2"/>
<text x="439.5" y="148.9" font-size="58" text-anchor="end" font-weight="normal" textLength="134.0" lengthAdjust="spacingAndGlyphs">1.100</text>
<text x="439.5" y="541.0" font-size="58" text-anchor="end" font-weight="normal" textLength="134.0" lengthAdjust="spacingAndGlyphs">1.075</text>
<text x="439.5" y="933.4" font-size="58" text-anchor="end" font-weight="normal" textLength="134.0" lengthAdjust="spacingAndGlyphs">1.050</text>
<text x="439.5" y="1321.0" font-size="58" text-anchor="end" font-weight="normal" textLength="134.0" lengthAdjust="spacingAndGlyphs">1.025</text>
<text x="439.5" y="1714.3" font-size="58" text-anchor="end" font-weight="normal" textLength="134.0" lengthAdjust="spacingAndGlyphs">1.000</text>
<text x="439.5" y="2104.3" font-size="58" text-anchor="end" font-weight="normal" textLength="134.0" lengthAdjust="spacingAndGlyphs">0.975</text>
<text x="525.7" y="2258.0" font-size="58" text-anchor="middle" font-weight="normal" textLength="114.0" lengthAdjust="spacingAndGlyphs">1925</text>
<text x="824.3" y="2258.0" font-size="58" text-anchor="middle" font-weight="normal" textLength="114.0" lengthAdjust="spacingAndGlyphs">1950</text>
<text x="1123.3" y="2258.0" font-size="58" text-anchor="middle" font-weight="normal" textLength="114.0" lengthAdjust="spacingAndGlyphs">1975</text>
<text x="1417.6" y="2258.0" font-size="58" text-anchor="middle" font-weight="normal" textLength="114.0" lengthAdjust="spacingAndGlyphs">2000</text>
<text x="54.0" y="113.0" font-size="64" text-anchor="start" font-weight="bold" textLength="61.0" lengthAdjust="spacingAndGlyphs">A)</text>
<text x="1794.0" y="109.0" font-size="66" text-anchor="start" font-weight="bold" textLength="336.0" lengthAdjust="spacingAndGlyphs">YFV (n= 51)</text>
<text transform="translate(281.5,1124) rotate(-90)" font-size="75" text-anchor="middle" textLength="494" lengthAdjust="spacingAndGlyphs">Normalized_CAI</text>
<text x="1071.0" y="2338.0" font-size="67" text-anchor="middle" font-weight="normal" textLength="138.0" lengthAdjust="spacingAndGlyphs">Year</text>
<text x="1746.0" y="374.4" font-size="67" text-anchor="start" font-weight="normal" textLength="41.0" lengthAdjust="spacingAndGlyphs">n</text>
<rect x="1750.1" y="395.1" width="97.8" height="98.9" fill="#fff" stroke="#cccccc" stroke-width="4.2"/>
<circle cx="1795.0" cy="443.5" r="8.4" fill="#000"/>
<text x="1860.0" y="467.5" font-size="58" text-anchor="start" font-weight="normal" textLength="24.0" lengthAdjust="spacingAndGlyphs">1</text>
<rect x="1750.1" y="494.0" width="97.8" height="98.9" fill="#fff" stroke="#cccccc" stroke-width="4.2"/>
<circle cx="1795.0" cy="542.4" r="21" fill="#000"/>
<text x="1860.0" y="566.4" font-size="58" text-anchor="start" font-weight="normal" textLength="28.0" lengthAdjust="spacingAndGlyphs">2</text>
<rect x="1750.1" y="592.9" width="97.8" height="98.9" fill="#fff" stroke="#cccccc" stroke-width="4.2"/>
<circle cx="1795.0" cy="641.3" r="28" fill="#000"/>
<text x="1860.0" y="665.3" font-size="58" text-anchor="start" font-weight="normal" textLength="28.0" lengthAdjust="spacingAndGlyphs">3</text>
<rect x="1750.1" y="691.8" width="97.8" height="98.9" fill="#fff" stroke="#cccccc" stroke-width="4.2"/>
<circle cx="1795.0" cy="740.2" r="32.5" fill="#000"/>
<text x="1860.0" y="764.2" font-size="58" text-anchor="start" font-weight="normal" textLength="28.0" lengthAdjust="spacingAndGlyphs">4</text>
<rect x="1750.1" y="790.7" width="97.8" height="98.9" fill="#fff" stroke="#cccccc" stroke-width="4.2"/>
<circle cx="1795.0" cy="839.1" r="36.5" fill="#000"/>
<text x="1860.0" y="863.1" font-size="58" text-anchor="start" font-weight="normal" textLength="28.0" lengthAdjust="spacingAndGlyphs">5</text>
<rect x="1750.1" y="889.6" width="97.8" height="98.9" fill="#fff" stroke="#cccccc" stroke-width="4.2"/>
<circle cx="1795.0" cy="938.0" r="39" fill="#000"/>
<text x="1860.0" y="962.0" font-size="58" text-anchor="start" font-weight="normal" textLength="28.0" lengthAdjust="spacingAndGlyphs">6</text>
<text x="1748.0" y="1123.5" font-size="67" text-anchor="start" font-weight="normal" textLength="165.0" lengthAdjust="spacingAndGlyphs">Table</text>
<rect x="1750.1" y="1144.4" width="97.8" height="98.6" fill="#fff" stroke="#cccccc" stroke-width="4.2"/>
<rect x="1750.1" y="1243.0" width="97.8" height="98.6" fill="#fff" stroke="#cccccc" stroke-width="4.2"/>
<rect x="1750.1" y="1341.5" width="97.8" height="98.6" fill="#fff" stroke="#cccccc" stroke-width="4.2"/>
<rect x="1750.1" y="1440.1" width="97.8" height="98.6" fill="#fff" stroke="#cccccc" stroke-width="4.2"/>
<rect x="1750.1" y="1538.6" width="97.8" height="98.6" fill="#fff" stroke="#cccccc" stroke-width="4.2"/>
<rect x="1750.1" y="1637.2" width="97.8" height="98.6" fill="#fff" stroke="#cccccc" stroke-width="4.2"/>
<rect x="1750.1" y="1735.8" width="97.8" height="98.6" fill="#fff" stroke="#cccccc" stroke-width="4.2"/>
<rect x="1750.1" y="1834.3" width="97.8" height="98.6" fill="#fff" stroke="#cccccc" stroke-width="4.2"/>
<rect x="1748.0" y="1142.3" width="98" height="98.6" fill="#7f7f7f" fill-opacity="0.4"/>
<rect x="1756.0" y="1185.3" width="77" height="21" fill="#404040"/>
<rect x="1791.0" y="1180.8" width="13" height="30" fill="#404040"/>
<text x="1860.0" y="1218.8" font-size="58" text-anchor="start" font-weight="normal" textLength="364.0" lengthAdjust="spacingAndGlyphs">Aedes_aegypti</text>
<rect x="1748.0" y="1240.9" width="98" height="98.6" fill="#a0522d" fill-opacity="0.4"/>
<rect x="1756.0" y="1283.4" width="77" height="21" fill="#9b5a25"/>
<rect x="1791.0" y="1278.9" width="13" height="30" fill="#9b5a25"/>
<text x="1860.0" y="1316.9" font-size="58" text-anchor="start" font-weight="normal" textLength="435.0" lengthAdjust="spacingAndGlyphs">Aedes_albopictus</text>
<rect x="1748.0" y="1339.4" width="98" height="98.6" fill="#007f2a" fill-opacity="0.47"/>
<rect x="1756.0" y="1381.5" width="77" height="21" fill="#006400"/>
<rect x="1791.0" y="1377.0" width="13" height="30" fill="#006400"/>
<text x="1860.0" y="1415.0" font-size="58" text-anchor="start" font-weight="normal" textLength="541.6" lengthAdjust="spacingAndGlyphs">Chlorocebus_aethiops</text>
<rect x="1748.0" y="1438.0" width="98" height="98.6" fill="#8b8b83" fill-opacity="0.4"/>
<rect x="1756.0" y="1479.6" width="77" height="21" fill="#8b8b83"/>
<rect x="1791.0" y="1475.1" width="13" height="30" fill="#8b8b83"/>
<text x="1860.0" y="1513.1" font-size="58" text-anchor="start" font-weight="normal" textLength="340.0" lengthAdjust="spacingAndGlyphs">Culex_pipiens</text>
<rect x="1748.0" y="1536.5" width="98" height="98.6" fill="#0000ff" fill-opacity="0.4"/>
<rect x="1756.0" y="1577.7" width="77" height="21" fill="#0000ff"/>
<rect x="1791.0" y="1573.2" width="13" height="30" fill="#0000ff"/>
<text x="1860.0" y="1611.2" font-size="58" text-anchor="start" font-weight="normal" textLength="491.0" lengthAdjust="spacingAndGlyphs">Erythrocebus_patas</text>
<rect x="1748.0" y="1635.1" width="98" height="98.6" fill="#ff9d00" fill-opacity="0.4"/>
<rect x="1756.0" y="1675.8" width="77" height="21" fill="#ff9900"/>
<rect x="1791.0" y="1671.3" width="13" height="30" fill="#ff9900"/>
<text x="1860.0" y="1709.3" font-size="58" text-anchor="start" font-weight="normal" textLength="324.0" lengthAdjust="spacingAndGlyphs">Human-HKgs</text>
<rect x="1748.0" y="1733.7" width="98" height="98.6" fill="#ff0000" fill-opacity="0.4"/>
<rect x="1756.0" y="1773.9" width="77" height="21" fill="#ff0000"/>
<rect x="1791.0" y="1769.4" width="13" height="30" fill="#ff0000"/>
<text x="1860.0" y="1807.4" font-size="58" text-anchor="start" font-weight="normal" textLength="562.0" lengthAdjust="spacingAndGlyphs">Human_antiviral_genes</text>
<rect x="1748.0" y="1832.2" width="98" height="98.6" fill="#b0119d" fill-opacity="0.4"/>
<rect x="1756.0" y="1872.0" width="77" height="21" fill="#a0008c"/>
<rect x="1791.0" y="1867.5" width="13" height="30" fill="#a0008c"/>
<text x="1860.0" y="1905.5" font-size="58" text-anchor="start" font-weight="normal" textLength="408.0" lengthAdjust="spacingAndGlyphs">Macaca_mulatta</text>
<rect x="487.6" y="2646.8" width="1206.9" height="2007.1999999999998" fill="#fff"/>
<line x1="692.4" x2="692.4" y1="2646.8" y2="4654.0" stroke="#fafafa" stroke-width="4"/>
<line x1="990.9" x2="990.9" y1="2646.8" y2="4654.0" stroke="#fafafa" stroke-width="4"/>
<line x1="1287.3" x2="1287.3" y1="2646.8" y2="4654.0" stroke="#fafafa" stroke-width="4"/>
<line x1="1582.7" x2="1582.7" y1="2646.8" y2="4654.0" stroke="#fafafa" stroke-width="4"/>
<line x1="487.6" x2="1694.5" y1="2889.2" y2="2889.2" stroke="#fafafa" stroke-width="4"/>
<line x1="487.6" x2="1694.5" y1="3259.8" y2="3259.8" stroke="#fafafa" stroke-width="4"/>
<line x1="487.6" x2="1694.5" y1="3632.5" y2="3632.5" stroke="#fafafa" stroke-width="4"/>
<line x1="487.6" x2="1694.5" y1="4005.2" y2="4005.2" stroke="#fafafa" stroke-width="4"/>
<line x1="487.6" x2="1694.5" y1="4375.7" y2="4375.7" stroke="#fafafa" stroke-width="4"/>
<line x1="542.7" x2="542.7" y1="2646.8" y2="4654.0" stroke="#bdbdbd" stroke-width="4.2"/>
<line x1="842.0" x2="842.0" y1="2646.8" y2="4654.0" stroke="#bdbdbd" stroke-width="4.2"/>
<line x1="1139.7" x2="1139.7" y1="2646.8" y2="4654.0" stroke="#bdbdbd" stroke-width="4.2"/>
<line x1="1435.0" x2="1435.0" y1="2646.8" y2="4654.0" stroke="#bdbdbd" stroke-width="4.2"/>
<line x1="487.6" x2="1694.5" y1="2703.8" y2="2703.8" stroke="#bdbdbd" stroke-width="4.2"/>
<line x1="487.6" x2="1694.5" y1="3074.6" y2="3074.6" stroke="#bdbdbd" stroke-width="4.2"/>
<line x1="487.6" x2="1694.5" y1="3445.1" y2="3445.1" stroke="#bdbdbd" stroke-width="4.2"/>
<line x1="487.6" x2="1694.5" y1="3819.9" y2="3819.9" stroke="#bdbdbd" stroke-width="4.2"/>
<line x1="487.6" x2="1694.5" y1="4190.6" y2="4190.6" stroke="#bdbdbd" stroke-width="4.2"/>
<line x1="487.6" x2="1694.5" y1="4560.8" y2="4560.8" stroke="#bdbdbd" stroke-width="4.2"/>
<line x1="486.1" x2="1694.5" y1="4188.5" y2="4188.5" stroke="#000" stroke-width="8.3" stroke-dasharray="34 34"/>
<circle cx="803.1" cy="4178.6" r="15" fill="#404040"/>
<circle cx="803.1" cy="4344.8" r="15" fill="#9b5a25"/>
<circle cx="803.1" cy="4423.4" r="15" fill="#8b8b83"/>
<circle cx="803.1" cy="3662.6" r="15" fill="#006400"/>
<circle cx="803.1" cy="3790.4" r="15" fill="#0000ff"/>
<circle cx="803.1" cy="3733.8" r="15" fill="#ff9900"/>
<circle cx="803.1" cy="3803.2" r="15" fill="#ff0000"/>
<circle cx="803.1" cy="3847.0" r="15" fill="#a0008c"/>
<circle cx="803.1" cy="4445.3" r="15" fill="#8b8b83"/>
<circle cx="981.7" cy="3691.7" r="15" fill="#ff9900"/>
<circle cx="1028.0" cy="3848.0" r="15" fill="#ff9900"/>
<circle cx="1054.7" cy="3716.0" r="15" fill="#ff9900"/>
<circle cx="1246.4" cy="3713.0" r="15" fill="#ff9900"/>
<circle cx="1398.8" cy="3751.8" r="15" fill="#ff9900"/>
<circle cx="1028.0" cy="3879.0" r="15" fill="#0000ff"/>
<circle cx="1028.0" cy="3915.0" r="15" fill="#0000ff"/>
<circle cx="1054.7" cy="3786.0" r="15" fill="#0000ff"/>
<circle cx="1147.7" cy="3762.5" r="15" fill="#0000ff"/>
<circle cx="1246.4" cy="3762.0" r="15" fill="#0000ff"/>
<circle cx="1398.8" cy="3907.7" r="15" fill="#0000ff"/>
<circle cx="981.7" cy="3750.0" r="15" fill="#ff0000"/>
<circle cx="1028.0" cy="3890.0" r="15" fill="#ff0000"/>
<circle cx="1028.0" cy="3908.0" r="15" fill="#ff0000"/>
<circle cx="1147.7" cy="3691.7" r="15" fill="#ff0000"/>
<circle cx="1246.4" cy="3732.5" r="15" fill="#ff0000"/>
<circle cx="1246.4" cy="3750.0" r="15" fill="#ff0000"/>
<circle cx="1398.8" cy="3809.7" r="15" fill="#ff0000"/>
<circle cx="981.7" cy="3801.9" r="15" fill="#a0008c"/>
<circle cx="1054.7" cy="3804.0" r="15" fill="#a0008c"/>
<circle cx="1147.7" cy="3800.0" r="15" fill="#a0008c"/>
<circle cx="1246.4" cy="3777.0" r="15" fill="#a0008c"/>
<circle cx="1246.4" cy="3800.0" r="15" fill="#a0008c"/>
<circle cx="1398.8" cy="3886.0" r="15" fill="#a0008c"/>
<circle cx="1592.8" cy="3736.3" r="15" fill="#006400"/>
<circle cx="1590.6" cy="3762.0" r="15" fill="#0000ff"/>
<circle cx="1590.6" cy="3788.0" r="15" fill="#0000ff"/>
<circle cx="1624.8" cy="3788.0" r="15" fill="#0000ff"/>
<circle cx="1553.0" cy="3879.0" r="15" fill="#0000ff"/>
<circle cx="1574.6" cy="3861.0" r="15" fill="#0000ff"/>
<circle cx="1575.0" cy="3838.0" r="15" fill="#ff9900"/>
<circle cx="1554.8" cy="3891.6" r="15" fill="#ff0000"/>
<circle cx="1576.0" cy="3888.5" r="15" fill="#ff0000"/>
<circle cx="1574.6" cy="3913.0" r="15" fill="#ff0000"/>
<circle cx="1591.0" cy="3867.0" r="15" fill="#a0008c"/>
<circle cx="1551.8" cy="3952.5" r="15" fill="#a0008c"/>
<circle cx="1579.0" cy="3955.5" r="15" fill="#a0008c"/>
<path d="M803.0,4178.6 L809.9,4176.7 L816.8,4174.8 L823.7,4172.9 L830.7,4171.1 L837.6,4169.3 L844.5,4167.5 L851.4,4165.8 L858.3,4164.2 L865.2,4162.6 L872.2,4161.0 L879.1,4159.5 L886.0,4158.1 L892.9,4156.8 L899.8,4155.6 L906.7,4154.4 L913.7,4153.3 L920.6,4152.4 L927.5,4151.5 L934.4,4150.7 L941.3,4150.1 L948.2,4149.5 L955.2,4148.9 L962.1,4148.4 L969.0,4147.8 L975.9,4147.3 L982.8,4146.8 L989.7,4146.3 L996.6,4145.9 L1003.6,4145.5 L1010.5,4145.1 L1017.4,4144.7 L1024.3,4144.3 L1031.2,4144.0 L1038.1,4143.6 L1045.1,4143.3 L1052.0,4143.1 L1058.9,4142.8 L1065.8,4142.6 L1072.7,4142.4 L1079.6,4142.2 L1086.6,4142.1 L1093.5,4141.9 L1100.4,4141.8 L1107.3,4141.7 L1114.2,4141.6 L1121.1,4141.5 L1128.1,4141.4 L1135.0,4141.3 L1141.9,4141.2 L1148.8,4141.1 L1155.7,4141.1 L1162.6,4141.0 L1169.5,4141.0 L1176.5,4141.0 L1183.4,4141.0 L1190.3,4141.0 L1197.2,4141.1 L1204.1,4141.1 L1211.0,4141.2 L1218.0,4141.3 L1224.9,4141.4 L1231.8,4141.5 L1238.7,4141.6 L1245.6,4141.7 L1252.5,4141.8 L1259.5,4142.0 L1266.4,4142.2 L1273.3,4142.7 L1280.2,4143.3 L1287.1,4144.1 L1294.0,4144.9 L1300.9,4145.8 L1307.9,4146.6 L1314.8,4147.5 L1321.7,4148.3 L1328.6,4149.3 L1335.5,4150.3 L1342.4,4151.4 L1349.4,4152.5 L1356.3,4153.6 L1363.2,4154.6 L1370.1,4155.6 L1377.0,4156.6 L1383.9,4157.5 L1390.9,4158.4 L1397.8,4159.3 L1404.7,4160.2 L1411.6,4161.1 L1418.5,4161.9 L1425.4,4162.7 L1432.4,4163.5 L1439.3,4164.2 L1446.2,4164.8 L1453.1,4165.5 L1460.0,4166.1 L1466.9,4166.8 L1473.8,4167.4 L1480.8,4168.1 L1487.7,4168.7 L1494.6,4169.3 L1501.5,4169.9 L1508.4,4170.4 L1515.3,4170.9 L1522.3,4171.3 L1529.2,4171.6 L1536.1,4171.8 L1543.0,4172.0 L1549.9,4172.0 L1556.8,4172.0 L1563.8,4172.0 L1570.7,4171.9 L1577.6,4171.8 L1584.5,4171.7 L1591.4,4171.6 L1598.3,4171.4 L1605.3,4171.1 L1612.2,4170.8 L1619.1,4170.4 L1626.0,4170.0 L1626.0,4180.0 L1619.1,4180.9 L1612.2,4181.8 L1605.3,4182.6 L1598.3,4183.4 L1591.4,4184.2 L1584.5,4185.0 L1577.6,4185.7 L1570.7,4186.3 L1563.8,4186.9 L1556.8,4187.4 L1549.9,4187.9 L1543.0,4188.3 L1536.1,4188.7 L1529.2,4189.0 L1522.3,4189.4 L1515.3,4189.7 L1508.4,4190.0 L1501.5,4190.3 L1494.6,4190.6 L1487.7,4190.9 L1480.8,4191.1 L1473.8,4191.3 L1466.9,4191.5 L1460.0,4191.7 L1453.1,4191.9 L1446.2,4192.0 L1439.3,4192.2 L1432.4,4192.3 L1425.4,4192.5 L1418.5,4192.6 L1411.6,4192.7 L1404.7,4192.8 L1397.8,4192.9 L1390.9,4193.0 L1383.9,4193.0 L1377.0,4193.0 L1370.1,4192.9 L1363.2,4192.8 L1356.3,4192.7 L1349.4,4192.5 L1342.4,4192.2 L1335.5,4192.0 L1328.6,4191.7 L1321.7,4191.4 L1314.8,4191.1 L1307.9,4190.9 L1300.9,4190.6 L1294.0,4190.3 L1287.1,4190.0 L1280.2,4189.7 L1273.3,4189.3 L1266.4,4188.9 L1259.5,4188.4 L1252.5,4187.9 L1245.6,4187.3 L1238.7,4186.6 L1231.8,4185.6 L1224.9,4184.2 L1218.0,4182.6 L1211.0,4180.8 L1204.1,4178.9 L1197.2,4177.0 L1190.3,4175.3 L1183.4,4173.7 L1176.5,4172.4 L1169.5,4171.4 L1162.6,4170.4 L1155.7,4169.5 L1148.8,4168.7 L1141.9,4167.9 L1135.0,4167.1 L1128.1,4166.4 L1121.1,4165.7 L1114.2,4165.1 L1107.3,4164.4 L1100.4,4163.8 L1093.5,4163.3 L1086.6,4162.7 L1079.6,4162.2 L1072.7,4161.6 L1065.8,4161.0 L1058.9,4160.4 L1052.0,4159.9 L1045.1,4159.3 L1038.1,4158.7 L1031.2,4158.2 L1024.3,4157.6 L1017.4,4157.1 L1010.5,4156.6 L1003.6,4156.2 L996.6,4155.8 L989.7,4155.4 L982.8,4155.0 L975.9,4154.7 L969.0,4154.5 L962.1,4154.3 L955.2,4154.1 L948.2,4154.0 L941.3,4154.0 L934.4,4154.1 L927.5,4154.4 L920.6,4154.8 L913.7,4155.3 L906.7,4156.0 L899.8,4156.8 L892.9,4157.8 L886.0,4158.8 L879.1,4160.0 L872.2,4161.3 L865.2,4162.7 L858.3,4164.2 L851.4,4165.7 L844.5,4167.4 L837.6,4169.1 L830.7,4170.9 L823.7,4172.7 L816.8,4174.6 L809.9,4176.6 L803.0,4178.6Z" fill="#7f7f7f" fill-opacity="0.4"/>
<path d="M803.0,4178.6 L808.1,4176.9 L813.2,4175.2 L818.3,4173.6 L823.4,4172.1 L828.4,4170.6 L833.5,4169.3 L838.7,4167.9 L843.8,4166.7 L848.9,4165.5 L854.0,4164.4 L859.1,4163.3 L864.2,4162.3 L869.3,4161.4 L874.4,4160.5 L879.6,4159.6 L884.7,4158.8 L889.8,4158.1 L894.9,4157.4 L900.1,4156.7 L905.2,4156.1 L910.3,4155.6 L915.4,4155.0 L920.6,4154.5 L925.7,4154.1 L930.9,4153.7 L936.0,4153.3 L941.1,4152.9 L946.3,4152.6 L951.4,4152.3 L956.6,4152.0 L961.7,4151.8 L966.9,4151.5 L972.0,4151.3 L977.2,4151.2 L982.3,4151.0 L987.5,4150.9 L992.7,4150.8 L997.8,4150.6 L1003.0,4150.6 L1008.1,4150.5 L1013.3,4150.4 L1018.5,4150.3 L1023.6,4150.3 L1028.8,4150.3 L1034.0,4150.2 L1039.2,4150.2 L1044.3,4150.2 L1049.5,4150.2 L1054.7,4150.3 L1059.9,4150.3 L1065.0,4150.3 L1070.2,4150.4 L1075.4,4150.5 L1080.6,4150.5 L1085.8,4150.6 L1090.9,4150.7 L1096.1,4150.8 L1101.3,4151.0 L1106.5,4151.1 L1111.7,4151.3 L1116.9,4151.4 L1122.1,4151.6 L1127.3,4151.8 L1132.4,4152.0 L1137.6,4152.2 L1142.8,4152.4 L1148.0,4152.6 L1153.2,4152.9 L1158.4,4153.2 L1163.6,4153.4 L1168.8,4153.7 L1174.0,4154.0 L1179.2,4154.3 L1184.4,4154.6 L1189.6,4155.0 L1194.8,4155.3 L1200.0,4155.7 L1205.2,4156.0 L1210.4,4156.4 L1215.6,4156.8 L1220.8,4157.2 L1226.0,4157.6 L1231.2,4158.1 L1236.4,4158.5 L1241.6,4159.0 L1246.8,4159.4 L1252.0,4159.9 L1257.2,4160.4 L1262.4,4160.9 L1267.6,4161.4 L1272.8,4161.9 L1278.1,4162.4 L1283.3,4162.9 L1288.5,4163.4 L1293.7,4163.9 L1298.9,4164.4 L1304.1,4164.9 L1309.3,4165.5 L1314.5,4166.0 L1319.7,4166.5 L1324.9,4167.0 L1330.1,4167.6 L1335.3,4168.1 L1340.5,4168.6 L1345.7,4169.1 L1350.9,4169.6 L1356.1,4170.1 L1361.4,4170.7 L1366.6,4171.1 L1371.8,4171.6 L1377.0,4172.1 L1382.2,4172.6 L1387.4,4173.1 L1392.6,4173.5 L1397.8,4174.0 L1403.0,4174.4 L1408.2,4174.9 L1413.4,4175.3 L1418.6,4175.7 L1423.8,4176.1 L1429.0,4176.5 L1434.2,4176.8 L1439.4,4177.2 L1444.6,4177.5 L1449.8,4177.9 L1455.0,4178.2 L1460.2,4178.5 L1465.4,4178.7 L1470.6,4179.0 L1475.8,4179.2 L1481.0,4179.5 L1486.2,4179.7 L1491.4,4179.8 L1496.5,4180.0 L1501.7,4180.1 L1506.9,4180.2 L1512.1,4180.3 L1517.3,4180.4 L1522.5,4180.4 L1527.7,4180.4 L1532.9,4180.4 L1538.0,4180.4 L1543.2,4180.3 L1548.4,4180.2 L1553.6,4180.1 L1558.8,4179.9 L1563.9,4179.7 L1569.1,4179.5 L1574.3,4179.3 L1579.5,4179.0 L1584.6,4178.7 L1589.8,4178.4 L1595.0,4178.0 L1600.2,4177.6 L1605.3,4177.1 L1610.5,4176.7 L1615.7,4176.1 L1620.8,4175.6 L1626.0,4175.0" fill="none" stroke="#404040" stroke-width="22.5" stroke-linejoin="round"/>
<path d="M803.0,4344.8 L809.9,4343.6 L816.7,4342.3 L823.6,4341.0 L830.5,4339.7 L837.3,4338.5 L844.2,4337.1 L851.1,4335.8 L857.9,4334.5 L864.8,4333.1 L871.7,4331.8 L878.5,4330.4 L885.4,4329.0 L892.3,4327.6 L899.1,4326.2 L906.0,4324.7 L912.8,4323.2 L919.7,4321.7 L926.6,4320.1 L933.4,4318.5 L940.3,4316.9 L947.2,4315.2 L954.0,4313.5 L960.9,4311.9 L967.8,4310.2 L974.6,4308.5 L981.5,4306.9 L988.4,4305.3 L995.2,4303.7 L1002.1,4302.1 L1009.0,4300.6 L1015.8,4299.1 L1022.7,4297.7 L1029.6,4296.4 L1036.4,4295.1 L1043.3,4293.9 L1050.2,4292.6 L1057.0,4291.4 L1063.9,4290.1 L1070.8,4288.8 L1077.6,4287.6 L1084.5,4286.3 L1091.4,4285.1 L1098.2,4284.0 L1105.1,4282.8 L1111.9,4281.7 L1118.8,4280.7 L1125.7,4279.7 L1132.5,4278.7 L1139.4,4277.8 L1146.3,4277.0 L1153.1,4276.3 L1160.0,4275.7 L1166.9,4275.2 L1173.7,4274.7 L1180.6,4274.3 L1187.5,4274.0 L1194.3,4273.6 L1201.2,4273.2 L1208.1,4272.9 L1214.9,4272.6 L1221.8,4272.3 L1228.7,4272.0 L1235.5,4271.8 L1242.4,4271.5 L1249.3,4271.4 L1256.1,4271.2 L1263.0,4271.1 L1269.9,4271.0 L1276.7,4271.0 L1283.6,4271.1 L1290.5,4271.5 L1297.3,4272.0 L1304.2,4272.8 L1311.1,4273.7 L1317.9,4274.8 L1324.8,4276.0 L1331.6,4277.3 L1338.5,4278.7 L1345.4,4280.2 L1352.2,4281.8 L1359.1,4283.4 L1366.0,4285.0 L1372.8,4286.6 L1379.7,4288.2 L1386.6,4289.9 L1393.4,4291.8 L1400.3,4293.8 L1407.2,4296.1 L1414.0,4298.5 L1420.9,4301.0 L1427.8,4303.6 L1434.6,4306.3 L1441.5,4309.1 L1448.4,4311.9 L1455.2,4314.8 L1462.1,4317.7 L1469.0,4320.6 L1475.8,4323.4 L1482.7,4326.3 L1489.6,4329.3 L1496.4,4332.5 L1503.3,4335.8 L1510.2,4339.3 L1517.0,4342.9 L1523.9,4346.5 L1530.7,4350.1 L1537.6,4353.6 L1544.5,4357.0 L1551.3,4360.3 L1558.2,4363.3 L1565.1,4366.1 L1571.9,4368.6 L1578.8,4370.7 L1585.7,4372.7 L1592.5,4374.4 L1599.4,4376.1 L1606.3,4377.5 L1613.1,4378.9 L1620.0,4380.0 L1620.0,4390.0 L1613.1,4390.5 L1606.3,4391.1 L1599.4,4391.8 L1592.5,4392.6 L1585.7,4393.5 L1578.8,4394.4 L1571.9,4395.5 L1565.1,4397.0 L1558.2,4398.8 L1551.3,4400.6 L1544.5,4402.5 L1537.6,4404.3 L1530.7,4405.9 L1523.9,4407.1 L1517.0,4407.9 L1510.2,4408.4 L1503.3,4408.8 L1496.4,4409.2 L1489.6,4409.5 L1482.7,4409.9 L1475.8,4410.2 L1469.0,4410.5 L1462.1,4410.7 L1455.2,4411.0 L1448.4,4411.1 L1441.5,4411.3 L1434.6,4411.4 L1427.8,4411.5 L1420.9,4411.6 L1414.0,4411.6 L1407.2,4411.5 L1400.3,4411.3 L1393.4,4410.9 L1386.6,4410.5 L1379.7,4409.9 L1372.8,4409.2 L1366.0,4408.4 L1359.1,4407.6 L1352.2,4406.7 L1345.4,4405.8 L1338.5,4404.8 L1331.6,4403.9 L1324.8,4402.9 L1317.9,4401.9 L1311.1,4401.0 L1304.2,4400.0 L1297.3,4399.0 L1290.5,4397.8 L1283.6,4396.6 L1276.7,4395.3 L1269.9,4394.0 L1263.0,4392.6 L1256.1,4391.1 L1249.3,4389.6 L1242.4,4388.1 L1235.5,4386.6 L1228.7,4385.1 L1221.8,4383.6 L1214.9,4382.1 L1208.1,4380.6 L1201.2,4379.2 L1194.3,4377.8 L1187.5,4376.5 L1180.6,4375.2 L1173.7,4374.0 L1166.9,4372.8 L1160.0,4371.6 L1153.1,4370.4 L1146.3,4369.2 L1139.4,4368.0 L1132.5,4366.8 L1125.7,4365.6 L1118.8,4364.4 L1111.9,4363.3 L1105.1,4362.2 L1098.2,4361.1 L1091.4,4360.0 L1084.5,4359.0 L1077.6,4358.0 L1070.8,4357.0 L1063.9,4356.1 L1057.0,4355.2 L1050.2,4354.4 L1043.3,4353.6 L1036.4,4352.9 L1029.6,4352.3 L1022.7,4351.6 L1015.8,4350.9 L1009.0,4350.2 L1002.1,4349.5 L995.2,4348.8 L988.4,4348.1 L981.5,4347.5 L974.6,4346.8 L967.8,4346.2 L960.9,4345.7 L954.0,4345.2 L947.2,4344.7 L940.3,4344.3 L933.4,4343.9 L926.6,4343.6 L919.7,4343.3 L912.8,4343.1 L906.0,4343.0 L899.1,4343.0 L892.3,4343.0 L885.4,4343.0 L878.5,4343.0 L871.7,4343.0 L864.8,4343.1 L857.9,4343.1 L851.1,4343.2 L844.2,4343.3 L837.3,4343.5 L830.5,4343.7 L823.6,4343.9 L816.7,4344.1 L809.9,4344.4 L803.0,4344.8Z" fill="#a0522d" fill-opacity="0.4"/>
<path d="M803.0,4344.8 L808.2,4344.3 L813.3,4343.8 L818.5,4343.3 L823.7,4342.9 L828.9,4342.4 L834.0,4341.9 L839.2,4341.4 L844.4,4340.9 L849.5,4340.4 L854.7,4339.9 L859.9,4339.4 L865.0,4338.9 L870.2,4338.4 L875.4,4337.9 L880.5,4337.4 L885.7,4336.9 L890.9,4336.5 L896.0,4336.0 L901.2,4335.5 L906.4,4335.0 L911.5,4334.6 L916.7,4334.1 L921.9,4333.7 L927.0,4333.2 L932.2,4332.8 L937.4,4332.3 L942.5,4331.9 L947.7,4331.5 L952.9,4331.0 L958.0,4330.6 L963.2,4330.2 L968.3,4329.8 L973.5,4329.4 L978.7,4329.1 L983.8,4328.7 L989.0,4328.3 L994.1,4328.0 L999.3,4327.7 L1004.5,4327.3 L1009.6,4327.0 L1014.8,4326.7 L1019.9,4326.4 L1025.1,4326.2 L1030.2,4325.9 L1035.4,4325.6 L1040.6,4325.4 L1045.7,4325.2 L1050.9,4325.0 L1056.0,4324.8 L1061.2,4324.6 L1066.3,4324.4 L1071.5,4324.3 L1076.6,4324.2 L1081.8,4324.0 L1086.9,4323.9 L1092.1,4323.9 L1097.2,4323.8 L1102.4,4323.8 L1107.5,4323.7 L1112.7,4323.7 L1117.8,4323.7 L1123.0,4323.8 L1128.1,4323.8 L1133.3,4323.9 L1138.4,4324.0 L1143.6,4324.1 L1148.7,4324.2 L1153.9,4324.4 L1159.0,4324.6 L1164.2,4324.8 L1169.3,4325.0 L1174.5,4325.2 L1179.6,4325.5 L1184.7,4325.8 L1189.9,4326.1 L1195.0,4326.4 L1200.2,4326.8 L1205.3,4327.2 L1210.5,4327.6 L1215.6,4328.1 L1220.7,4328.5 L1225.9,4329.0 L1231.0,4329.6 L1236.1,4330.1 L1241.3,4330.7 L1246.4,4331.3 L1251.6,4331.9 L1256.7,4332.5 L1261.8,4333.2 L1267.0,4333.9 L1272.1,4334.6 L1277.2,4335.3 L1282.4,4336.0 L1287.5,4336.8 L1292.6,4337.6 L1297.8,4338.4 L1302.9,4339.2 L1308.0,4340.0 L1313.2,4340.8 L1318.3,4341.7 L1323.4,4342.5 L1328.6,4343.4 L1333.7,4344.3 L1338.8,4345.2 L1343.9,4346.1 L1349.1,4347.1 L1354.2,4348.0 L1359.3,4348.9 L1364.4,4349.9 L1369.6,4350.9 L1374.7,4351.8 L1379.8,4352.8 L1384.9,4353.8 L1390.1,4354.8 L1395.2,4355.8 L1400.3,4356.8 L1405.4,4357.8 L1410.6,4358.8 L1415.7,4359.8 L1420.8,4360.8 L1425.9,4361.8 L1431.0,4362.8 L1436.1,4363.8 L1441.3,4364.8 L1446.4,4365.8 L1451.5,4366.8 L1456.6,4367.8 L1461.7,4368.8 L1466.8,4369.8 L1472.0,4370.7 L1477.1,4371.6 L1482.2,4372.6 L1487.3,4373.5 L1492.4,4374.3 L1497.5,4375.2 L1502.6,4376.0 L1507.7,4376.8 L1512.8,4377.6 L1518.0,4378.4 L1523.1,4379.1 L1528.2,4379.8 L1533.3,4380.4 L1538.4,4381.1 L1543.5,4381.6 L1548.6,4382.2 L1553.7,4382.7 L1558.8,4383.2 L1563.9,4383.6 L1569.0,4384.0 L1574.1,4384.3 L1579.2,4384.6 L1584.3,4384.9 L1589.4,4385.0 L1594.5,4385.2 L1599.6,4385.3 L1604.7,4385.3 L1609.8,4385.3 L1614.9,4385.2 L1620.0,4385.0" fill="none" stroke="#9b5a25" stroke-width="22.5" stroke-linejoin="round"/>
<path d="M803.0,3662.6 L810.0,3659.8 L817.1,3658.0 L824.1,3658.1 L831.1,3658.5 L838.2,3659.1 L845.2,3659.9 L852.2,3660.8 L859.3,3661.8 L866.3,3662.9 L873.3,3664.1 L880.4,3665.2 L887.4,3666.3 L894.4,3667.3 L901.5,3668.2 L908.5,3669.1 L915.5,3670.1 L922.6,3671.1 L929.6,3672.2 L936.6,3673.3 L943.7,3674.2 L950.7,3675.1 L957.7,3675.9 L964.8,3676.5 L971.8,3676.9 L978.8,3677.0 L985.9,3677.0 L992.9,3676.9 L999.9,3676.8 L1007.0,3676.6 L1014.0,3676.4 L1021.0,3676.2 L1028.1,3675.9 L1035.1,3675.7 L1042.1,3675.4 L1049.2,3675.0 L1056.2,3674.7 L1063.2,3674.4 L1070.3,3674.0 L1077.3,3673.7 L1084.3,3673.3 L1091.4,3673.0 L1098.4,3672.7 L1105.4,3672.4 L1112.5,3672.1 L1119.5,3671.9 L1126.5,3671.7 L1133.6,3671.4 L1140.6,3671.2 L1147.6,3670.9 L1154.7,3670.7 L1161.7,3670.5 L1168.7,3670.2 L1175.8,3670.0 L1182.8,3669.7 L1189.8,3669.5 L1196.9,3669.3 L1203.9,3669.2 L1210.9,3669.0 L1218.0,3668.9 L1225.0,3668.8 L1232.1,3668.8 L1239.1,3668.8 L1246.1,3668.8 L1253.2,3668.9 L1260.2,3668.9 L1267.2,3669.0 L1274.3,3669.1 L1281.3,3669.2 L1288.3,3669.4 L1295.4,3669.5 L1302.4,3669.7 L1309.4,3669.9 L1316.5,3670.1 L1323.5,3670.5 L1330.5,3671.0 L1337.6,3671.7 L1344.6,3672.5 L1351.6,3673.5 L1358.7,3674.5 L1365.7,3675.7 L1372.7,3676.9 L1379.8,3678.1 L1386.8,3679.5 L1393.8,3680.8 L1400.9,3682.2 L1407.9,3683.8 L1414.9,3685.6 L1422.0,3687.6 L1429.0,3689.9 L1436.0,3692.4 L1443.1,3695.0 L1450.1,3697.8 L1457.1,3700.6 L1464.2,3703.4 L1471.2,3706.2 L1478.2,3709.0 L1485.3,3711.9 L1492.3,3715.0 L1499.3,3718.2 L1506.4,3721.4 L1513.4,3724.7 L1520.4,3728.1 L1527.5,3731.4 L1534.5,3734.7 L1541.5,3737.8 L1548.6,3740.9 L1555.6,3743.9 L1562.6,3746.8 L1569.7,3749.7 L1576.7,3752.5 L1583.7,3755.2 L1590.8,3757.9 L1597.8,3760.5 L1604.8,3763.0 L1611.9,3765.5 L1618.9,3768.0 L1625.9,3770.4 L1633.0,3772.7 L1640.0,3775.0 L1640.0,3789.0 L1633.0,3790.0 L1625.9,3791.2 L1618.9,3792.5 L1611.9,3793.9 L1604.8,3795.4 L1597.8,3796.9 L1590.8,3798.6 L1583.7,3800.3 L1576.7,3802.4 L1569.7,3804.9 L1562.6,3807.6 L1555.6,3810.3 L1548.6,3812.9 L1541.5,3815.2 L1534.5,3817.0 L1527.5,3818.3 L1520.4,3819.5 L1513.4,3820.6 L1506.4,3821.6 L1499.3,3822.5 L1492.3,3823.2 L1485.3,3823.7 L1478.2,3824.0 L1471.2,3824.0 L1464.2,3824.0 L1457.1,3823.9 L1450.1,3823.8 L1443.1,3823.7 L1436.0,3823.6 L1429.0,3823.4 L1422.0,3823.3 L1414.9,3823.1 L1407.9,3822.9 L1400.9,3822.7 L1393.8,3822.5 L1386.8,3822.2 L1379.8,3822.0 L1372.7,3821.7 L1365.7,3821.5 L1358.7,3821.2 L1351.6,3820.9 L1344.6,3820.5 L1337.6,3820.1 L1330.5,3819.7 L1323.5,3819.2 L1316.5,3818.7 L1309.4,3818.2 L1302.4,3817.6 L1295.4,3817.0 L1288.3,3816.3 L1281.3,3815.7 L1274.3,3815.0 L1267.2,3814.2 L1260.2,3813.5 L1253.2,3812.7 L1246.1,3811.8 L1239.1,3811.0 L1232.1,3810.1 L1225.0,3809.1 L1218.0,3808.0 L1210.9,3806.8 L1203.9,3805.5 L1196.9,3804.1 L1189.8,3802.7 L1182.8,3801.1 L1175.8,3799.4 L1168.7,3797.7 L1161.7,3796.0 L1154.7,3794.2 L1147.6,3792.3 L1140.6,3790.4 L1133.6,3788.5 L1126.5,3786.3 L1119.5,3783.9 L1112.5,3781.4 L1105.4,3778.7 L1098.4,3776.0 L1091.4,3773.2 L1084.3,3770.4 L1077.3,3767.6 L1070.3,3764.8 L1063.2,3762.1 L1056.2,3759.5 L1049.2,3757.0 L1042.1,3754.7 L1035.1,3752.4 L1028.1,3750.1 L1021.0,3747.9 L1014.0,3745.7 L1007.0,3743.4 L999.9,3741.1 L992.9,3738.8 L985.9,3736.3 L978.8,3733.7 L971.8,3731.0 L964.8,3728.2 L957.7,3725.2 L950.7,3722.2 L943.7,3719.1 L936.6,3715.9 L929.6,3712.8 L922.6,3709.7 L915.5,3706.6 L908.5,3703.5 L901.5,3700.6 L894.4,3697.7 L887.4,3694.9 L880.4,3692.1 L873.3,3689.3 L866.3,3686.5 L859.3,3683.8 L852.2,3681.0 L845.2,3678.3 L838.2,3675.7 L831.1,3673.0 L824.1,3670.4 L817.1,3667.7 L810.0,3665.2 L803.0,3662.6Z" fill="#007f2a" fill-opacity="0.47"/>
<path d="M803.0,3662.6 L808.2,3663.5 L813.4,3664.3 L818.5,3665.2 L823.7,3666.2 L828.9,3667.1 L834.1,3668.1 L839.3,3669.1 L844.4,3670.1 L849.6,3671.2 L854.8,3672.3 L860.0,3673.3 L865.2,3674.5 L870.4,3675.6 L875.6,3676.7 L880.8,3677.9 L886.0,3679.0 L891.1,3680.2 L896.3,3681.4 L901.5,3682.6 L906.7,3683.8 L911.9,3685.0 L917.1,3686.3 L922.4,3687.5 L927.6,3688.7 L932.8,3690.0 L938.0,3691.2 L943.2,3692.5 L948.4,3693.7 L953.6,3695.0 L958.8,3696.3 L964.0,3697.5 L969.3,3698.8 L974.5,3700.0 L979.7,3701.3 L984.9,3702.5 L990.1,3703.8 L995.4,3705.0 L1000.6,3706.2 L1005.8,3707.4 L1011.0,3708.6 L1016.3,3709.8 L1021.5,3711.0 L1026.7,3712.2 L1031.9,3713.4 L1037.2,3714.5 L1042.4,3715.7 L1047.6,3716.8 L1052.9,3717.9 L1058.1,3719.0 L1063.4,3720.1 L1068.6,3721.2 L1073.8,3722.2 L1079.1,3723.3 L1084.3,3724.3 L1089.6,3725.3 L1094.8,3726.3 L1100.1,3727.3 L1105.3,3728.2 L1110.6,3729.2 L1115.8,3730.1 L1121.1,3731.0 L1126.3,3731.9 L1131.6,3732.7 L1136.8,3733.6 L1142.1,3734.4 L1147.3,3735.2 L1152.6,3736.0 L1157.9,3736.8 L1163.1,3737.6 L1168.4,3738.3 L1173.6,3739.1 L1178.9,3739.8 L1184.2,3740.5 L1189.4,3741.2 L1194.7,3741.9 L1200.0,3742.6 L1205.2,3743.2 L1210.5,3743.9 L1215.8,3744.6 L1221.0,3745.2 L1226.3,3745.8 L1231.6,3746.5 L1236.9,3747.1 L1242.1,3747.7 L1247.4,3748.3 L1252.7,3748.9 L1258.0,3749.5 L1263.2,3750.1 L1268.5,3750.7 L1273.8,3751.2 L1279.1,3751.8 L1284.4,3752.4 L1289.6,3752.9 L1294.9,3753.5 L1300.2,3754.0 L1305.5,3754.5 L1310.8,3755.1 L1316.1,3755.6 L1321.4,3756.1 L1326.7,3756.6 L1331.9,3757.1 L1337.2,3757.6 L1342.5,3758.1 L1347.8,3758.6 L1353.1,3759.1 L1358.4,3759.6 L1363.7,3760.0 L1369.0,3760.5 L1374.3,3761.0 L1379.6,3761.4 L1384.9,3761.9 L1390.2,3762.4 L1395.5,3762.8 L1400.8,3763.3 L1406.1,3763.7 L1411.4,3764.2 L1416.7,3764.6 L1422.0,3765.0 L1427.3,3765.5 L1432.6,3765.9 L1437.9,3766.3 L1443.2,3766.7 L1448.5,3767.2 L1453.8,3767.6 L1459.1,3768.0 L1464.5,3768.4 L1469.8,3768.8 L1475.1,3769.3 L1480.4,3769.7 L1485.7,3770.1 L1491.0,3770.5 L1496.3,3770.9 L1501.6,3771.3 L1507.0,3771.7 L1512.3,3772.1 L1517.6,3772.5 L1522.9,3772.9 L1528.2,3773.3 L1533.5,3773.7 L1538.9,3774.1 L1544.2,3774.5 L1549.5,3775.0 L1554.8,3775.4 L1560.1,3775.8 L1565.5,3776.2 L1570.8,3776.6 L1576.1,3777.0 L1581.4,3777.4 L1586.7,3777.8 L1592.1,3778.2 L1597.4,3778.6 L1602.7,3779.0 L1608.0,3779.5 L1613.4,3779.9 L1618.7,3780.3 L1624.0,3780.7 L1629.3,3781.1 L1634.7,3781.6 L1640.0,3782.0" fill="none" stroke="#006400" stroke-width="22.5" stroke-linejoin="round"/>
<path d="M803.0,4423.4 L809.9,4421.6 L816.7,4419.8 L823.6,4418.0 L830.5,4416.3 L837.3,4414.6 L844.2,4412.9 L851.1,4411.3 L857.9,4409.7 L864.8,4408.1 L871.7,4406.6 L878.5,4405.2 L885.4,4403.8 L892.3,4402.4 L899.1,4401.2 L906.0,4399.9 L912.8,4398.7 L919.7,4397.4 L926.6,4396.2 L933.4,4395.0 L940.3,4393.8 L947.2,4392.6 L954.0,4391.5 L960.9,4390.4 L967.8,4389.3 L974.6,4388.3 L981.5,4387.2 L988.4,4386.3 L995.2,4385.4 L1002.1,4384.5 L1009.0,4383.7 L1015.8,4382.9 L1022.7,4382.2 L1029.6,4381.6 L1036.4,4381.0 L1043.3,4380.5 L1050.2,4380.0 L1057.0,4379.5 L1063.9,4379.0 L1070.8,4378.5 L1077.6,4378.0 L1084.5,4377.5 L1091.4,4377.1 L1098.2,4376.6 L1105.1,4376.2 L1111.9,4375.8 L1118.8,4375.5 L1125.7,4375.2 L1132.5,4374.9 L1139.4,4374.6 L1146.3,4374.4 L1153.1,4374.2 L1160.0,4374.1 L1166.9,4374.0 L1173.7,4374.0 L1180.6,4374.1 L1187.5,4374.2 L1194.3,4374.5 L1201.2,4374.8 L1208.1,4375.3 L1214.9,4375.8 L1221.8,4376.4 L1228.7,4377.1 L1235.5,4377.8 L1242.4,4378.6 L1249.3,4379.4 L1256.1,4380.2 L1263.0,4381.1 L1269.9,4382.1 L1276.7,4383.0 L1283.6,4383.9 L1290.5,4384.9 L1297.3,4385.8 L1304.2,4386.8 L1311.1,4387.7 L1317.9,4388.7 L1324.8,4389.7 L1331.6,4390.8 L1338.5,4392.0 L1345.4,4393.2 L1352.2,4394.5 L1359.1,4395.9 L1366.0,4397.3 L1372.8,4398.7 L1379.7,4400.2 L1386.6,4401.6 L1393.4,4403.1 L1400.3,4404.7 L1407.2,4406.2 L1414.0,4407.7 L1420.9,4409.2 L1427.8,4410.7 L1434.6,4412.2 L1441.5,4413.6 L1448.4,4415.1 L1455.2,4416.5 L1462.1,4417.8 L1469.0,4419.1 L1475.8,4420.4 L1482.7,4421.7 L1489.6,4423.0 L1496.4,4424.3 L1503.3,4425.6 L1510.2,4426.9 L1517.0,4428.3 L1523.9,4429.7 L1530.7,4431.1 L1537.6,4432.6 L1544.5,4434.1 L1551.3,4435.6 L1558.2,4437.3 L1565.1,4439.0 L1571.9,4440.8 L1578.8,4442.7 L1585.7,4444.8 L1592.5,4447.2 L1599.4,4449.7 L1606.3,4452.4 L1613.1,4455.2 L1620.0,4458.0 L1620.0,4466.0 L1613.1,4465.0 L1606.3,4464.2 L1599.4,4463.7 L1592.5,4463.3 L1585.7,4463.1 L1578.8,4463.0 L1571.9,4463.2 L1565.1,4463.8 L1558.2,4464.9 L1551.3,4466.1 L1544.5,4467.5 L1537.6,4469.0 L1530.7,4470.5 L1523.9,4471.8 L1517.0,4472.9 L1510.2,4473.8 L1503.3,4474.7 L1496.4,4475.7 L1489.6,4476.6 L1482.7,4477.6 L1475.8,4478.5 L1469.0,4479.4 L1462.1,4480.3 L1455.2,4481.1 L1448.4,4481.8 L1441.5,4482.4 L1434.6,4482.9 L1427.8,4483.3 L1420.9,4483.5 L1414.0,4483.6 L1407.2,4483.6 L1400.3,4483.5 L1393.4,4483.4 L1386.6,4483.3 L1379.7,4483.1 L1372.8,4482.9 L1366.0,4482.6 L1359.1,4482.4 L1352.2,4482.1 L1345.4,4481.8 L1338.5,4481.4 L1331.6,4481.1 L1324.8,4480.7 L1317.9,4480.4 L1311.1,4480.0 L1304.2,4479.6 L1297.3,4479.0 L1290.5,4478.3 L1283.6,4477.6 L1276.7,4476.7 L1269.9,4475.8 L1263.0,4474.8 L1256.1,4473.7 L1249.3,4472.6 L1242.4,4471.4 L1235.5,4470.2 L1228.7,4469.0 L1221.8,4467.8 L1214.9,4466.5 L1208.1,4465.3 L1201.2,4464.1 L1194.3,4462.9 L1187.5,4461.7 L1180.6,4460.6 L1173.7,4459.6 L1166.9,4458.5 L1160.0,4457.4 L1153.1,4456.3 L1146.3,4455.2 L1139.4,4454.1 L1132.5,4452.9 L1125.7,4451.8 L1118.8,4450.6 L1111.9,4449.5 L1105.1,4448.4 L1098.2,4447.3 L1091.4,4446.2 L1084.5,4445.1 L1077.6,4444.1 L1070.8,4443.1 L1063.9,4442.2 L1057.0,4441.3 L1050.2,4440.4 L1043.3,4439.7 L1036.4,4438.9 L1029.6,4438.3 L1022.7,4437.6 L1015.8,4437.0 L1009.0,4436.4 L1002.1,4435.8 L995.2,4435.3 L988.4,4434.7 L981.5,4434.2 L974.6,4433.7 L967.8,4433.2 L960.9,4432.7 L954.0,4432.3 L947.2,4431.8 L940.3,4431.4 L933.4,4430.9 L926.6,4430.5 L919.7,4430.0 L912.8,4429.6 L906.0,4429.2 L899.1,4428.7 L892.3,4428.3 L885.4,4427.9 L878.5,4427.5 L871.7,4427.1 L864.8,4426.7 L857.9,4426.3 L851.1,4425.9 L844.2,4425.5 L837.3,4425.1 L830.5,4424.8 L823.6,4424.4 L816.7,4424.1 L809.9,4423.7 L803.0,4423.4Z" fill="#8b8b83" fill-opacity="0.4"/>
<path d="M803.0,4423.4 L808.2,4423.1 L813.3,4422.8 L818.5,4422.4 L823.6,4422.1 L828.8,4421.7 L833.9,4421.3 L839.1,4420.9 L844.2,4420.4 L849.4,4420.0 L854.6,4419.5 L859.7,4419.1 L864.9,4418.6 L870.0,4418.1 L875.2,4417.6 L880.3,4417.1 L885.5,4416.6 L890.6,4416.1 L895.8,4415.5 L900.9,4415.0 L906.1,4414.5 L911.2,4413.9 L916.4,4413.4 L921.6,4412.9 L926.7,4412.4 L931.9,4411.8 L937.0,4411.3 L942.2,4410.8 L947.3,4410.3 L952.5,4409.8 L957.6,4409.3 L962.8,4408.9 L967.9,4408.4 L973.1,4408.0 L978.2,4407.5 L983.4,4407.1 L988.5,4406.7 L993.7,4406.4 L998.8,4406.0 L1004.0,4405.6 L1009.1,4405.3 L1014.3,4405.0 L1019.4,4404.8 L1024.6,4404.5 L1029.7,4404.3 L1034.9,4404.1 L1040.0,4403.9 L1045.2,4403.7 L1050.3,4403.6 L1055.5,4403.5 L1060.6,4403.4 L1065.8,4403.3 L1070.9,4403.2 L1076.0,4403.2 L1081.2,4403.2 L1086.3,4403.2 L1091.5,4403.2 L1096.6,4403.2 L1101.8,4403.3 L1106.9,4403.4 L1112.1,4403.5 L1117.2,4403.6 L1122.4,4403.8 L1127.5,4404.0 L1132.6,4404.1 L1137.8,4404.4 L1142.9,4404.6 L1148.1,4404.8 L1153.2,4405.1 L1158.4,4405.4 L1163.5,4405.7 L1168.6,4406.0 L1173.8,4406.3 L1178.9,4406.7 L1184.1,4407.1 L1189.2,4407.5 L1194.4,4407.9 L1199.5,4408.3 L1204.6,4408.8 L1209.8,4409.3 L1214.9,4409.8 L1220.1,4410.3 L1225.2,4410.8 L1230.3,4411.3 L1235.5,4411.9 L1240.6,4412.5 L1245.7,4413.0 L1250.9,4413.6 L1256.0,4414.3 L1261.2,4414.9 L1266.3,4415.5 L1271.4,4416.2 L1276.6,4416.8 L1281.7,4417.5 L1286.8,4418.2 L1292.0,4418.9 L1297.1,4419.5 L1302.3,4420.3 L1307.4,4421.0 L1312.5,4421.7 L1317.7,4422.4 L1322.8,4423.1 L1327.9,4423.9 L1333.1,4424.6 L1338.2,4425.3 L1343.3,4426.1 L1348.5,4426.8 L1353.6,4427.5 L1358.7,4428.3 L1363.9,4429.0 L1369.0,4429.8 L1374.1,4430.5 L1379.2,4431.2 L1384.4,4432.0 L1389.5,4432.7 L1394.6,4433.4 L1399.8,4434.1 L1404.9,4434.8 L1410.0,4435.6 L1415.2,4436.3 L1420.3,4436.9 L1425.4,4437.6 L1430.5,4438.3 L1435.7,4439.0 L1440.8,4439.6 L1445.9,4440.3 L1451.0,4441.0 L1456.2,4441.6 L1461.3,4442.3 L1466.4,4442.9 L1471.5,4443.5 L1476.7,4444.2 L1481.8,4444.8 L1486.9,4445.4 L1492.0,4446.0 L1497.2,4446.7 L1502.3,4447.3 L1507.4,4447.9 L1512.5,4448.5 L1517.6,4449.1 L1522.8,4449.7 L1527.9,4450.4 L1533.0,4451.0 L1538.1,4451.6 L1543.2,4452.2 L1548.4,4452.8 L1553.5,4453.5 L1558.6,4454.1 L1563.7,4454.7 L1568.8,4455.4 L1574.0,4456.0 L1579.1,4456.6 L1584.2,4457.3 L1589.3,4457.9 L1594.4,4458.6 L1599.5,4459.3 L1604.7,4459.9 L1609.8,4460.6 L1614.9,4461.3 L1620.0,4462.0" fill="none" stroke="#8b8b83" stroke-width="22.5" stroke-linejoin="round"/>
<path d="M803.0,3790.4 L809.9,3789.3 L816.7,3788.6 L823.6,3788.6 L830.5,3788.8 L837.3,3789.0 L844.2,3789.3 L851.1,3789.7 L857.9,3790.2 L864.8,3790.7 L871.7,3791.3 L878.5,3791.8 L885.4,3792.5 L892.3,3793.1 L899.1,3793.7 L906.0,3794.3 L912.8,3794.9 L919.7,3795.5 L926.6,3796.0 L933.4,3796.5 L940.3,3796.9 L947.2,3797.2 L954.0,3797.5 L960.9,3797.6 L967.8,3797.7 L974.6,3797.6 L981.5,3797.5 L988.4,3797.2 L995.2,3796.8 L1002.1,3796.3 L1009.0,3795.8 L1015.8,3795.2 L1022.7,3794.5 L1029.6,3793.7 L1036.4,3793.0 L1043.3,3792.1 L1050.2,3791.3 L1057.0,3790.4 L1063.9,3789.5 L1070.8,3788.6 L1077.6,3787.7 L1084.5,3786.9 L1091.4,3786.0 L1098.2,3785.2 L1105.1,3784.4 L1111.9,3783.5 L1118.8,3782.6 L1125.7,3781.7 L1132.5,3780.7 L1139.4,3779.7 L1146.3,3778.6 L1153.1,3777.5 L1160.0,3776.5 L1166.9,3775.4 L1173.7,3774.3 L1180.6,3773.2 L1187.5,3772.2 L1194.3,3771.2 L1201.2,3770.2 L1208.1,3769.2 L1214.9,3768.3 L1221.8,3767.5 L1228.7,3766.7 L1235.5,3765.9 L1242.4,3765.2 L1249.3,3764.5 L1256.1,3763.7 L1263.0,3763.0 L1269.9,3762.2 L1276.7,3761.5 L1283.6,3760.8 L1290.5,3760.2 L1297.3,3759.5 L1304.2,3759.0 L1311.1,3758.5 L1317.9,3758.1 L1324.8,3757.8 L1331.6,3757.6 L1338.5,3757.5 L1345.4,3757.6 L1352.2,3758.0 L1359.1,3758.7 L1366.0,3759.6 L1372.8,3760.8 L1379.7,3762.2 L1386.6,3763.7 L1393.4,3765.4 L1400.3,3767.2 L1407.2,3769.0 L1414.0,3770.9 L1420.9,3772.8 L1427.8,3774.7 L1434.6,3776.5 L1441.5,3778.3 L1448.4,3780.3 L1455.2,3782.8 L1462.1,3785.5 L1469.0,3788.3 L1475.8,3791.3 L1482.7,3794.2 L1489.6,3797.0 L1496.4,3799.7 L1503.3,3802.0 L1510.2,3804.0 L1517.0,3805.5 L1523.9,3806.5 L1530.7,3806.8 L1537.6,3806.8 L1544.5,3806.7 L1551.3,3806.6 L1558.2,3806.3 L1565.1,3806.0 L1571.9,3805.5 L1578.8,3804.8 L1585.7,3804.0 L1592.5,3802.9 L1599.4,3801.6 L1606.3,3800.0 L1613.1,3798.2 L1620.0,3796.0 L1620.0,3806.0 L1613.1,3810.5 L1606.3,3814.9 L1599.4,3819.4 L1592.5,3823.9 L1585.7,3828.3 L1578.8,3832.8 L1571.9,3837.3 L1565.1,3841.7 L1558.2,3846.2 L1551.3,3850.9 L1544.5,3855.8 L1537.6,3860.8 L1530.7,3865.9 L1523.9,3871.1 L1517.0,3876.1 L1510.2,3880.9 L1503.3,3885.5 L1496.4,3889.8 L1489.6,3893.6 L1482.7,3896.9 L1475.8,3899.7 L1469.0,3902.1 L1462.1,3904.4 L1455.2,3906.7 L1448.4,3909.0 L1441.5,3911.2 L1434.6,3913.3 L1427.8,3915.3 L1420.9,3917.1 L1414.0,3918.8 L1407.2,3920.3 L1400.3,3921.7 L1393.4,3922.8 L1386.6,3923.8 L1379.7,3924.4 L1372.8,3924.9 L1366.0,3925.0 L1359.1,3925.0 L1352.2,3924.8 L1345.4,3924.6 L1338.5,3924.3 L1331.6,3923.9 L1324.8,3923.5 L1317.9,3922.9 L1311.1,3922.4 L1304.2,3921.7 L1297.3,3921.1 L1290.5,3920.4 L1283.6,3919.6 L1276.7,3918.8 L1269.9,3918.0 L1263.0,3917.2 L1256.1,3916.4 L1249.3,3915.5 L1242.4,3914.7 L1235.5,3913.7 L1228.7,3912.5 L1221.8,3911.2 L1214.9,3909.8 L1208.1,3908.2 L1201.2,3906.6 L1194.3,3904.9 L1187.5,3903.1 L1180.6,3901.3 L1173.7,3899.4 L1166.9,3897.5 L1160.0,3895.6 L1153.1,3893.8 L1146.3,3891.9 L1139.4,3890.1 L1132.5,3888.3 L1125.7,3886.5 L1118.8,3884.7 L1111.9,3882.9 L1105.1,3881.0 L1098.2,3879.1 L1091.4,3877.2 L1084.5,3875.3 L1077.6,3873.4 L1070.8,3871.4 L1063.9,3869.4 L1057.0,3867.4 L1050.2,3865.4 L1043.3,3863.3 L1036.4,3861.3 L1029.6,3859.2 L1022.7,3857.1 L1015.8,3855.0 L1009.0,3852.8 L1002.1,3850.7 L995.2,3848.5 L988.4,3846.2 L981.5,3843.8 L974.6,3841.3 L967.8,3838.8 L960.9,3836.3 L954.0,3833.7 L947.2,3831.2 L940.3,3828.6 L933.4,3826.1 L926.6,3823.7 L919.7,3821.3 L912.8,3819.0 L906.0,3816.8 L899.1,3814.7 L892.3,3812.7 L885.4,3810.8 L878.5,3808.9 L871.7,3807.0 L864.8,3805.1 L857.9,3803.3 L851.1,3801.5 L844.2,3799.8 L837.3,3798.1 L830.5,3796.5 L823.6,3794.9 L816.7,3793.3 L809.9,3791.8 L803.0,3790.4Z" fill="#0000ff" fill-opacity="0.4"/>
<path d="M803.0,3790.4 L808.0,3791.1 L813.1,3791.9 L818.1,3792.7 L823.1,3793.6 L828.2,3794.5 L833.2,3795.4 L838.3,3796.4 L843.3,3797.4 L848.4,3798.4 L853.5,3799.5 L858.5,3800.5 L863.6,3801.6 L868.7,3802.7 L873.8,3803.9 L878.9,3805.0 L884.0,3806.1 L889.0,3807.2 L894.2,3808.3 L899.3,3809.4 L904.4,3810.5 L909.5,3811.6 L914.6,3812.6 L919.7,3813.7 L924.8,3814.7 L930.0,3815.7 L935.1,3816.7 L940.2,3817.6 L945.4,3818.5 L950.5,3819.5 L955.7,3820.4 L960.8,3821.2 L966.0,3822.1 L971.1,3822.9 L976.3,3823.7 L981.4,3824.5 L986.6,3825.2 L991.8,3825.9 L996.9,3826.6 L1002.1,3827.3 L1007.3,3828.0 L1012.5,3828.6 L1017.7,3829.2 L1022.8,3829.7 L1028.0,3830.3 L1033.2,3830.8 L1038.4,3831.2 L1043.6,3831.7 L1048.8,3832.2 L1054.0,3832.6 L1059.2,3833.0 L1064.4,3833.4 L1069.6,3833.7 L1074.8,3834.1 L1080.0,3834.4 L1085.2,3834.7 L1090.4,3835.0 L1095.6,3835.3 L1100.8,3835.6 L1106.0,3835.8 L1111.2,3836.1 L1116.4,3836.3 L1121.6,3836.5 L1126.8,3836.8 L1132.1,3837.0 L1137.3,3837.2 L1142.5,3837.4 L1147.7,3837.6 L1152.9,3837.8 L1158.1,3838.0 L1163.4,3838.2 L1168.6,3838.3 L1173.8,3838.5 L1179.0,3838.7 L1184.2,3838.9 L1189.4,3839.1 L1194.7,3839.3 L1199.9,3839.5 L1205.1,3839.7 L1210.3,3839.9 L1215.5,3840.1 L1220.7,3840.3 L1226.0,3840.6 L1231.2,3840.8 L1236.4,3841.0 L1241.6,3841.3 L1246.8,3841.5 L1252.0,3841.8 L1257.2,3842.0 L1262.4,3842.3 L1267.6,3842.5 L1272.8,3842.8 L1278.1,3843.0 L1283.3,3843.2 L1288.5,3843.5 L1293.7,3843.7 L1298.9,3843.9 L1304.1,3844.1 L1309.3,3844.3 L1314.4,3844.5 L1319.6,3844.7 L1324.8,3844.8 L1330.0,3845.0 L1335.2,3845.1 L1340.4,3845.2 L1345.6,3845.4 L1350.8,3845.4 L1355.9,3845.5 L1361.1,3845.6 L1366.3,3845.6 L1371.4,3845.6 L1376.6,3845.6 L1381.8,3845.6 L1386.9,3845.5 L1392.1,3845.4 L1397.3,3845.3 L1402.4,3845.2 L1407.6,3845.0 L1412.7,3844.8 L1417.8,3844.6 L1423.0,3844.3 L1428.1,3844.0 L1433.2,3843.7 L1438.4,3843.4 L1443.5,3843.0 L1448.6,3842.6 L1453.7,3842.1 L1458.9,3841.6 L1464.0,3841.1 L1469.1,3840.5 L1474.2,3839.9 L1479.3,3839.2 L1484.4,3838.5 L1489.5,3837.8 L1494.5,3837.0 L1499.6,3836.2 L1504.7,3835.3 L1509.8,3834.4 L1514.8,3833.4 L1519.9,3832.4 L1525.0,3831.3 L1530.0,3830.2 L1535.1,3829.0 L1540.1,3827.7 L1545.1,3826.5 L1550.2,3825.1 L1555.2,3823.7 L1560.2,3822.3 L1565.2,3820.7 L1570.2,3819.2 L1575.2,3817.5 L1580.2,3815.9 L1585.2,3814.1 L1590.2,3812.3 L1595.2,3810.4 L1600.2,3808.5 L1605.1,3806.4 L1610.1,3804.4 L1615.1,3802.2 L1620.0,3800.0" fill="none" stroke="#0000ff" stroke-width="22.5" stroke-linejoin="round"/>
<path d="M803.0,3733.8 L809.9,3730.4 L816.8,3728.1 L823.7,3728.1 L830.6,3728.5 L837.5,3729.1 L844.4,3730.0 L851.4,3731.1 L858.3,3732.3 L865.2,3733.7 L872.1,3735.3 L879.0,3736.9 L885.9,3738.6 L892.8,3740.4 L899.7,3742.2 L906.6,3743.9 L913.5,3745.7 L920.4,3747.4 L927.3,3749.0 L934.2,3750.5 L941.2,3751.8 L948.1,3753.0 L955.0,3754.0 L961.9,3754.8 L968.8,3755.4 L975.7,3755.7 L982.6,3755.7 L989.5,3755.5 L996.4,3755.2 L1003.3,3754.7 L1010.2,3754.2 L1017.1,3753.7 L1024.0,3753.2 L1030.9,3752.7 L1037.9,3752.4 L1044.8,3752.1 L1051.7,3752.0 L1058.6,3752.0 L1065.5,3752.0 L1072.4,3752.0 L1079.3,3752.0 L1086.2,3752.0 L1093.1,3752.0 L1100.0,3752.0 L1106.9,3752.0 L1113.8,3752.0 L1120.7,3752.0 L1127.7,3752.0 L1134.6,3752.0 L1141.5,3752.0 L1148.4,3752.0 L1155.3,3752.0 L1162.2,3752.0 L1169.1,3752.0 L1176.0,3752.0 L1182.9,3752.0 L1189.8,3752.0 L1196.7,3752.0 L1203.6,3752.0 L1210.5,3752.0 L1217.5,3752.0 L1224.4,3752.0 L1231.3,3752.0 L1238.2,3752.0 L1245.1,3752.0 L1252.0,3752.1 L1258.9,3752.2 L1265.8,3752.4 L1272.7,3752.5 L1279.6,3752.7 L1286.5,3753.0 L1293.4,3753.2 L1300.3,3753.5 L1307.3,3753.8 L1314.2,3754.2 L1321.1,3754.5 L1328.0,3754.9 L1334.9,3755.4 L1341.8,3756.3 L1348.7,3757.6 L1355.6,3759.2 L1362.5,3761.1 L1369.4,3763.3 L1376.3,3765.7 L1383.2,3768.2 L1390.1,3770.9 L1397.1,3773.6 L1404.0,3776.4 L1410.9,3779.2 L1417.8,3782.0 L1424.7,3784.6 L1431.6,3787.2 L1438.5,3789.5 L1445.4,3791.8 L1452.3,3794.4 L1459.2,3797.1 L1466.1,3800.0 L1473.0,3802.9 L1479.9,3805.8 L1486.8,3808.7 L1493.8,3811.5 L1500.7,3814.0 L1507.6,3816.4 L1514.5,3818.4 L1521.4,3820.0 L1528.3,3821.2 L1535.2,3821.9 L1542.1,3822.0 L1549.0,3821.8 L1555.9,3821.3 L1562.8,3820.6 L1569.7,3819.7 L1576.6,3818.5 L1583.6,3817.0 L1590.5,3815.2 L1597.4,3813.1 L1604.3,3810.8 L1611.2,3808.2 L1618.1,3805.2 L1625.0,3802.0 L1625.0,3814.0 L1618.1,3817.7 L1611.2,3821.4 L1604.3,3825.0 L1597.4,3828.5 L1590.5,3832.0 L1583.6,3835.4 L1576.6,3838.8 L1569.7,3842.0 L1562.8,3845.2 L1555.9,3848.3 L1549.0,3851.2 L1542.1,3854.1 L1535.2,3857.0 L1528.3,3859.9 L1521.4,3862.8 L1514.5,3865.7 L1507.6,3868.7 L1500.7,3871.5 L1493.8,3874.3 L1486.8,3877.0 L1479.9,3879.5 L1473.0,3881.9 L1466.1,3884.1 L1459.2,3886.0 L1452.3,3887.7 L1445.4,3889.1 L1438.5,3890.2 L1431.6,3891.2 L1424.7,3892.2 L1417.8,3893.1 L1410.9,3894.0 L1404.0,3894.9 L1397.1,3895.7 L1390.1,3896.5 L1383.2,3897.2 L1376.3,3897.8 L1369.4,3898.4 L1362.5,3898.9 L1355.6,3899.3 L1348.7,3899.6 L1341.8,3899.8 L1334.9,3900.0 L1328.0,3900.0 L1321.1,3899.8 L1314.2,3899.5 L1307.3,3898.9 L1300.3,3898.3 L1293.4,3897.5 L1286.5,3896.5 L1279.6,3895.5 L1272.7,3894.4 L1265.8,3893.3 L1258.9,3892.1 L1252.0,3890.9 L1245.1,3889.7 L1238.2,3888.5 L1231.3,3887.4 L1224.4,3886.1 L1217.5,3884.8 L1210.5,3883.5 L1203.6,3882.0 L1196.7,3880.5 L1189.8,3878.9 L1182.9,3877.2 L1176.0,3875.5 L1169.1,3873.7 L1162.2,3871.9 L1155.3,3870.1 L1148.4,3868.2 L1141.5,3866.3 L1134.6,3864.3 L1127.7,3862.3 L1120.7,3860.2 L1113.8,3858.0 L1106.9,3855.7 L1100.0,3853.4 L1093.1,3851.0 L1086.2,3848.5 L1079.3,3846.0 L1072.4,3843.4 L1065.5,3840.8 L1058.6,3838.2 L1051.7,3835.5 L1044.8,3832.8 L1037.9,3830.1 L1030.9,3827.3 L1024.0,3824.6 L1017.1,3821.8 L1010.2,3819.1 L1003.3,3816.3 L996.4,3813.6 L989.5,3810.7 L982.6,3807.9 L975.7,3804.9 L968.8,3801.9 L961.9,3798.9 L955.0,3795.9 L948.1,3792.8 L941.2,3789.8 L934.2,3786.7 L927.3,3783.7 L920.4,3780.7 L913.5,3777.7 L906.6,3774.7 L899.7,3771.9 L892.8,3769.0 L885.9,3766.2 L879.0,3763.4 L872.1,3760.7 L865.2,3757.9 L858.3,3755.1 L851.4,3752.4 L844.4,3749.7 L837.5,3747.0 L830.6,3744.3 L823.7,3741.7 L816.8,3739.0 L809.9,3736.4 L803.0,3733.8Z" fill="#ff9d00" fill-opacity="0.4"/>
<path d="M803.0,3733.8 L808.0,3735.3 L813.0,3736.8 L818.0,3738.4 L823.0,3739.9 L828.1,3741.5 L833.1,3743.0 L838.1,3744.6 L843.2,3746.2 L848.2,3747.7 L853.2,3749.3 L858.3,3750.9 L863.3,3752.4 L868.4,3754.0 L873.5,3755.6 L878.5,3757.1 L883.6,3758.7 L888.7,3760.2 L893.8,3761.7 L898.8,3763.2 L903.9,3764.8 L909.0,3766.3 L914.1,3767.7 L919.2,3769.2 L924.3,3770.7 L929.5,3772.1 L934.6,3773.5 L939.7,3775.0 L944.8,3776.3 L949.9,3777.7 L955.1,3779.1 L960.2,3780.4 L965.3,3781.7 L970.5,3783.0 L975.6,3784.2 L980.8,3785.4 L985.9,3786.6 L991.1,3787.8 L996.2,3788.9 L1001.4,3790.0 L1006.6,3791.1 L1011.7,3792.1 L1016.9,3793.1 L1022.1,3794.1 L1027.3,3795.0 L1032.5,3795.9 L1037.6,3796.8 L1042.8,3797.7 L1048.0,3798.5 L1053.2,3799.3 L1058.4,3800.1 L1063.6,3800.9 L1068.8,3801.6 L1074.0,3802.4 L1079.2,3803.1 L1084.5,3803.8 L1089.7,3804.5 L1094.9,3805.1 L1100.1,3805.8 L1105.3,3806.4 L1110.6,3807.1 L1115.8,3807.7 L1121.0,3808.3 L1126.3,3809.0 L1131.5,3809.6 L1136.7,3810.2 L1142.0,3810.8 L1147.2,3811.4 L1152.5,3812.0 L1157.7,3812.6 L1163.0,3813.3 L1168.2,3813.9 L1173.5,3814.5 L1178.7,3815.1 L1184.0,3815.8 L1189.3,3816.4 L1194.5,3817.1 L1199.8,3817.8 L1205.1,3818.5 L1210.3,3819.2 L1215.6,3819.9 L1220.9,3820.7 L1226.1,3821.4 L1231.4,3822.2 L1236.7,3823.0 L1242.0,3823.8 L1247.2,3824.6 L1252.5,3825.4 L1257.8,3826.2 L1263.1,3827.0 L1268.4,3827.8 L1273.6,3828.7 L1278.9,3829.5 L1284.2,3830.3 L1289.5,3831.1 L1294.8,3832.0 L1300.0,3832.8 L1305.3,3833.6 L1310.6,3834.4 L1315.9,3835.2 L1321.2,3835.9 L1326.4,3836.7 L1331.7,3837.5 L1337.0,3838.2 L1342.2,3838.9 L1347.5,3839.6 L1352.8,3840.3 L1358.0,3840.9 L1363.3,3841.6 L1368.6,3842.2 L1373.8,3842.8 L1379.1,3843.3 L1384.3,3843.8 L1389.6,3844.3 L1394.8,3844.8 L1400.0,3845.2 L1405.3,3845.6 L1410.5,3846.0 L1415.7,3846.3 L1421.0,3846.6 L1426.2,3846.8 L1431.4,3847.0 L1436.6,3847.1 L1441.8,3847.2 L1447.0,3847.3 L1452.2,3847.3 L1457.4,3847.3 L1462.6,3847.2 L1467.8,3847.0 L1473.0,3846.8 L1478.1,3846.6 L1483.3,3846.3 L1488.5,3845.9 L1493.6,3845.4 L1498.8,3845.0 L1503.9,3844.4 L1509.1,3843.8 L1514.2,3843.1 L1519.3,3842.3 L1524.4,3841.5 L1529.5,3840.6 L1534.6,3839.6 L1539.7,3838.6 L1544.8,3837.4 L1549.9,3836.2 L1555.0,3835.0 L1560.0,3833.6 L1565.1,3832.2 L1570.1,3830.6 L1575.2,3829.0 L1580.2,3827.4 L1585.2,3825.6 L1590.2,3823.7 L1595.2,3821.7 L1600.2,3819.7 L1605.2,3817.6 L1610.2,3815.3 L1615.1,3813.0 L1620.1,3810.5 L1625.0,3808.0" fill="none" stroke="#ff9900" stroke-width="22.5" stroke-linejoin="round"/>
<path d="M803.0,3803.2 L809.7,3804.5 L816.4,3805.7 L823.1,3807.0 L829.8,3808.2 L836.5,3809.3 L843.2,3810.4 L849.9,3811.5 L856.6,3812.6 L863.3,3813.5 L870.0,3814.5 L876.7,3815.4 L883.4,3816.2 L890.1,3817.0 L896.8,3817.7 L903.5,3818.3 L910.2,3819.0 L916.9,3819.7 L923.6,3820.3 L930.3,3820.9 L936.9,3821.6 L943.6,3822.2 L950.3,3822.7 L957.0,3823.2 L963.7,3823.7 L970.4,3824.1 L977.1,3824.5 L983.8,3824.7 L990.5,3824.9 L997.2,3825.0 L1003.9,3825.0 L1010.6,3824.9 L1017.3,3824.6 L1024.0,3824.3 L1030.7,3823.9 L1037.4,3823.5 L1044.1,3823.0 L1050.8,3822.4 L1057.5,3821.8 L1064.2,3821.1 L1070.9,3820.5 L1077.6,3819.8 L1084.3,3819.1 L1091.0,3818.5 L1097.7,3817.8 L1104.4,3817.2 L1111.1,3816.7 L1117.8,3816.1 L1124.5,3815.7 L1131.2,3815.3 L1137.9,3815.0 L1144.6,3814.7 L1151.3,3814.4 L1158.0,3814.1 L1164.7,3813.8 L1171.4,3813.5 L1178.1,3813.3 L1184.8,3813.0 L1191.5,3812.8 L1198.2,3812.6 L1204.8,3812.4 L1211.5,3812.3 L1218.2,3812.1 L1224.9,3812.0 L1231.6,3812.0 L1238.3,3812.0 L1245.0,3812.0 L1251.7,3812.1 L1258.4,3812.1 L1265.1,3812.2 L1271.8,3812.3 L1278.5,3812.4 L1285.2,3812.5 L1291.9,3812.6 L1298.6,3812.8 L1305.3,3812.9 L1312.0,3813.1 L1318.7,3813.3 L1325.4,3813.5 L1332.1,3813.7 L1338.8,3814.0 L1345.5,3814.2 L1352.2,3814.4 L1358.9,3814.7 L1365.6,3815.0 L1372.3,3815.3 L1379.0,3815.8 L1385.7,3816.5 L1392.4,3817.3 L1399.1,3818.2 L1405.8,3819.2 L1412.5,3820.4 L1419.2,3821.6 L1425.9,3822.9 L1432.6,3824.4 L1439.3,3825.9 L1446.0,3827.5 L1452.7,3829.1 L1459.4,3830.8 L1466.1,3832.6 L1472.7,3834.4 L1479.4,3836.4 L1486.1,3839.1 L1492.8,3842.4 L1499.5,3846.1 L1506.2,3850.1 L1512.9,3854.1 L1519.6,3858.1 L1526.3,3861.8 L1533.0,3865.0 L1539.7,3867.7 L1546.4,3869.5 L1553.1,3870.6 L1559.8,3871.6 L1566.5,3872.5 L1573.2,3873.4 L1579.9,3874.0 L1586.6,3874.6 L1593.3,3874.9 L1600.0,3875.0 L1600.0,3886.0 L1593.3,3892.5 L1586.6,3898.8 L1579.9,3905.0 L1573.2,3910.9 L1566.5,3916.7 L1559.8,3922.2 L1553.1,3927.6 L1546.4,3932.8 L1539.7,3938.0 L1533.0,3943.0 L1526.3,3947.8 L1519.6,3952.2 L1512.9,3956.1 L1506.2,3959.6 L1499.5,3963.0 L1492.8,3966.3 L1486.1,3969.5 L1479.4,3972.5 L1472.7,3975.4 L1466.1,3978.0 L1459.4,3980.4 L1452.7,3982.5 L1446.0,3984.3 L1439.3,3985.7 L1432.6,3987.0 L1425.9,3988.3 L1419.2,3989.5 L1412.5,3990.6 L1405.8,3991.7 L1399.1,3992.6 L1392.4,3993.4 L1385.7,3994.1 L1379.0,3994.6 L1372.3,3994.9 L1365.6,3995.0 L1358.9,3994.9 L1352.2,3994.7 L1345.5,3994.3 L1338.8,3993.8 L1332.1,3993.2 L1325.4,3992.5 L1318.7,3991.7 L1312.0,3990.8 L1305.3,3989.9 L1298.6,3988.9 L1291.9,3987.9 L1285.2,3986.8 L1278.5,3985.7 L1271.8,3984.6 L1265.1,3983.4 L1258.4,3981.9 L1251.7,3980.2 L1245.0,3978.4 L1238.3,3976.4 L1231.6,3974.3 L1224.9,3972.1 L1218.2,3969.9 L1211.5,3967.5 L1204.8,3965.1 L1198.2,3962.8 L1191.5,3960.4 L1184.8,3957.9 L1178.1,3955.3 L1171.4,3952.5 L1164.7,3949.6 L1158.0,3946.6 L1151.3,3943.5 L1144.6,3940.4 L1137.9,3937.2 L1131.2,3934.1 L1124.5,3930.9 L1117.8,3927.8 L1111.1,3924.8 L1104.4,3921.9 L1097.7,3919.0 L1091.0,3916.2 L1084.3,3913.5 L1077.6,3910.7 L1070.9,3908.0 L1064.2,3905.3 L1057.5,3902.6 L1050.8,3899.9 L1044.1,3897.3 L1037.4,3894.6 L1030.7,3892.0 L1024.0,3889.4 L1017.3,3886.8 L1010.6,3884.1 L1003.9,3881.5 L997.2,3878.9 L990.5,3876.3 L983.8,3873.8 L977.1,3871.2 L970.4,3868.7 L963.7,3866.2 L957.0,3863.6 L950.3,3861.1 L943.6,3858.6 L936.9,3856.1 L930.3,3853.6 L923.6,3851.0 L916.9,3848.5 L910.2,3845.9 L903.5,3843.3 L896.8,3840.7 L890.1,3838.1 L883.4,3835.5 L876.7,3832.8 L870.0,3830.2 L863.3,3827.5 L856.6,3824.9 L849.9,3822.2 L843.2,3819.5 L836.5,3816.8 L829.8,3814.1 L823.1,3811.4 L816.4,3808.7 L809.7,3805.9 L803.0,3803.2Z" fill="#ff0000" fill-opacity="0.4"/>
<path d="M803.0,3803.2 L807.9,3804.4 L812.9,3805.5 L817.8,3806.7 L822.7,3807.9 L827.7,3809.2 L832.6,3810.4 L837.6,3811.7 L842.5,3812.9 L847.4,3814.2 L852.4,3815.5 L857.3,3816.8 L862.3,3818.0 L867.2,3819.3 L872.2,3820.6 L877.2,3822.0 L882.1,3823.3 L887.1,3824.6 L892.0,3825.9 L897.0,3827.2 L902.0,3828.5 L906.9,3829.8 L911.9,3831.1 L916.9,3832.3 L921.8,3833.6 L926.8,3834.9 L931.8,3836.1 L936.8,3837.4 L941.7,3838.6 L946.7,3839.8 L951.7,3841.0 L956.7,3842.2 L961.7,3843.3 L966.7,3844.5 L971.6,3845.6 L976.6,3846.7 L981.6,3847.8 L986.6,3848.8 L991.6,3849.8 L996.6,3850.8 L1001.6,3851.8 L1006.6,3852.8 L1011.6,3853.7 L1016.6,3854.6 L1021.6,3855.4 L1026.6,3856.3 L1031.6,3857.1 L1036.6,3857.9 L1041.6,3858.7 L1046.6,3859.4 L1051.6,3860.2 L1056.6,3860.9 L1061.6,3861.6 L1066.6,3862.3 L1071.6,3863.0 L1076.6,3863.7 L1081.7,3864.4 L1086.7,3865.1 L1091.7,3865.7 L1096.7,3866.4 L1101.7,3867.1 L1106.7,3867.7 L1111.8,3868.4 L1116.8,3869.0 L1121.8,3869.7 L1126.8,3870.4 L1131.8,3871.1 L1136.9,3871.8 L1141.9,3872.5 L1146.9,3873.2 L1151.9,3873.9 L1157.0,3874.6 L1162.0,3875.4 L1167.0,3876.1 L1172.0,3876.9 L1177.1,3877.7 L1182.1,3878.6 L1187.1,3879.4 L1192.2,3880.3 L1197.2,3881.2 L1202.2,3882.1 L1207.2,3883.0 L1212.3,3884.0 L1217.3,3885.0 L1222.3,3886.1 L1227.4,3887.2 L1232.4,3888.3 L1237.4,3889.5 L1242.5,3890.7 L1247.5,3891.9 L1252.6,3893.2 L1257.6,3894.6 L1262.6,3896.0 L1267.7,3897.4 L1272.7,3898.7 L1277.7,3900.1 L1282.8,3901.4 L1287.8,3902.7 L1292.9,3903.8 L1297.9,3904.9 L1302.9,3905.9 L1308.0,3906.8 L1313.0,3907.5 L1318.0,3908.1 L1323.1,3908.7 L1328.1,3909.1 L1333.2,3909.4 L1338.2,3909.6 L1343.2,3909.8 L1348.3,3909.9 L1353.3,3909.8 L1358.4,3909.8 L1363.4,3909.6 L1368.5,3909.4 L1373.5,3909.1 L1378.5,3908.7 L1383.6,3908.3 L1388.6,3907.9 L1393.7,3907.4 L1398.7,3906.9 L1403.7,3906.3 L1408.8,3905.7 L1413.8,3905.1 L1418.9,3904.5 L1423.9,3903.8 L1428.9,3903.1 L1434.0,3902.5 L1439.0,3901.8 L1444.0,3901.1 L1449.1,3900.4 L1454.1,3899.8 L1459.2,3899.1 L1464.2,3898.5 L1469.2,3897.9 L1474.3,3897.3 L1479.3,3896.7 L1484.3,3896.2 L1489.4,3895.7 L1494.4,3895.3 L1499.4,3894.9 L1504.5,3894.6 L1509.5,3894.4 L1514.5,3894.1 L1519.6,3893.9 L1524.6,3893.7 L1529.6,3893.4 L1534.7,3893.2 L1539.7,3892.9 L1544.7,3892.5 L1549.8,3892.1 L1554.8,3891.5 L1559.8,3890.9 L1564.8,3890.1 L1569.9,3889.2 L1574.9,3888.2 L1579.9,3886.9 L1584.9,3885.5 L1590.0,3883.9 L1595.0,3882.1 L1600.0,3880.0" fill="none" stroke="#ff0000" stroke-width="22.5" stroke-linejoin="round"/>
<path d="M803.0,3847.0 L809.9,3847.9 L816.7,3848.8 L823.6,3849.7 L830.5,3850.5 L837.3,3851.3 L844.2,3852.0 L851.1,3852.6 L857.9,3853.2 L864.8,3853.7 L871.7,3854.2 L878.5,3854.5 L885.4,3854.8 L892.3,3854.9 L899.1,3855.0 L906.0,3855.0 L912.8,3854.9 L919.7,3854.8 L926.6,3854.7 L933.4,3854.5 L940.3,3854.4 L947.2,3854.1 L954.0,3853.9 L960.9,3853.6 L967.8,3853.4 L974.6,3853.1 L981.5,3852.8 L988.4,3852.5 L995.2,3852.2 L1002.1,3851.9 L1009.0,3851.6 L1015.8,3851.1 L1022.7,3850.7 L1029.6,3850.2 L1036.4,3849.6 L1043.3,3849.0 L1050.2,3848.4 L1057.0,3847.7 L1063.9,3847.1 L1070.8,3846.4 L1077.6,3845.7 L1084.5,3845.0 L1091.4,3844.3 L1098.2,3843.6 L1105.1,3842.9 L1111.9,3842.2 L1118.8,3841.6 L1125.7,3841.0 L1132.5,3840.4 L1139.4,3839.8 L1146.3,3839.2 L1153.1,3838.7 L1160.0,3838.1 L1166.9,3837.5 L1173.7,3836.9 L1180.6,3836.3 L1187.5,3835.7 L1194.3,3835.1 L1201.2,3834.5 L1208.1,3834.0 L1214.9,3833.4 L1221.8,3832.9 L1228.7,3832.4 L1235.5,3831.9 L1242.4,3831.5 L1249.3,3831.1 L1256.1,3830.7 L1263.0,3830.4 L1269.9,3830.1 L1276.7,3829.9 L1283.6,3829.7 L1290.5,3829.5 L1297.3,3829.3 L1304.2,3829.1 L1311.1,3828.9 L1317.9,3828.7 L1324.8,3828.5 L1331.6,3828.4 L1338.5,3828.2 L1345.4,3828.1 L1352.2,3828.1 L1359.1,3828.0 L1366.0,3828.0 L1372.8,3828.1 L1379.7,3828.5 L1386.6,3829.2 L1393.4,3830.1 L1400.3,3831.1 L1407.2,3832.4 L1414.0,3833.8 L1420.9,3835.3 L1427.8,3837.0 L1434.6,3838.8 L1441.5,3840.6 L1448.4,3842.5 L1455.2,3844.5 L1462.1,3846.4 L1469.0,3848.3 L1475.8,3850.2 L1482.7,3852.4 L1489.6,3855.0 L1496.4,3857.9 L1503.3,3861.1 L1510.2,3864.4 L1517.0,3867.7 L1523.9,3871.1 L1530.7,3874.3 L1537.6,3877.4 L1544.5,3880.2 L1551.3,3882.6 L1558.2,3884.6 L1565.1,3886.2 L1571.9,3887.7 L1578.8,3889.1 L1585.7,3890.5 L1592.5,3891.7 L1599.4,3892.8 L1606.3,3893.7 L1613.1,3894.4 L1620.0,3895.0 L1620.0,3906.0 L1613.1,3906.8 L1606.3,3908.0 L1599.4,3909.5 L1592.5,3911.3 L1585.7,3913.4 L1578.8,3915.7 L1571.9,3918.1 L1565.1,3920.8 L1558.2,3923.6 L1551.3,3926.5 L1544.5,3929.5 L1537.6,3932.7 L1530.7,3937.0 L1523.9,3941.9 L1517.0,3946.4 L1510.2,3949.8 L1503.3,3952.6 L1496.4,3955.2 L1489.6,3957.7 L1482.7,3960.0 L1475.8,3962.1 L1469.0,3964.1 L1462.1,3965.9 L1455.2,3967.6 L1448.4,3969.1 L1441.5,3970.5 L1434.6,3971.8 L1427.8,3973.1 L1420.9,3974.4 L1414.0,3975.6 L1407.2,3976.7 L1400.3,3977.5 L1393.4,3978.2 L1386.6,3978.5 L1379.7,3978.5 L1372.8,3978.5 L1366.0,3978.4 L1359.1,3978.4 L1352.2,3978.3 L1345.4,3978.2 L1338.5,3978.1 L1331.6,3978.0 L1324.8,3977.9 L1317.9,3977.5 L1311.1,3977.1 L1304.2,3976.5 L1297.3,3975.8 L1290.5,3975.0 L1283.6,3974.2 L1276.7,3973.3 L1269.9,3972.5 L1263.0,3971.4 L1256.1,3970.2 L1249.3,3968.9 L1242.4,3967.5 L1235.5,3966.0 L1228.7,3964.4 L1221.8,3962.7 L1214.9,3960.9 L1208.1,3959.2 L1201.2,3957.4 L1194.3,3955.6 L1187.5,3953.9 L1180.6,3952.0 L1173.7,3950.1 L1166.9,3948.2 L1160.0,3946.1 L1153.1,3944.0 L1146.3,3941.7 L1139.4,3939.4 L1132.5,3937.0 L1125.7,3934.3 L1118.8,3931.4 L1111.9,3928.3 L1105.1,3925.1 L1098.2,3921.8 L1091.4,3918.5 L1084.5,3915.2 L1077.6,3911.9 L1070.8,3908.8 L1063.9,3905.8 L1057.0,3903.0 L1050.2,3900.4 L1043.3,3898.2 L1036.4,3896.2 L1029.6,3894.4 L1022.7,3892.6 L1015.8,3890.9 L1009.0,3889.3 L1002.1,3887.8 L995.2,3886.3 L988.4,3884.9 L981.5,3883.6 L974.6,3882.2 L967.8,3880.9 L960.9,3879.7 L954.0,3878.4 L947.2,3877.1 L940.3,3875.9 L933.4,3874.6 L926.6,3873.3 L919.7,3872.0 L912.8,3870.6 L906.0,3869.3 L899.1,3867.8 L892.3,3866.3 L885.4,3864.9 L878.5,3863.4 L871.7,3861.9 L864.8,3860.5 L857.9,3859.0 L851.1,3857.5 L844.2,3856.0 L837.3,3854.5 L830.5,3853.0 L823.6,3851.5 L816.7,3850.0 L809.9,3848.5 L803.0,3847.0Z" fill="#b0119d" fill-opacity="0.4"/>
<path d="M803.0,3847.0 L808.1,3847.9 L813.2,3848.7 L818.3,3849.5 L823.4,3850.4 L828.4,3851.2 L833.5,3852.0 L838.6,3852.8 L843.7,3853.6 L848.8,3854.4 L853.9,3855.2 L859.0,3856.0 L864.1,3856.7 L869.2,3857.5 L874.3,3858.3 L879.4,3859.0 L884.5,3859.8 L889.6,3860.5 L894.7,3861.2 L899.9,3862.0 L905.0,3862.7 L910.1,3863.4 L915.2,3864.1 L920.3,3864.8 L925.4,3865.5 L930.5,3866.2 L935.6,3866.9 L940.7,3867.5 L945.9,3868.2 L951.0,3868.9 L956.1,3869.5 L961.2,3870.2 L966.3,3870.8 L971.5,3871.5 L976.6,3872.1 L981.7,3872.7 L986.8,3873.3 L991.9,3873.9 L997.1,3874.6 L1002.2,3875.2 L1007.3,3875.8 L1012.5,3876.3 L1017.6,3876.9 L1022.7,3877.5 L1027.8,3878.1 L1033.0,3878.6 L1038.1,3879.2 L1043.2,3879.8 L1048.4,3880.3 L1053.5,3880.9 L1058.6,3881.4 L1063.8,3881.9 L1068.9,3882.5 L1074.0,3883.0 L1079.2,3883.5 L1084.3,3884.0 L1089.4,3884.5 L1094.6,3885.0 L1099.7,3885.5 L1104.9,3886.0 L1110.0,3886.5 L1115.1,3887.0 L1120.3,3887.4 L1125.4,3887.9 L1130.6,3888.4 L1135.7,3888.8 L1140.9,3889.3 L1146.0,3889.7 L1151.1,3890.2 L1156.3,3890.6 L1161.4,3891.0 L1166.6,3891.5 L1171.7,3891.9 L1176.9,3892.3 L1182.0,3892.7 L1187.2,3893.1 L1192.3,3893.5 L1197.5,3893.9 L1202.6,3894.3 L1207.8,3894.7 L1212.9,3895.1 L1218.1,3895.5 L1223.2,3895.9 L1228.4,3896.2 L1233.5,3896.6 L1238.7,3897.0 L1243.8,3897.3 L1249.0,3897.7 L1254.1,3898.0 L1259.3,3898.3 L1264.4,3898.7 L1269.6,3899.0 L1274.7,3899.3 L1279.9,3899.6 L1285.0,3899.9 L1290.2,3900.2 L1295.4,3900.5 L1300.5,3900.8 L1305.7,3901.1 L1310.8,3901.4 L1316.0,3901.6 L1321.1,3901.9 L1326.3,3902.1 L1331.4,3902.4 L1336.6,3902.6 L1341.8,3902.9 L1346.9,3903.1 L1352.1,3903.3 L1357.2,3903.5 L1362.4,3903.7 L1367.5,3903.9 L1372.7,3904.1 L1377.8,3904.2 L1383.0,3904.4 L1388.2,3904.5 L1393.3,3904.7 L1398.5,3904.8 L1403.6,3904.9 L1408.8,3905.1 L1413.9,3905.2 L1419.1,3905.3 L1424.2,3905.3 L1429.4,3905.4 L1434.6,3905.5 L1439.7,3905.5 L1444.9,3905.6 L1450.0,3905.6 L1455.2,3905.6 L1460.3,3905.7 L1465.5,3905.7 L1470.6,3905.6 L1475.8,3905.6 L1481.0,3905.6 L1486.1,3905.6 L1491.3,3905.5 L1496.4,3905.4 L1501.6,3905.4 L1506.7,3905.3 L1511.9,3905.2 L1517.0,3905.1 L1522.2,3904.9 L1527.3,3904.8 L1532.5,3904.6 L1537.6,3904.5 L1542.8,3904.3 L1547.9,3904.1 L1553.1,3903.9 L1558.2,3903.7 L1563.4,3903.5 L1568.5,3903.2 L1573.7,3903.0 L1578.8,3902.7 L1584.0,3902.4 L1589.1,3902.1 L1594.3,3901.8 L1599.4,3901.5 L1604.6,3901.1 L1609.7,3900.8 L1614.9,3900.4 L1620.0,3900.0" fill="none" stroke="#a0008c" stroke-width="22.5" stroke-linejoin="round"/>
<circle cx="1028.5" cy="4114.7" r="15" fill="#404040"/>
<circle cx="982.0" cy="4173.0" r="15" fill="#404040"/>
<circle cx="1055.0" cy="4173.0" r="15" fill="#404040"/>
<circle cx="1149.0" cy="4175.0" r="15" fill="#404040"/>
<circle cx="1246.0" cy="4175.0" r="15" fill="#404040"/>
<circle cx="1400.0" cy="4158.0" r="15" fill="#404040"/>
<circle cx="1554.0" cy="4158.0" r="17" fill="#404040"/>
<circle cx="1585.0" cy="4155.0" r="17" fill="#404040"/>
<circle cx="1626.0" cy="4175.0" r="37" fill="#404040"/>
<circle cx="1055.0" cy="4259.0" r="15" fill="#9b5a25"/>
<circle cx="1246.0" cy="4259.0" r="15" fill="#9b5a25"/>
<circle cx="981.0" cy="4346.7" r="15" fill="#9b5a25"/>
<circle cx="1028.5" cy="4348.5" r="15" fill="#9b5a25"/>
<circle cx="1055.0" cy="4368.6" r="15" fill="#9b5a25"/>
<circle cx="1149.0" cy="4317.4" r="15" fill="#9b5a25"/>
<circle cx="1400.0" cy="4391.0" r="15" fill="#9b5a25"/>
<circle cx="1554.0" cy="4432.0" r="15" fill="#9b5a25"/>
<circle cx="1578.0" cy="4480.0" r="15" fill="#9b5a25"/>
<circle cx="1619.0" cy="4381.0" r="40" fill="#9b5a25"/>
<circle cx="1640.0" cy="4342.0" r="15" fill="#9b5a25"/>
<circle cx="803.1" cy="4445.3" r="15" fill="#8b8b83"/>
<circle cx="1028.5" cy="4383.2" r="15" fill="#8b8b83"/>
<circle cx="1055.0" cy="4383.2" r="15" fill="#8b8b83"/>
<circle cx="982.0" cy="4445.3" r="15" fill="#8b8b83"/>
<circle cx="1055.0" cy="4445.3" r="15" fill="#8b8b83"/>
<circle cx="1149.0" cy="4397.8" r="15" fill="#8b8b83"/>
<circle cx="1246.0" cy="4401.0" r="15" fill="#8b8b83"/>
<circle cx="1246.0" cy="4418.0" r="15" fill="#8b8b83"/>
<circle cx="1400.0" cy="4494.0" r="15" fill="#8b8b83"/>
<circle cx="1554.0" cy="4514.4" r="15" fill="#8b8b83"/>
<circle cx="1578.0" cy="4555.5" r="15" fill="#8b8b83"/>
<circle cx="1622.6" cy="4463.0" r="40" fill="#8b8b83"/>
<circle cx="981.7" cy="3623.0" r="15" fill="#006400"/>
<circle cx="1028.0" cy="3777.5" r="15" fill="#006400"/>
<circle cx="1054.7" cy="3643.0" r="15" fill="#006400"/>
<circle cx="1054.7" cy="3664.5" r="15" fill="#006400"/>
<circle cx="1147.7" cy="3584.4" r="15" fill="#006400"/>
<circle cx="1246.4" cy="3623.0" r="15" fill="#006400"/>
<circle cx="1246.4" cy="3663.0" r="15" fill="#006400"/>
<circle cx="1398.8" cy="3700.0" r="15" fill="#006400"/>
<circle cx="981.7" cy="3691.7" r="10" fill="#ff9900"/>
<circle cx="1028.0" cy="3848.0" r="13" fill="#ff9900"/>
<circle cx="1054.7" cy="3716.0" r="12" fill="#ff9900"/>
<circle cx="1147.7" cy="3656.0" r="15" fill="#ff9900"/>
<circle cx="1246.4" cy="3691.7" r="15" fill="#ff9900"/>
<circle cx="1246.4" cy="3713.0" r="13" fill="#ff9900"/>
<circle cx="1398.8" cy="3751.8" r="10" fill="#ff9900"/>
<circle cx="981.7" cy="3741.8" r="15" fill="#0000ff"/>
<circle cx="1028.0" cy="3879.0" r="13" fill="#0000ff"/>
<circle cx="1028.0" cy="3915.0" r="13" fill="#0000ff"/>
<circle cx="1054.7" cy="3786.0" r="12" fill="#0000ff"/>
<circle cx="1147.7" cy="3762.5" r="8.5" fill="#0000ff"/>
<circle cx="1246.4" cy="3762.0" r="12" fill="#0000ff"/>
<circle cx="1398.8" cy="3907.7" r="8.5" fill="#0000ff"/>
<circle cx="981.7" cy="3750.0" r="10" fill="#ff0000"/>
<circle cx="1028.0" cy="3890.0" r="12" fill="#ff0000"/>
<circle cx="1028.0" cy="3908.0" r="12" fill="#ff0000"/>
<circle cx="1054.7" cy="3770.0" r="15" fill="#ff0000"/>
<circle cx="1147.7" cy="3691.7" r="9" fill="#ff0000"/>
<circle cx="1246.4" cy="3732.5" r="13" fill="#ff0000"/>
<circle cx="1246.4" cy="3750.0" r="13" fill="#ff0000"/>
<circle cx="1398.8" cy="3809.7" r="9" fill="#ff0000"/>
<circle cx="981.7" cy="3801.9" r="11" fill="#a0008c"/>
<circle cx="1028.0" cy="3929.0" r="15" fill="#a0008c"/>
<circle cx="1054.7" cy="3804.0" r="12" fill="#a0008c"/>
<circle cx="1147.7" cy="3800.0" r="8.5" fill="#a0008c"/>
<circle cx="1246.4" cy="3777.0" r="13" fill="#a0008c"/>
<circle cx="1246.4" cy="3800.0" r="12" fill="#a0008c"/>
<circle cx="1398.8" cy="3886.0" r="10" fill="#a0008c"/>
<circle cx="1592.8" cy="3736.3" r="14.5" fill="#006400"/>
<circle cx="1632.4" cy="3741.0" r="21" fill="#006400"/>
<circle cx="1622.0" cy="3771.0" r="36" fill="#006400"/>
<circle cx="1551.8" cy="3797.0" r="15" fill="#006400"/>
<circle cx="1567.0" cy="3802.0" r="15" fill="#006400"/>
<circle cx="1590.6" cy="3762.0" r="8.5" fill="#0000ff"/>
<circle cx="1590.6" cy="3788.0" r="8.5" fill="#0000ff"/>
<circle cx="1624.8" cy="3788.0" r="9" fill="#0000ff"/>
<circle cx="1621.8" cy="3834.0" r="37" fill="#0000ff"/>
<circle cx="1553.0" cy="3879.0" r="10" fill="#0000ff"/>
<circle cx="1574.6" cy="3861.0" r="8" fill="#0000ff"/>
<circle cx="1621.8" cy="3845.0" r="38" fill="#ff9900"/>
<circle cx="1575.0" cy="3838.0" r="10" fill="#ff9900"/>
<circle cx="1624.8" cy="3876.0" r="36.5" fill="#ff0000"/>
<circle cx="1554.8" cy="3891.6" r="12" fill="#ff0000"/>
<circle cx="1576.0" cy="3888.5" r="12" fill="#ff0000"/>
<circle cx="1574.6" cy="3913.0" r="7" fill="#ff0000"/>
<circle cx="1626.0" cy="3893.0" r="36" fill="#a0008c"/>
<circle cx="1614.0" cy="3927.0" r="40" fill="#a0008c"/>
<circle cx="1591.0" cy="3867.0" r="12" fill="#a0008c"/>
<circle cx="1551.8" cy="3952.5" r="12" fill="#a0008c"/>
<circle cx="1579.0" cy="3955.5" r="12" fill="#a0008c"/>
<rect x="487.6" y="2646.8" width="1206.9" height="2007.1999999999998" fill="none" stroke="#7f7f7f" stroke-width="4.2"/>
<line x1="468.6" x2="485.6" y1="2703.8" y2="2703.8" stroke="#000" stroke-width="4.2"/>
<line x1="468.6" x2="485.6" y1="3074.6" y2="3074.6" stroke="#000" stroke-width="4.2"/>
<line x1="468.6" x2="485.6" y1="3445.1" y2="3445.1" stroke="#000" stroke-width="4.2"/>
<line x1="468.6" x2="485.6" y1="3819.9" y2="3819.9" stroke="#000" stroke-width="4.2"/>
<line x1="468.6" x2="485.6" y1="4190.6" y2="4190.6" stroke="#000" stroke-width="4.2"/>
<line x1="468.6" x2="485.6" y1="4560.8" y2="4560.8" stroke="#000" stroke-width="4.2"/>
<line x1="542.7" x2="542.7" y1="4656.0" y2="4669.0" stroke="#000" stroke-width="4.2"/>
<line x1="842.0" x2="842.0" y1="4656.0" y2="4669.0" stroke="#000" stroke-width="4.2"/>
<line x1="1139.7" x2="1139.7" y1="4656.0" y2="4669.0" stroke="#000" stroke-width="4.2"/>
<line x1="1435.0" x2="1435.0" y1="4656.0" y2="4669.0" stroke="#000" stroke-width="4.2"/>
<text x="456.6" y="2726.8" font-size="58" text-anchor="end" font-weight="normal" textLength="134.0" lengthAdjust="spacingAndGlyphs">1.100</text>
<text x="456.6" y="3097.6" font-size="58" text-anchor="end" font-weight="normal" textLength="134.0" lengthAdjust="spacingAndGlyphs">1.075</text>
<text x="456.6" y="3468.1" font-size="58" text-anchor="end" font-weight="normal" textLength="134.0" lengthAdjust="spacingAndGlyphs">1.050</text>
<text x="456.6" y="3842.9" font-size="58" text-anchor="end" font-weight="normal" textLength="134.0" lengthAdjust="spacingAndGlyphs">1.025</text>
<text x="456.6" y="4213.6" font-size="58" text-anchor="end" font-weight="normal" textLength="134.0" lengthAdjust="spacingAndGlyphs">1.000</text>
<text x="456.6" y="4583.8" font-size="58" text-anchor="end" font-weight="normal" textLength="134.0" lengthAdjust="spacingAndGlyphs">0.975</text>
<text x="542.7" y="4732.5" font-size="58" text-anchor="middle" font-weight="normal" textLength="114.0" lengthAdjust="spacingAndGlyphs">1925</text>
<text x="842.0" y="4732.5" font-size="58" text-anchor="middle" font-weight="normal" textLength="114.0" lengthAdjust="spacingAndGlyphs">1950</text>
<text x="1139.7" y="4732.5" font-size="58" text-anchor="middle" font-weight="normal" textLength="114.0" lengthAdjust="spacingAndGlyphs">1975</text>
<text x="1435.0" y="4732.5" font-size="58" text-anchor="middle" font-weight="normal" textLength="114.0" lengthAdjust="spacingAndGlyphs">2000</text>
<text x="72.0" y="2718.0" font-size="64" text-anchor="start" font-weight="bold" textLength="69.0" lengthAdjust="spacingAndGlyphs">B)</text>
<text x="1787.6" y="2706.6" font-size="66" text-anchor="start" font-weight="bold" textLength="389.0" lengthAdjust="spacingAndGlyphs">ZIKV (n= 376)</text>
<text transform="translate(298.5,3651.7) rotate(-90)" font-size="75" text-anchor="middle" textLength="494" lengthAdjust="spacingAndGlyphs">Normalized_CAI</text>
<text x="1088.0" y="4812.0" font-size="67" text-anchor="middle" font-weight="normal" textLength="138.0" lengthAdjust="spacingAndGlyphs">Year</text>
<text x="1765.0" y="3045.0" font-size="67" text-anchor="start" font-weight="normal" textLength="165.0" lengthAdjust="spacingAndGlyphs">Table</text>
<rect x="1767.1" y="3071.1" width="97.8" height="98.6" fill="#fff" stroke="#cccccc" stroke-width="4.2"/>
<rect x="1767.1" y="3169.7" width="97.8" height="98.6" fill="#fff" stroke="#cccccc" stroke-width="4.2"/>
<rect x="1767.1" y="3268.2" width="97.8" height="98.6" fill="#fff" stroke="#cccccc" stroke-width="4.2"/>
<rect x="1767.1" y="3366.8" width="97.8" height="98.6" fill="#fff" stroke="#cccccc" stroke-width="4.2"/>
<rect x="1767.1" y="3465.3" width="97.8" height="98.6" fill="#fff" stroke="#cccccc" stroke-width="4.2"/>
<rect x="1767.1" y="3563.9" width="97.8" height="98.6" fill="#fff" stroke="#cccccc" stroke-width="4.2"/>
<rect x="1767.1" y="3662.5" width="97.8" height="98.6" fill="#fff" stroke="#cccccc" stroke-width="4.2"/>
<rect x="1767.1" y="3761.0" width="97.8" height="98.6" fill="#fff" stroke="#cccccc" stroke-width="4.2"/>
<rect x="1765.0" y="3069.0" width="98" height="98.6" fill="#7f7f7f" fill-opacity="0.4"/>
<rect x="1773.0" y="3112.0" width="77" height="21" fill="#404040"/>
<rect x="1808.0" y="3107.5" width="13" height="30" fill="#404040"/>
<text x="1877.0" y="3145.5" font-size="58" text-anchor="start" font-weight="normal" textLength="364.0" lengthAdjust="spacingAndGlyphs">Aedes_aegypti</text>
<rect x="1765.0" y="3167.6" width="98" height="98.6" fill="#a0522d" fill-opacity="0.4"/>
<rect x="1773.0" y="3210.1" width="77" height="21" fill="#9b5a25"/>
<rect x="1808.0" y="3205.6" width="13" height="30" fill="#9b5a25"/>
<text x="1877.0" y="3243.6" font-size="58" text-anchor="start" font-weight="normal" textLength="435.0" lengthAdjust="spacingAndGlyphs">Aedes_albopictus</text>
<rect x="1765.0" y="3266.1" width="98" height="98.6" fill="#007f2a" fill-opacity="0.47"/>
<rect x="1773.0" y="3308.2" width="77" height="21" fill="#006400"/>
<rect x="1808.0" y="3303.7" width="13" height="30" fill="#006400"/>
<text x="1877.0" y="3341.7" font-size="58" text-anchor="start" font-weight="normal" textLength="541.6" lengthAdjust="spacingAndGlyphs">Chlorocebus_aethiops</text>
<rect x="1765.0" y="3364.7" width="98" height="98.6" fill="#8b8b83" fill-opacity="0.4"/>
<rect x="1773.0" y="3406.3" width="77" height="21" fill="#8b8b83"/>
<rect x="1808.0" y="3401.8" width="13" height="30" fill="#8b8b83"/>
<text x="1877.0" y="3439.8" font-size="58" text-anchor="start" font-weight="normal" textLength="340.0" lengthAdjust="spacingAndGlyphs">Culex_pipiens</text>
<rect x="1765.0" y="3463.2" width="98" height="98.6" fill="#0000ff" fill-opacity="0.4"/>
<rect x="1773.0" y="3504.4" width="77" height="21" fill="#0000ff"/>
<rect x="1808.0" y="3499.9" width="13" height="30" fill="#0000ff"/>
<text x="1877.0" y="3537.9" font-size="58" text-anchor="start" font-weight="normal" textLength="491.0" lengthAdjust="spacingAndGlyphs">Erythrocebus_patas</text>
<rect x="1765.0" y="3561.8" width="98" height="98.6" fill="#ff9d00" fill-opacity="0.4"/>
<rect x="1773.0" y="3602.5" width="77" height="21" fill="#ff9900"/>
<rect x="1808.0" y="3598.0" width="13" height="30" fill="#ff9900"/>
<text x="1877.0" y="3636.0" font-size="58" text-anchor="start" font-weight="normal" textLength="324.0" lengthAdjust="spacingAndGlyphs">Human-HKgs</text>
<rect x="1765.0" y="3660.4" width="98" height="98.6" fill="#ff0000" fill-opacity="0.4"/>
<rect x="1773.0" y="3700.6" width="77" height="21" fill="#ff0000"/>
<rect x="1808.0" y="3696.1" width="13" height="30" fill="#ff0000"/>
<text x="1877.0" y="3734.1" font-size="58" text-anchor="start" font-weight="normal" textLength="562.0" lengthAdjust="spacingAndGlyphs">Human_antiviral_genes</text>
<rect x="1765.0" y="3758.9" width="98" height="98.6" fill="#b0119d" fill-opacity="0.4"/>
<rect x="1773.0" y="3798.7" width="77" height="21" fill="#a0008c"/>
<rect x="1808.0" y="3794.2" width="13" height="30" fill="#a0008c"/>
<text x="1877.0" y="3832.2" font-size="58" text-anchor="start" font-weight="normal" textLength="408.0" lengthAdjust="spacingAndGlyphs">Macaca_mulatta</text>
<text x="1763.0" y="3991.4" font-size="67" text-anchor="start" font-weight="normal" textLength="41.0" lengthAdjust="spacingAndGlyphs">n</text>
<rect x="1767.1" y="4017.1" width="97.8" height="98.9" fill="#fff" stroke="#cccccc" stroke-width="4.2"/>
<circle cx="1814.3" cy="4065.5" r="23.5" fill="#000"/>
<text x="1877.0" y="4089.5" font-size="58" text-anchor="start" font-weight="normal" textLength="57.0" lengthAdjust="spacingAndGlyphs">50</text>
<rect x="1767.1" y="4116.0" width="97.8" height="98.9" fill="#fff" stroke="#cccccc" stroke-width="4.2"/>
<circle cx="1814.3" cy="4164.4" r="29.6" fill="#000"/>
<text x="1877.0" y="4188.4" font-size="58" text-anchor="start" font-weight="normal" textLength="86.0" lengthAdjust="spacingAndGlyphs">100</text>
<rect x="1767.1" y="4214.9" width="97.8" height="98.9" fill="#fff" stroke="#cccccc" stroke-width="4.2"/>
<circle cx="1814.3" cy="4263.3" r="36" fill="#000"/>
<text x="1877.0" y="4287.3" font-size="58" text-anchor="start" font-weight="normal" textLength="86.0" lengthAdjust="spacingAndGlyphs">150</text>
</svg>
</body></html>
